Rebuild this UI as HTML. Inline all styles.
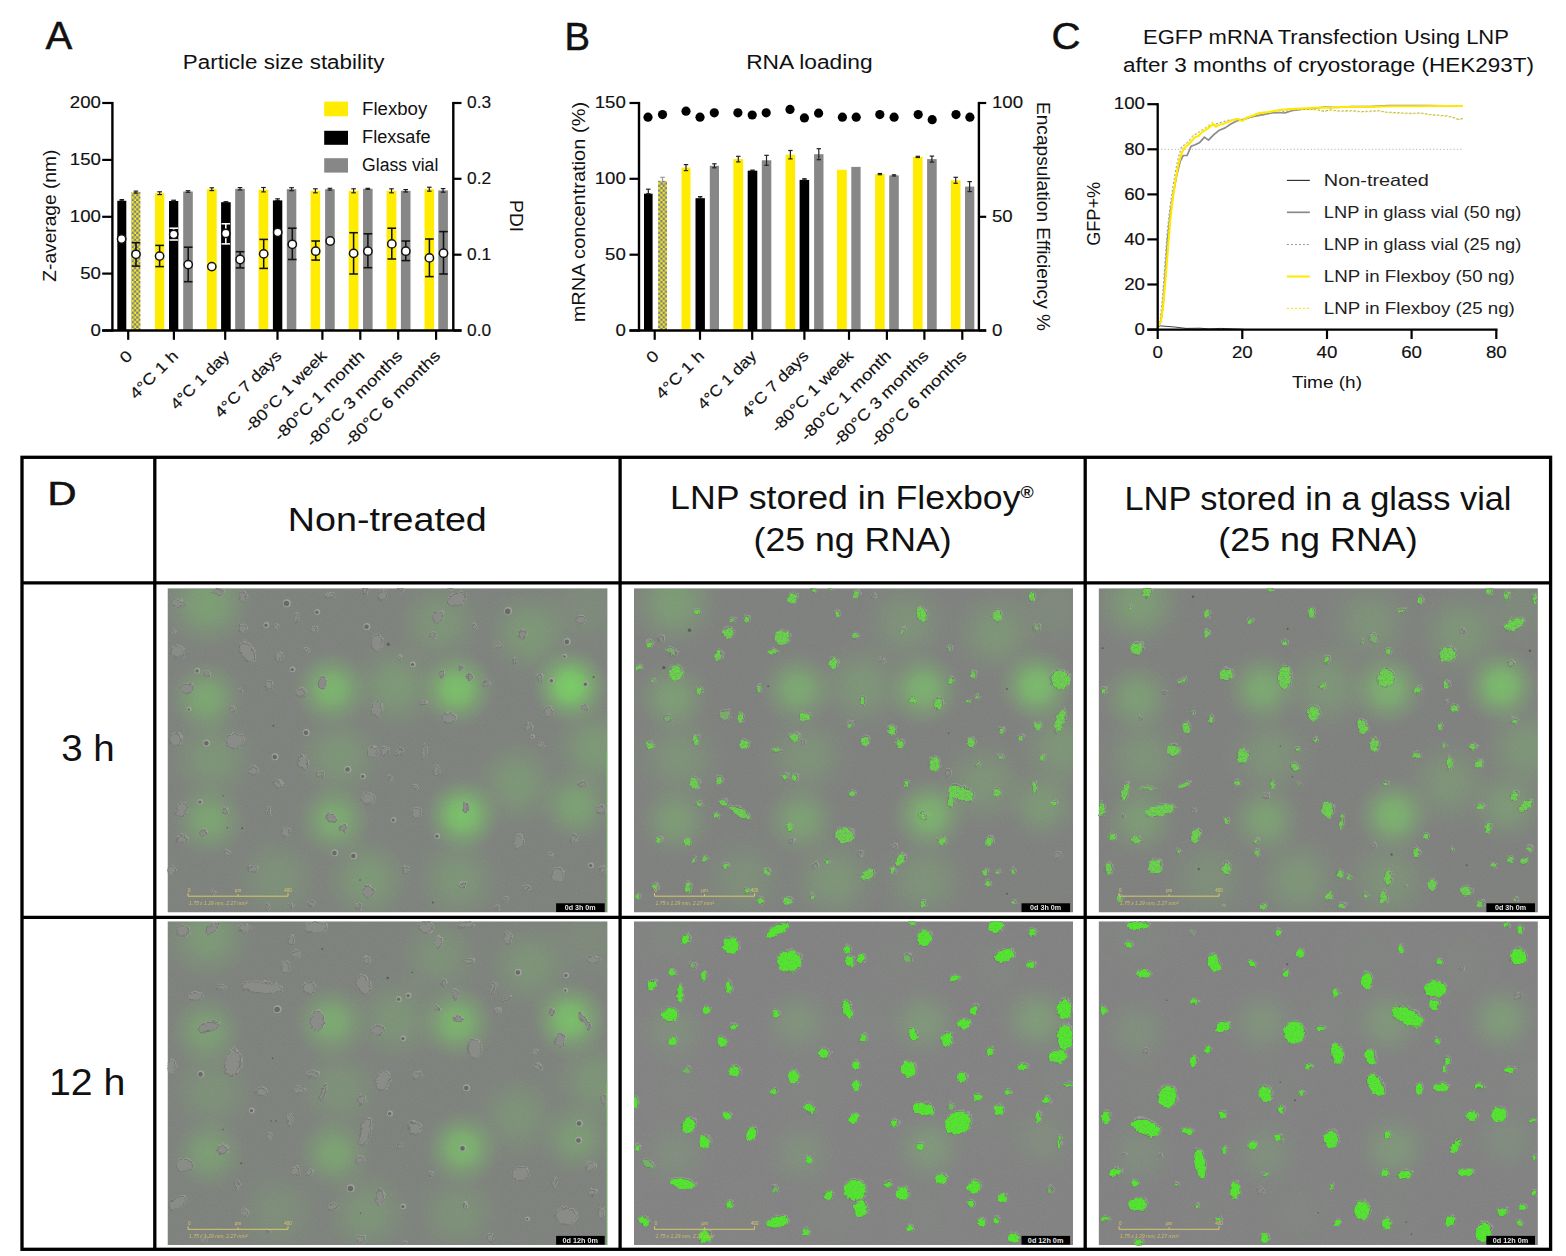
<!DOCTYPE html>
<html><head><meta charset="utf-8"><title>Figure</title>
<style>
html,body{margin:0;padding:0;background:#fff;}
svg{display:block;font-family:"Liberation Sans", sans-serif;}
</style></head>
<body>
<svg width="1566" height="1256" viewBox="0 0 1566 1256">
<defs>
<pattern id="hatch" x="131.5" y="196.4" width="4.7" height="4.7" patternUnits="userSpaceOnUse">
<rect width="4.7" height="4.7" fill="#F5EC10"/><rect x="2.35" y="0" width="2.35" height="2.35" fill="#7a7a9c"/><rect x="0" y="2.35" width="2.35" height="2.35" fill="#7a7a9c"/>
</pattern>

<radialGradient id="blob"><stop offset="0" stop-color="rgb(120,216,98)" stop-opacity="0.88"/><stop offset="0.3" stop-color="rgb(120,214,98)" stop-opacity="0.74"/><stop offset="0.6" stop-color="rgb(120,205,100)" stop-opacity="0.36"/><stop offset="0.85" stop-color="rgb(122,195,105)" stop-opacity="0.09"/><stop offset="1" stop-color="rgb(122,190,105)" stop-opacity="0"/></radialGradient>
<filter id="rough" x="-2%" y="-2%" width="104%" height="104%"><feTurbulence type="fractalNoise" baseFrequency="0.22" numOctaves="2" seed="3" result="n"/><feDisplacementMap in="SourceGraphic" in2="n" scale="5" xChannelSelector="R" yChannelSelector="G"/></filter>
<filter id="roughtex" x="-2%" y="-2%" width="104%" height="104%"><feTurbulence type="fractalNoise" baseFrequency="0.22" numOctaves="2" seed="3" result="n"/><feDisplacementMap in="SourceGraphic" in2="n" scale="5" xChannelSelector="R" yChannelSelector="G" result="d"/><feTurbulence type="fractalNoise" baseFrequency="0.55" numOctaves="2" seed="11" result="n2"/><feColorMatrix in="n2" type="matrix" values="0 0 0 0 0  0 0 0 0 0  0 0 0 0 0  1.7 0 0 0 -0.08" result="m"/><feComposite in="d" in2="m" operator="in" result="c"/><feGaussianBlur in="c" stdDeviation="0.7"/></filter>
<filter id="roughtex2" x="-2%" y="-2%" width="104%" height="104%"><feTurbulence type="fractalNoise" baseFrequency="0.22" numOctaves="2" seed="3" result="n"/><feDisplacementMap in="SourceGraphic" in2="n" scale="5" xChannelSelector="R" yChannelSelector="G" result="d"/><feTurbulence type="fractalNoise" baseFrequency="0.6" numOctaves="2" seed="5" result="n2"/><feColorMatrix in="n2" type="matrix" values="0 0 0 0 0  0 0 0 0 0  0 0 0 0 0  1.5 0 0 0 0.2" result="m"/><feComposite in="d" in2="m" operator="in" result="c"/><feGaussianBlur in="c" stdDeviation="0.55"/></filter>
<filter id="grain" x="0" y="0" width="100%" height="100%"><feTurbulence type="fractalNoise" baseFrequency="0.55" numOctaves="2" seed="7" result="n"/><feColorMatrix in="n" type="matrix" values="0 0 0 0 0.5  0 0 0 0 0.5  0 0 0 0 0.5  0.9 0 0 0 -0.33"/></filter>

</defs>
<rect width="1566" height="1256" fill="#fff"/>
<text x="45.4" y="49.4" font-size="39.5" text-anchor="start" fill="#111" textLength="26.8" lengthAdjust="spacingAndGlyphs" stroke="#111" stroke-width="0.5">A</text>
<text x="564.6" y="49.6" font-size="39.5" text-anchor="start" fill="#111" textLength="25.5" lengthAdjust="spacingAndGlyphs" stroke="#111" stroke-width="0.5">B</text>
<text x="1051.5" y="49.3" font-size="36.5" text-anchor="start" fill="#111" textLength="29.0" lengthAdjust="spacingAndGlyphs" stroke="#111" stroke-width="0.5">C</text>
<rect x="117.3" y="200.8" width="9.0" height="129.7" fill="#000000" />
<line x1="121.8" y1="199.6" x2="121.8" y2="200.8" stroke="#1a1a1a" stroke-width="1.15" />
<line x1="119.5" y1="199.6" x2="124.1" y2="199.6" stroke="#1a1a1a" stroke-width="1.15" />
<line x1="119.5" y1="200.8" x2="124.1" y2="200.8" stroke="#1a1a1a" stroke-width="1.15" />
<rect x="131.3" y="192.1" width="9.1" height="138.4" fill="url(#hatch)" />
<line x1="135.9" y1="191.1" x2="135.9" y2="193.1" stroke="#1a1a1a" stroke-width="1.15" />
<line x1="133.6" y1="191.1" x2="138.2" y2="191.1" stroke="#1a1a1a" stroke-width="1.15" />
<line x1="133.6" y1="193.1" x2="138.2" y2="193.1" stroke="#1a1a1a" stroke-width="1.15" />
<rect x="155.0" y="193.2" width="9.3" height="137.3" fill="#FFEC00" />
<line x1="159.7" y1="191.8" x2="159.7" y2="194.6" stroke="#1a1a1a" stroke-width="1.15" />
<line x1="157.3" y1="191.8" x2="162.0" y2="191.8" stroke="#1a1a1a" stroke-width="1.15" />
<line x1="157.3" y1="194.6" x2="162.0" y2="194.6" stroke="#1a1a1a" stroke-width="1.15" />
<rect x="169.0" y="201.0" width="9.3" height="129.5" fill="#000000" />
<line x1="173.7" y1="200.2" x2="173.7" y2="201.0" stroke="#1a1a1a" stroke-width="1.15" />
<line x1="171.3" y1="200.2" x2="176.0" y2="200.2" stroke="#1a1a1a" stroke-width="1.15" />
<line x1="171.3" y1="201.0" x2="176.0" y2="201.0" stroke="#1a1a1a" stroke-width="1.15" />
<rect x="183.2" y="191.5" width="9.6" height="139.0" fill="#878787" />
<line x1="188.0" y1="190.7" x2="188.0" y2="192.3" stroke="#1a1a1a" stroke-width="1.15" />
<line x1="185.7" y1="190.7" x2="190.3" y2="190.7" stroke="#1a1a1a" stroke-width="1.15" />
<line x1="185.7" y1="192.3" x2="190.3" y2="192.3" stroke="#1a1a1a" stroke-width="1.15" />
<rect x="206.9" y="189.2" width="9.8" height="141.3" fill="#FFEC00" />
<line x1="211.8" y1="187.8" x2="211.8" y2="190.6" stroke="#1a1a1a" stroke-width="1.15" />
<line x1="209.5" y1="187.8" x2="214.1" y2="187.8" stroke="#1a1a1a" stroke-width="1.15" />
<line x1="209.5" y1="190.6" x2="214.1" y2="190.6" stroke="#1a1a1a" stroke-width="1.15" />
<rect x="221.1" y="202.2" width="9.6" height="128.3" fill="#000000" />
<line x1="225.9" y1="201.7" x2="225.9" y2="202.2" stroke="#1a1a1a" stroke-width="1.15" />
<line x1="223.6" y1="201.7" x2="228.2" y2="201.7" stroke="#1a1a1a" stroke-width="1.15" />
<line x1="223.6" y1="202.2" x2="228.2" y2="202.2" stroke="#1a1a1a" stroke-width="1.15" />
<rect x="235.2" y="188.8" width="9.6" height="141.7" fill="#878787" />
<line x1="240.0" y1="187.6" x2="240.0" y2="190.0" stroke="#1a1a1a" stroke-width="1.15" />
<line x1="237.7" y1="187.6" x2="242.3" y2="187.6" stroke="#1a1a1a" stroke-width="1.15" />
<line x1="237.7" y1="190.0" x2="242.3" y2="190.0" stroke="#1a1a1a" stroke-width="1.15" />
<rect x="258.6" y="189.7" width="9.7" height="140.8" fill="#FFEC00" />
<line x1="263.5" y1="187.5" x2="263.5" y2="191.9" stroke="#1a1a1a" stroke-width="1.15" />
<line x1="261.2" y1="187.5" x2="265.8" y2="187.5" stroke="#1a1a1a" stroke-width="1.15" />
<line x1="261.2" y1="191.9" x2="265.8" y2="191.9" stroke="#1a1a1a" stroke-width="1.15" />
<rect x="272.9" y="200.4" width="9.4" height="130.1" fill="#000000" />
<line x1="277.6" y1="198.8" x2="277.6" y2="200.4" stroke="#1a1a1a" stroke-width="1.15" />
<line x1="275.3" y1="198.8" x2="279.9" y2="198.8" stroke="#1a1a1a" stroke-width="1.15" />
<line x1="275.3" y1="200.4" x2="279.9" y2="200.4" stroke="#1a1a1a" stroke-width="1.15" />
<rect x="286.8" y="189.2" width="9.5" height="141.3" fill="#878787" />
<line x1="291.6" y1="187.7" x2="291.6" y2="190.7" stroke="#1a1a1a" stroke-width="1.15" />
<line x1="289.2" y1="187.7" x2="293.9" y2="187.7" stroke="#1a1a1a" stroke-width="1.15" />
<line x1="289.2" y1="190.7" x2="293.9" y2="190.7" stroke="#1a1a1a" stroke-width="1.15" />
<rect x="310.6" y="190.8" width="9.6" height="139.7" fill="#FFEC00" />
<line x1="315.4" y1="188.8" x2="315.4" y2="192.8" stroke="#1a1a1a" stroke-width="1.15" />
<line x1="313.1" y1="188.8" x2="317.7" y2="188.8" stroke="#1a1a1a" stroke-width="1.15" />
<line x1="313.1" y1="192.8" x2="317.7" y2="192.8" stroke="#1a1a1a" stroke-width="1.15" />
<rect x="325.1" y="189.2" width="9.6" height="141.3" fill="#878787" />
<line x1="329.9" y1="188.3" x2="329.9" y2="190.1" stroke="#1a1a1a" stroke-width="1.15" />
<line x1="327.6" y1="188.3" x2="332.2" y2="188.3" stroke="#1a1a1a" stroke-width="1.15" />
<line x1="327.6" y1="190.1" x2="332.2" y2="190.1" stroke="#1a1a1a" stroke-width="1.15" />
<rect x="348.7" y="190.8" width="9.8" height="139.7" fill="#FFEC00" />
<line x1="353.6" y1="188.8" x2="353.6" y2="192.8" stroke="#1a1a1a" stroke-width="1.15" />
<line x1="351.3" y1="188.8" x2="355.9" y2="188.8" stroke="#1a1a1a" stroke-width="1.15" />
<line x1="351.3" y1="192.8" x2="355.9" y2="192.8" stroke="#1a1a1a" stroke-width="1.15" />
<rect x="363.0" y="188.8" width="9.6" height="141.7" fill="#878787" />
<line x1="367.8" y1="188.3" x2="367.8" y2="189.3" stroke="#1a1a1a" stroke-width="1.15" />
<line x1="365.5" y1="188.3" x2="370.1" y2="188.3" stroke="#1a1a1a" stroke-width="1.15" />
<line x1="365.5" y1="189.3" x2="370.1" y2="189.3" stroke="#1a1a1a" stroke-width="1.15" />
<rect x="386.6" y="190.8" width="9.8" height="139.7" fill="#FFEC00" />
<line x1="391.5" y1="188.8" x2="391.5" y2="192.8" stroke="#1a1a1a" stroke-width="1.15" />
<line x1="389.2" y1="188.8" x2="393.8" y2="188.8" stroke="#1a1a1a" stroke-width="1.15" />
<line x1="389.2" y1="192.8" x2="393.8" y2="192.8" stroke="#1a1a1a" stroke-width="1.15" />
<rect x="400.9" y="190.8" width="9.6" height="139.7" fill="#878787" />
<line x1="405.7" y1="189.6" x2="405.7" y2="192.0" stroke="#1a1a1a" stroke-width="1.15" />
<line x1="403.4" y1="189.6" x2="408.0" y2="189.6" stroke="#1a1a1a" stroke-width="1.15" />
<line x1="403.4" y1="192.0" x2="408.0" y2="192.0" stroke="#1a1a1a" stroke-width="1.15" />
<rect x="424.5" y="189.2" width="9.6" height="141.3" fill="#FFEC00" />
<line x1="429.3" y1="187.2" x2="429.3" y2="191.2" stroke="#1a1a1a" stroke-width="1.15" />
<line x1="427.0" y1="187.2" x2="431.6" y2="187.2" stroke="#1a1a1a" stroke-width="1.15" />
<line x1="427.0" y1="191.2" x2="431.6" y2="191.2" stroke="#1a1a1a" stroke-width="1.15" />
<rect x="438.3" y="190.4" width="9.6" height="140.1" fill="#878787" />
<line x1="443.1" y1="188.6" x2="443.1" y2="192.2" stroke="#1a1a1a" stroke-width="1.15" />
<line x1="440.8" y1="188.6" x2="445.4" y2="188.6" stroke="#1a1a1a" stroke-width="1.15" />
<line x1="440.8" y1="192.2" x2="445.4" y2="192.2" stroke="#1a1a1a" stroke-width="1.15" />
<circle cx="121.6" cy="239.0" r="4.15" fill="#fff" stroke="#111" stroke-width="1.5"/>
<line x1="136.0" y1="242.7" x2="136.0" y2="266.1" stroke="#111" stroke-width="1.55" />
<line x1="131.7" y1="242.7" x2="140.3" y2="242.7" stroke="#111" stroke-width="1.55" />
<line x1="131.7" y1="266.1" x2="140.3" y2="266.1" stroke="#111" stroke-width="1.55" />
<circle cx="136.0" cy="254.3" r="4.15" fill="#fff" stroke="#111" stroke-width="1.5"/>
<line x1="159.6" y1="245.4" x2="159.6" y2="266.6" stroke="#111" stroke-width="1.55" />
<line x1="155.3" y1="245.4" x2="163.9" y2="245.4" stroke="#111" stroke-width="1.55" />
<line x1="155.3" y1="266.6" x2="163.9" y2="266.6" stroke="#111" stroke-width="1.55" />
<circle cx="159.6" cy="256.1" r="4.15" fill="#fff" stroke="#111" stroke-width="1.5"/>
<line x1="173.7" y1="228.2" x2="173.7" y2="240.0" stroke="#fff" stroke-width="1.55" />
<line x1="169.4" y1="228.2" x2="178.0" y2="228.2" stroke="#fff" stroke-width="1.55" />
<line x1="169.4" y1="240.0" x2="178.0" y2="240.0" stroke="#fff" stroke-width="1.55" />
<circle cx="173.7" cy="234.3" r="4.15" fill="#fff" stroke="#111" stroke-width="1.5"/>
<line x1="188.2" y1="247.2" x2="188.2" y2="281.7" stroke="#111" stroke-width="1.55" />
<line x1="183.9" y1="247.2" x2="192.5" y2="247.2" stroke="#111" stroke-width="1.55" />
<line x1="183.9" y1="281.7" x2="192.5" y2="281.7" stroke="#111" stroke-width="1.55" />
<circle cx="188.2" cy="264.6" r="4.15" fill="#fff" stroke="#111" stroke-width="1.5"/>
<circle cx="211.8" cy="266.6" r="4.15" fill="#fff" stroke="#111" stroke-width="1.5"/>
<line x1="225.8" y1="223.8" x2="225.8" y2="243.9" stroke="#fff" stroke-width="1.55" />
<line x1="221.5" y1="223.8" x2="230.1" y2="223.8" stroke="#fff" stroke-width="1.55" />
<line x1="221.5" y1="243.9" x2="230.1" y2="243.9" stroke="#fff" stroke-width="1.55" />
<circle cx="225.8" cy="233.4" r="4.15" fill="#fff" stroke="#111" stroke-width="1.5"/>
<line x1="240.1" y1="251.7" x2="240.1" y2="267.9" stroke="#111" stroke-width="1.55" />
<line x1="235.8" y1="251.7" x2="244.4" y2="251.7" stroke="#111" stroke-width="1.55" />
<line x1="235.8" y1="267.9" x2="244.4" y2="267.9" stroke="#111" stroke-width="1.55" />
<circle cx="240.1" cy="259.5" r="4.15" fill="#fff" stroke="#111" stroke-width="1.5"/>
<line x1="263.7" y1="239.4" x2="263.7" y2="268.4" stroke="#111" stroke-width="1.55" />
<line x1="259.4" y1="239.4" x2="268.0" y2="239.4" stroke="#111" stroke-width="1.55" />
<line x1="259.4" y1="268.4" x2="268.0" y2="268.4" stroke="#111" stroke-width="1.55" />
<circle cx="263.7" cy="253.9" r="4.15" fill="#fff" stroke="#111" stroke-width="1.5"/>
<circle cx="277.7" cy="232.3" r="4.15" fill="#fff" stroke="#111" stroke-width="1.5"/>
<line x1="292.3" y1="228.2" x2="292.3" y2="259.5" stroke="#111" stroke-width="1.55" />
<line x1="288.0" y1="228.2" x2="296.6" y2="228.2" stroke="#111" stroke-width="1.55" />
<line x1="288.0" y1="259.5" x2="296.6" y2="259.5" stroke="#111" stroke-width="1.55" />
<circle cx="292.3" cy="244.3" r="4.15" fill="#fff" stroke="#111" stroke-width="1.5"/>
<line x1="315.7" y1="241.0" x2="315.7" y2="260.1" stroke="#111" stroke-width="1.55" />
<line x1="311.4" y1="241.0" x2="320.0" y2="241.0" stroke="#111" stroke-width="1.55" />
<line x1="311.4" y1="260.1" x2="320.0" y2="260.1" stroke="#111" stroke-width="1.55" />
<circle cx="315.7" cy="251.2" r="4.15" fill="#fff" stroke="#111" stroke-width="1.5"/>
<circle cx="330.2" cy="241.0" r="4.15" fill="#fff" stroke="#111" stroke-width="1.5"/>
<line x1="353.6" y1="232.7" x2="353.6" y2="274.0" stroke="#111" stroke-width="1.55" />
<line x1="349.3" y1="232.7" x2="357.9" y2="232.7" stroke="#111" stroke-width="1.55" />
<line x1="349.3" y1="274.0" x2="357.9" y2="274.0" stroke="#111" stroke-width="1.55" />
<circle cx="353.6" cy="253.4" r="4.15" fill="#fff" stroke="#111" stroke-width="1.5"/>
<line x1="367.9" y1="233.8" x2="367.9" y2="267.7" stroke="#111" stroke-width="1.55" />
<line x1="363.6" y1="233.8" x2="372.2" y2="233.8" stroke="#111" stroke-width="1.55" />
<line x1="363.6" y1="267.7" x2="372.2" y2="267.7" stroke="#111" stroke-width="1.55" />
<circle cx="367.9" cy="251.2" r="4.15" fill="#fff" stroke="#111" stroke-width="1.5"/>
<line x1="391.8" y1="228.2" x2="391.8" y2="259.0" stroke="#111" stroke-width="1.55" />
<line x1="387.5" y1="228.2" x2="396.1" y2="228.2" stroke="#111" stroke-width="1.55" />
<line x1="387.5" y1="259.0" x2="396.1" y2="259.0" stroke="#111" stroke-width="1.55" />
<circle cx="391.8" cy="243.9" r="4.15" fill="#fff" stroke="#111" stroke-width="1.5"/>
<line x1="405.8" y1="241.0" x2="405.8" y2="260.6" stroke="#111" stroke-width="1.55" />
<line x1="401.5" y1="241.0" x2="410.1" y2="241.0" stroke="#111" stroke-width="1.55" />
<line x1="401.5" y1="260.6" x2="410.1" y2="260.6" stroke="#111" stroke-width="1.55" />
<circle cx="405.8" cy="251.2" r="4.15" fill="#fff" stroke="#111" stroke-width="1.5"/>
<line x1="429.4" y1="239.0" x2="429.4" y2="276.6" stroke="#111" stroke-width="1.55" />
<line x1="425.1" y1="239.0" x2="433.7" y2="239.0" stroke="#111" stroke-width="1.55" />
<line x1="425.1" y1="276.6" x2="433.7" y2="276.6" stroke="#111" stroke-width="1.55" />
<circle cx="429.4" cy="257.9" r="4.15" fill="#fff" stroke="#111" stroke-width="1.5"/>
<line x1="443.5" y1="231.6" x2="443.5" y2="274.0" stroke="#111" stroke-width="1.55" />
<line x1="439.2" y1="231.6" x2="447.8" y2="231.6" stroke="#111" stroke-width="1.55" />
<line x1="439.2" y1="274.0" x2="447.8" y2="274.0" stroke="#111" stroke-width="1.55" />
<circle cx="443.5" cy="253.2" r="4.15" fill="#fff" stroke="#111" stroke-width="1.5"/>
<line x1="112.4" y1="101.9" x2="112.4" y2="331.6" stroke="#000" stroke-width="2.4" />
<line x1="102.2" y1="330.5" x2="461.5" y2="330.5" stroke="#000" stroke-width="2.3" />
<line x1="453.3" y1="101.9" x2="453.3" y2="330.5" stroke="#000" stroke-width="2.4" />
<line x1="102.2" y1="330.5" x2="112.4" y2="330.5" stroke="#000" stroke-width="2.2" />
<text x="100.9" y="335.7" font-size="15.6" text-anchor="end" fill="#111" textLength="10.4" lengthAdjust="spacingAndGlyphs" stroke="#111" stroke-width="0.15">0</text>
<line x1="102.2" y1="273.6" x2="112.4" y2="273.6" stroke="#000" stroke-width="2.2" />
<text x="100.9" y="278.8" font-size="15.6" text-anchor="end" fill="#111" textLength="20.7" lengthAdjust="spacingAndGlyphs" stroke="#111" stroke-width="0.15">50</text>
<line x1="102.2" y1="216.8" x2="112.4" y2="216.8" stroke="#000" stroke-width="2.2" />
<text x="100.9" y="221.9" font-size="15.6" text-anchor="end" fill="#111" textLength="31.1" lengthAdjust="spacingAndGlyphs" stroke="#111" stroke-width="0.15">100</text>
<line x1="102.2" y1="159.9" x2="112.4" y2="159.9" stroke="#000" stroke-width="2.2" />
<text x="100.9" y="165.1" font-size="15.6" text-anchor="end" fill="#111" textLength="31.1" lengthAdjust="spacingAndGlyphs" stroke="#111" stroke-width="0.15">150</text>
<line x1="102.2" y1="103.0" x2="112.4" y2="103.0" stroke="#000" stroke-width="2.2" />
<text x="100.9" y="108.2" font-size="15.6" text-anchor="end" fill="#111" textLength="31.1" lengthAdjust="spacingAndGlyphs" stroke="#111" stroke-width="0.15">200</text>
<line x1="453.3" y1="330.5" x2="461.5" y2="330.5" stroke="#000" stroke-width="2.2" />
<text x="467.0" y="335.7" font-size="15.6" text-anchor="start" fill="#111" textLength="24.1" lengthAdjust="spacingAndGlyphs" stroke="#111" stroke-width="0.15">0.0</text>
<line x1="453.3" y1="254.7" x2="461.5" y2="254.7" stroke="#000" stroke-width="2.2" />
<text x="467.0" y="259.9" font-size="15.6" text-anchor="start" fill="#111" textLength="24.1" lengthAdjust="spacingAndGlyphs" stroke="#111" stroke-width="0.15">0.1</text>
<line x1="453.3" y1="178.8" x2="461.5" y2="178.8" stroke="#000" stroke-width="2.2" />
<text x="467.0" y="184.0" font-size="15.6" text-anchor="start" fill="#111" textLength="24.1" lengthAdjust="spacingAndGlyphs" stroke="#111" stroke-width="0.15">0.2</text>
<line x1="453.3" y1="103.0" x2="461.5" y2="103.0" stroke="#000" stroke-width="2.2" />
<text x="467.0" y="108.2" font-size="15.6" text-anchor="start" fill="#111" textLength="24.1" lengthAdjust="spacingAndGlyphs" stroke="#111" stroke-width="0.15">0.3</text>
<line x1="128.2" y1="330.5" x2="128.2" y2="339.8" stroke="#000" stroke-width="2.2" />
<text x="133.4" y="356.8" font-size="15.6" text-anchor="end" fill="#111" textLength="10.5" lengthAdjust="spacingAndGlyphs" transform="rotate(-45 133.4 356.8)" stroke="#111" stroke-width="0.15">0</text>
<line x1="173.9" y1="330.5" x2="173.9" y2="339.8" stroke="#000" stroke-width="2.2" />
<text x="179.1" y="356.8" font-size="15.6" text-anchor="end" fill="#111" textLength="61.0" lengthAdjust="spacingAndGlyphs" transform="rotate(-45 179.1 356.8)" stroke="#111" stroke-width="0.15">4°C 1 h</text>
<line x1="225.2" y1="330.5" x2="225.2" y2="339.8" stroke="#000" stroke-width="2.2" />
<text x="230.4" y="356.8" font-size="15.6" text-anchor="end" fill="#111" textLength="76.0" lengthAdjust="spacingAndGlyphs" transform="rotate(-45 230.4 356.8)" stroke="#111" stroke-width="0.15">4°C 1 day</text>
<line x1="277.5" y1="330.5" x2="277.5" y2="339.8" stroke="#000" stroke-width="2.2" />
<text x="282.7" y="356.8" font-size="15.6" text-anchor="end" fill="#111" textLength="87.5" lengthAdjust="spacingAndGlyphs" transform="rotate(-45 282.7 356.8)" stroke="#111" stroke-width="0.15">4°C 7 days</text>
<line x1="322.4" y1="330.5" x2="322.4" y2="339.8" stroke="#000" stroke-width="2.2" />
<text x="327.6" y="356.8" font-size="15.6" text-anchor="end" fill="#111" textLength="108.5" lengthAdjust="spacingAndGlyphs" transform="rotate(-45 327.6 356.8)" stroke="#111" stroke-width="0.15">-80°C 1 week</text>
<line x1="360.3" y1="330.5" x2="360.3" y2="339.8" stroke="#000" stroke-width="2.2" />
<text x="365.5" y="356.8" font-size="15.6" text-anchor="end" fill="#111" textLength="120.5" lengthAdjust="spacingAndGlyphs" transform="rotate(-45 365.5 356.8)" stroke="#111" stroke-width="0.15">-80°C 1 month</text>
<line x1="398.2" y1="330.5" x2="398.2" y2="339.8" stroke="#000" stroke-width="2.2" />
<text x="403.4" y="356.8" font-size="15.6" text-anchor="end" fill="#111" textLength="128.5" lengthAdjust="spacingAndGlyphs" transform="rotate(-45 403.4 356.8)" stroke="#111" stroke-width="0.15">-80°C 3 months</text>
<line x1="436.1" y1="330.5" x2="436.1" y2="339.8" stroke="#000" stroke-width="2.2" />
<text x="441.3" y="356.8" font-size="15.6" text-anchor="end" fill="#111" textLength="128.5" lengthAdjust="spacingAndGlyphs" transform="rotate(-45 441.3 356.8)" stroke="#111" stroke-width="0.15">-80°C 6 months</text>
<text x="55.8" y="215.7" font-size="17.5" text-anchor="middle" fill="#111" textLength="131.9" lengthAdjust="spacingAndGlyphs" transform="rotate(-90 55.8 215.7)" >Z-average (nm)</text>
<text x="509.6" y="216.1" font-size="18.0" text-anchor="middle" fill="#111" textLength="32.0" lengthAdjust="spacingAndGlyphs" transform="rotate(90 509.6 216.1)" >PDI</text>
<text x="283.6" y="69.3" font-size="20" text-anchor="middle" fill="#111" textLength="201.5" lengthAdjust="spacingAndGlyphs" >Particle size stability</text>
<rect x="324.2" y="101.6" width="23.8" height="14.7" fill="#FFEC00" />
<text x="362.1" y="114.6" font-size="18" text-anchor="start" fill="#111" textLength="65.1" lengthAdjust="spacingAndGlyphs" >Flexboy</text>
<rect x="324.2" y="130.8" width="23.8" height="14.0" fill="#000000" />
<text x="362.1" y="143.1" font-size="18" text-anchor="start" fill="#111" textLength="68.4" lengthAdjust="spacingAndGlyphs" >Flexsafe</text>
<rect x="324.2" y="158.2" width="23.8" height="14.4" fill="#878787" />
<text x="362.1" y="171.4" font-size="18" text-anchor="start" fill="#111" textLength="76.2" lengthAdjust="spacingAndGlyphs" >Glass vial</text>
<rect x="644.0" y="193.7" width="8.6" height="136.8" fill="#000000" />
<line x1="648.3" y1="189.2" x2="648.3" y2="193.7" stroke="#222" stroke-width="1.2" />
<line x1="646.1" y1="189.2" x2="650.5" y2="189.2" stroke="#222" stroke-width="1.2" />
<line x1="646.1" y1="193.7" x2="650.5" y2="193.7" stroke="#222" stroke-width="1.2" />
<rect x="658.1" y="180.8" width="8.9" height="149.7" fill="url(#hatch)" />
<line x1="662.5" y1="177.3" x2="662.5" y2="184.3" stroke="#999" stroke-width="1.2" />
<line x1="660.3" y1="177.3" x2="664.8" y2="177.3" stroke="#999" stroke-width="1.2" />
<line x1="660.3" y1="184.3" x2="664.8" y2="184.3" stroke="#999" stroke-width="1.2" />
<rect x="681.5" y="167.6" width="9.0" height="162.9" fill="#FFEC00" />
<line x1="686.0" y1="164.6" x2="686.0" y2="170.6" stroke="#222" stroke-width="1.2" />
<line x1="683.8" y1="164.6" x2="688.2" y2="164.6" stroke="#222" stroke-width="1.2" />
<line x1="683.8" y1="170.6" x2="688.2" y2="170.6" stroke="#222" stroke-width="1.2" />
<rect x="695.5" y="198.2" width="9.4" height="132.3" fill="#000000" />
<line x1="700.2" y1="196.6" x2="700.2" y2="198.2" stroke="#222" stroke-width="1.2" />
<line x1="698.0" y1="196.6" x2="702.4" y2="196.6" stroke="#222" stroke-width="1.2" />
<line x1="698.0" y1="198.2" x2="702.4" y2="198.2" stroke="#222" stroke-width="1.2" />
<rect x="709.8" y="165.8" width="9.2" height="164.7" fill="#878787" />
<line x1="714.4" y1="163.8" x2="714.4" y2="167.8" stroke="#222" stroke-width="1.2" />
<line x1="712.2" y1="163.8" x2="716.6" y2="163.8" stroke="#222" stroke-width="1.2" />
<line x1="712.2" y1="167.8" x2="716.6" y2="167.8" stroke="#222" stroke-width="1.2" />
<rect x="733.4" y="159.1" width="9.8" height="171.4" fill="#FFEC00" />
<line x1="738.3" y1="156.3" x2="738.3" y2="161.9" stroke="#222" stroke-width="1.2" />
<line x1="736.1" y1="156.3" x2="740.5" y2="156.3" stroke="#222" stroke-width="1.2" />
<line x1="736.1" y1="161.9" x2="740.5" y2="161.9" stroke="#222" stroke-width="1.2" />
<rect x="747.7" y="170.7" width="9.6" height="159.8" fill="#000000" />
<line x1="752.5" y1="170.1" x2="752.5" y2="170.7" stroke="#222" stroke-width="1.2" />
<line x1="750.3" y1="170.1" x2="754.7" y2="170.1" stroke="#222" stroke-width="1.2" />
<line x1="750.3" y1="170.7" x2="754.7" y2="170.7" stroke="#222" stroke-width="1.2" />
<rect x="761.8" y="160.3" width="9.5" height="170.2" fill="#878787" />
<line x1="766.5" y1="155.3" x2="766.5" y2="165.3" stroke="#222" stroke-width="1.2" />
<line x1="764.3" y1="155.3" x2="768.8" y2="155.3" stroke="#222" stroke-width="1.2" />
<line x1="764.3" y1="165.3" x2="768.8" y2="165.3" stroke="#222" stroke-width="1.2" />
<rect x="785.6" y="154.7" width="9.6" height="175.8" fill="#FFEC00" />
<line x1="790.4" y1="150.5" x2="790.4" y2="158.9" stroke="#222" stroke-width="1.2" />
<line x1="788.2" y1="150.5" x2="792.6" y2="150.5" stroke="#222" stroke-width="1.2" />
<line x1="788.2" y1="158.9" x2="792.6" y2="158.9" stroke="#222" stroke-width="1.2" />
<rect x="799.6" y="179.9" width="9.6" height="150.6" fill="#000000" />
<line x1="804.4" y1="178.7" x2="804.4" y2="179.9" stroke="#222" stroke-width="1.2" />
<line x1="802.2" y1="178.7" x2="806.6" y2="178.7" stroke="#222" stroke-width="1.2" />
<line x1="802.2" y1="179.9" x2="806.6" y2="179.9" stroke="#222" stroke-width="1.2" />
<rect x="814.1" y="154.2" width="9.4" height="176.3" fill="#878787" />
<line x1="818.8" y1="148.7" x2="818.8" y2="159.7" stroke="#222" stroke-width="1.2" />
<line x1="816.6" y1="148.7" x2="821.0" y2="148.7" stroke="#222" stroke-width="1.2" />
<line x1="816.6" y1="159.7" x2="821.0" y2="159.7" stroke="#222" stroke-width="1.2" />
<rect x="837.0" y="169.8" width="9.8" height="160.7" fill="#FFEC00" />
<rect x="851.3" y="166.9" width="9.3" height="163.6" fill="#878787" />
<rect x="875.1" y="174.1" width="9.6" height="156.4" fill="#FFEC00" />
<line x1="879.9" y1="173.5" x2="879.9" y2="174.7" stroke="#222" stroke-width="1.2" />
<line x1="877.7" y1="173.5" x2="882.1" y2="173.5" stroke="#222" stroke-width="1.2" />
<line x1="877.7" y1="174.7" x2="882.1" y2="174.7" stroke="#222" stroke-width="1.2" />
<rect x="889.2" y="175.4" width="9.6" height="155.1" fill="#878787" />
<line x1="894.0" y1="174.8" x2="894.0" y2="176.0" stroke="#222" stroke-width="1.2" />
<line x1="891.8" y1="174.8" x2="896.2" y2="174.8" stroke="#222" stroke-width="1.2" />
<line x1="891.8" y1="176.0" x2="896.2" y2="176.0" stroke="#222" stroke-width="1.2" />
<rect x="913.0" y="156.9" width="9.6" height="173.6" fill="#FFEC00" />
<line x1="917.8" y1="156.3" x2="917.8" y2="157.5" stroke="#222" stroke-width="1.2" />
<line x1="915.6" y1="156.3" x2="920.0" y2="156.3" stroke="#222" stroke-width="1.2" />
<line x1="915.6" y1="157.5" x2="920.0" y2="157.5" stroke="#222" stroke-width="1.2" />
<rect x="927.1" y="159.1" width="9.6" height="171.4" fill="#878787" />
<line x1="931.9" y1="156.1" x2="931.9" y2="162.1" stroke="#222" stroke-width="1.2" />
<line x1="929.7" y1="156.1" x2="934.1" y2="156.1" stroke="#222" stroke-width="1.2" />
<line x1="929.7" y1="162.1" x2="934.1" y2="162.1" stroke="#222" stroke-width="1.2" />
<rect x="950.9" y="180.3" width="9.6" height="150.2" fill="#FFEC00" />
<line x1="955.7" y1="177.3" x2="955.7" y2="183.3" stroke="#222" stroke-width="1.2" />
<line x1="953.5" y1="177.3" x2="957.9" y2="177.3" stroke="#222" stroke-width="1.2" />
<line x1="953.5" y1="183.3" x2="957.9" y2="183.3" stroke="#222" stroke-width="1.2" />
<rect x="965.0" y="186.6" width="9.3" height="143.9" fill="#878787" />
<line x1="969.6" y1="181.6" x2="969.6" y2="191.6" stroke="#222" stroke-width="1.2" />
<line x1="967.4" y1="181.6" x2="971.9" y2="181.6" stroke="#222" stroke-width="1.2" />
<line x1="967.4" y1="191.6" x2="971.9" y2="191.6" stroke="#222" stroke-width="1.2" />
<circle cx="648.0" cy="117.2" r="4.6" fill="#000"/>
<circle cx="662.5" cy="114.6" r="4.6" fill="#000"/>
<circle cx="686.0" cy="111.2" r="4.6" fill="#000"/>
<circle cx="700.0" cy="117.2" r="4.6" fill="#000"/>
<circle cx="714.3" cy="112.8" r="4.6" fill="#000"/>
<circle cx="737.9" cy="112.8" r="4.6" fill="#000"/>
<circle cx="752.2" cy="115.0" r="4.6" fill="#000"/>
<circle cx="766.2" cy="112.8" r="4.6" fill="#000"/>
<circle cx="790.0" cy="109.4" r="4.6" fill="#000"/>
<circle cx="804.4" cy="117.9" r="4.6" fill="#000"/>
<circle cx="818.6" cy="113.2" r="4.6" fill="#000"/>
<circle cx="842.4" cy="117.2" r="4.6" fill="#000"/>
<circle cx="856.2" cy="117.2" r="4.6" fill="#000"/>
<circle cx="879.8" cy="114.6" r="4.6" fill="#000"/>
<circle cx="894.1" cy="117.2" r="4.6" fill="#000"/>
<circle cx="918.2" cy="114.6" r="4.6" fill="#000"/>
<circle cx="932.2" cy="119.7" r="4.6" fill="#000"/>
<circle cx="956.0" cy="114.6" r="4.6" fill="#000"/>
<circle cx="969.9" cy="117.2" r="4.6" fill="#000"/>
<line x1="639.0" y1="101.9" x2="639.0" y2="331.6" stroke="#000" stroke-width="2.4" />
<line x1="629.5" y1="330.5" x2="986.2" y2="330.5" stroke="#000" stroke-width="2.3" />
<line x1="978.9" y1="101.9" x2="978.9" y2="330.5" stroke="#000" stroke-width="2.4" />
<line x1="629.5" y1="330.5" x2="639.0" y2="330.5" stroke="#000" stroke-width="2.2" />
<text x="625.8" y="335.7" font-size="15.6" text-anchor="end" fill="#111" textLength="10.4" lengthAdjust="spacingAndGlyphs" stroke="#111" stroke-width="0.15">0</text>
<line x1="629.5" y1="254.7" x2="639.0" y2="254.7" stroke="#000" stroke-width="2.2" />
<text x="625.8" y="259.9" font-size="15.6" text-anchor="end" fill="#111" textLength="20.7" lengthAdjust="spacingAndGlyphs" stroke="#111" stroke-width="0.15">50</text>
<line x1="629.5" y1="178.8" x2="639.0" y2="178.8" stroke="#000" stroke-width="2.2" />
<text x="625.8" y="184.0" font-size="15.6" text-anchor="end" fill="#111" textLength="31.1" lengthAdjust="spacingAndGlyphs" stroke="#111" stroke-width="0.15">100</text>
<line x1="629.5" y1="103.0" x2="639.0" y2="103.0" stroke="#000" stroke-width="2.2" />
<text x="625.8" y="108.2" font-size="15.6" text-anchor="end" fill="#111" textLength="31.1" lengthAdjust="spacingAndGlyphs" stroke="#111" stroke-width="0.15">150</text>
<line x1="978.9" y1="330.5" x2="986.2" y2="330.5" stroke="#000" stroke-width="2.2" />
<text x="992.0" y="335.7" font-size="15.6" text-anchor="start" fill="#111" textLength="10.4" lengthAdjust="spacingAndGlyphs" stroke="#111" stroke-width="0.15">0</text>
<line x1="978.9" y1="216.8" x2="986.2" y2="216.8" stroke="#000" stroke-width="2.2" />
<text x="992.0" y="221.9" font-size="15.6" text-anchor="start" fill="#111" textLength="20.7" lengthAdjust="spacingAndGlyphs" stroke="#111" stroke-width="0.15">50</text>
<line x1="978.9" y1="103.0" x2="986.2" y2="103.0" stroke="#000" stroke-width="2.2" />
<text x="992.0" y="108.2" font-size="15.6" text-anchor="start" fill="#111" textLength="31.1" lengthAdjust="spacingAndGlyphs" stroke="#111" stroke-width="0.15">100</text>
<line x1="654.7" y1="330.5" x2="654.7" y2="339.8" stroke="#000" stroke-width="2.2" />
<text x="659.9" y="356.8" font-size="15.6" text-anchor="end" fill="#111" textLength="10.5" lengthAdjust="spacingAndGlyphs" transform="rotate(-45 659.9 356.8)" stroke="#111" stroke-width="0.15">0</text>
<line x1="700.0" y1="330.5" x2="700.0" y2="339.8" stroke="#000" stroke-width="2.2" />
<text x="705.2" y="356.8" font-size="15.6" text-anchor="end" fill="#111" textLength="61.0" lengthAdjust="spacingAndGlyphs" transform="rotate(-45 705.2 356.8)" stroke="#111" stroke-width="0.15">4°C 1 h</text>
<line x1="752.2" y1="330.5" x2="752.2" y2="339.8" stroke="#000" stroke-width="2.2" />
<text x="757.4" y="356.8" font-size="15.6" text-anchor="end" fill="#111" textLength="76.0" lengthAdjust="spacingAndGlyphs" transform="rotate(-45 757.4 356.8)" stroke="#111" stroke-width="0.15">4°C 1 day</text>
<line x1="804.4" y1="330.5" x2="804.4" y2="339.8" stroke="#000" stroke-width="2.2" />
<text x="809.6" y="356.8" font-size="15.6" text-anchor="end" fill="#111" textLength="87.5" lengthAdjust="spacingAndGlyphs" transform="rotate(-45 809.6 356.8)" stroke="#111" stroke-width="0.15">4°C 7 days</text>
<line x1="849.0" y1="330.5" x2="849.0" y2="339.8" stroke="#000" stroke-width="2.2" />
<text x="854.2" y="356.8" font-size="15.6" text-anchor="end" fill="#111" textLength="108.5" lengthAdjust="spacingAndGlyphs" transform="rotate(-45 854.2 356.8)" stroke="#111" stroke-width="0.15">-80°C 1 week</text>
<line x1="886.9" y1="330.5" x2="886.9" y2="339.8" stroke="#000" stroke-width="2.2" />
<text x="892.1" y="356.8" font-size="15.6" text-anchor="end" fill="#111" textLength="120.5" lengthAdjust="spacingAndGlyphs" transform="rotate(-45 892.1 356.8)" stroke="#111" stroke-width="0.15">-80°C 1 month</text>
<line x1="924.4" y1="330.5" x2="924.4" y2="339.8" stroke="#000" stroke-width="2.2" />
<text x="929.6" y="356.8" font-size="15.6" text-anchor="end" fill="#111" textLength="128.5" lengthAdjust="spacingAndGlyphs" transform="rotate(-45 929.6 356.8)" stroke="#111" stroke-width="0.15">-80°C 3 months</text>
<line x1="962.3" y1="330.5" x2="962.3" y2="339.8" stroke="#000" stroke-width="2.2" />
<text x="967.5" y="356.8" font-size="15.6" text-anchor="end" fill="#111" textLength="128.5" lengthAdjust="spacingAndGlyphs" transform="rotate(-45 967.5 356.8)" stroke="#111" stroke-width="0.15">-80°C 6 months</text>
<text x="585.0" y="212.1" font-size="17.5" text-anchor="middle" fill="#111" textLength="220.5" lengthAdjust="spacingAndGlyphs" transform="rotate(-90 585.0 212.1)" >mRNA concentration (%)</text>
<text x="1036.5" y="216.5" font-size="17.5" text-anchor="middle" fill="#111" textLength="229.0" lengthAdjust="spacingAndGlyphs" transform="rotate(90 1036.5 216.5)" >Encapsulation Efficiency %</text>
<text x="809.4" y="69.3" font-size="20" text-anchor="middle" fill="#111" textLength="126.5" lengthAdjust="spacingAndGlyphs" >RNA loading</text>
<line x1="1157.7" y1="149.3" x2="1462.4" y2="149.3" stroke="#b5b5b5" stroke-width="1.0" stroke-dasharray="1.2 2.2"/>
<path d="M1157.9 326.8 L1160.7 325.9 L1174.5 327.0 L1186.0 328.4 L1199.8 328.2 L1209.0 328.9 L1220.5 328.4 L1243.4 329.3" fill="none" stroke="#444" stroke-width="1.0" stroke-linejoin="round"/>
<path d="M1157.9 326.8 L1160.7 322.2 L1163.0 306.1 L1165.3 273.9 L1167.6 239.4 L1170.3 214.1 L1173.3 193.4 L1176.8 175.1 L1180.2 161.3 L1183.2 155.5 L1187.1 155.5 L1191.0 146.3 L1195.2 144.7 L1199.8 142.4 L1204.4 137.1 L1208.5 140.1 L1213.6 134.8 L1219.3 130.2 L1225.1 127.9 L1230.8 124.0 L1236.6 121.0 L1243.4 119.4 L1250.3 117.1 L1257.2 115.7 L1264.1 114.4 L1271.0 113.0 L1277.9 112.5 L1284.8 113.0 L1291.7 110.7 L1300.9 109.3 L1314.7 108.4 L1323.9 107.0 L1337.7 107.5 L1351.5 106.6 L1369.9 106.6 L1388.3 105.6 L1406.7 105.6 L1427.4 105.6 L1445.7 105.9 L1463.0 106.1" fill="none" stroke="#8a8a8a" stroke-width="1.7" stroke-linejoin="round"/>
<path d="M1157.9 326.8 L1160.2 319.9 L1162.5 296.9 L1164.8 264.7 L1167.1 232.5 L1169.9 207.2 L1172.6 188.9 L1175.6 170.5 L1178.6 156.7 L1181.4 147.0 L1184.8 144.7 L1188.3 141.7 L1192.9 136.0 L1197.5 133.2 L1203.2 129.1 L1209.0 126.3 L1215.9 124.0 L1222.8 121.7 L1229.7 119.9 L1236.6 119.0 L1243.4 119.9 L1250.3 117.6 L1259.5 115.7 L1268.7 113.9 L1277.9 112.5 L1289.4 110.7 L1300.9 108.9 L1314.7 109.3 L1323.9 111.1 L1330.8 109.8 L1340.0 111.1 L1351.5 110.7 L1360.7 111.6 L1369.9 111.1 L1379.1 110.7 L1386.0 112.1 L1392.9 112.5 L1402.1 113.0 L1411.3 113.4 L1420.5 113.0 L1429.7 114.4 L1438.9 115.3 L1445.7 115.7 L1452.6 117.1 L1458.4 119.4 L1463.0 118.5" fill="none" stroke="#9a9a9a" stroke-width="1.1" stroke-linejoin="round" stroke-dasharray="2 2"/>
<path d="M1157.9 326.8 L1160.7 321.0 L1163.0 302.6 L1165.3 276.2 L1167.6 246.3 L1169.9 218.7 L1172.4 198.0 L1175.2 178.5 L1178.2 162.4 L1180.9 152.1 L1184.1 145.2 L1187.8 142.4 L1191.0 138.7 L1194.7 134.1 L1197.9 132.8 L1201.6 130.5 L1205.5 127.9 L1209.0 124.9 L1212.6 122.2 L1215.9 125.6 L1219.3 124.5 L1223.2 123.6 L1227.4 121.7 L1232.0 119.9 L1237.7 118.5 L1242.3 121.7 L1245.7 118.5 L1252.6 115.7 L1259.5 113.9 L1268.7 112.5 L1277.9 110.7 L1289.4 109.8 L1300.9 109.3 L1314.7 109.8 L1323.9 111.6 L1330.8 110.2 L1340.0 111.6 L1351.5 111.1 L1360.7 112.1 L1369.9 111.6 L1379.1 111.1 L1386.0 112.5 L1392.9 113.0 L1402.1 113.4 L1411.3 113.9 L1420.5 113.4 L1429.7 114.8 L1438.9 115.7 L1445.7 116.2 L1452.6 117.6 L1458.4 119.9 L1463.0 119.0" fill="none" stroke="#F5E52A" stroke-width="1.2" stroke-linejoin="round" stroke-dasharray="2 2"/>
<path d="M1157.9 326.8 L1161.1 321.0 L1163.4 303.8 L1165.7 278.5 L1168.0 248.6 L1170.3 221.0 L1172.6 200.3 L1175.6 179.7 L1178.6 163.6 L1181.4 153.9 L1184.8 147.5 L1188.3 144.7 L1191.7 141.0 L1195.2 137.1 L1198.6 136.0 L1202.1 132.1 L1206.7 129.5 L1210.1 126.8 L1213.1 124.0 L1215.9 126.8 L1219.3 124.9 L1222.8 124.0 L1227.4 122.2 L1232.0 120.3 L1237.7 119.0 L1242.3 121.0 L1245.7 118.0 L1252.6 115.7 L1259.5 113.0 L1268.7 112.1 L1277.9 110.2 L1289.4 108.9 L1300.9 108.4 L1314.7 107.7 L1323.9 107.5 L1330.8 107.9 L1337.7 107.0 L1369.9 106.8 L1392.9 106.3 L1415.9 106.3 L1438.9 105.9 L1463.0 105.9" fill="none" stroke="#FFE900" stroke-width="2.0" stroke-linejoin="round"/>
<line x1="1157.7" y1="103.1" x2="1157.7" y2="330.7" stroke="#000" stroke-width="2.3" />
<line x1="1147.3" y1="329.6" x2="1497.5" y2="329.6" stroke="#000" stroke-width="2.3" />
<line x1="1147.3" y1="329.6" x2="1157.7" y2="329.6" stroke="#000" stroke-width="2.2" />
<text x="1145.0" y="334.8" font-size="16.0" text-anchor="end" fill="#111" textLength="10.4" lengthAdjust="spacingAndGlyphs" stroke="#111" stroke-width="0.15">0</text>
<line x1="1147.3" y1="284.5" x2="1157.7" y2="284.5" stroke="#000" stroke-width="2.2" />
<text x="1145.0" y="289.7" font-size="16.0" text-anchor="end" fill="#111" textLength="20.8" lengthAdjust="spacingAndGlyphs" stroke="#111" stroke-width="0.15">20</text>
<line x1="1147.3" y1="239.4" x2="1157.7" y2="239.4" stroke="#000" stroke-width="2.2" />
<text x="1145.0" y="244.6" font-size="16.0" text-anchor="end" fill="#111" textLength="20.8" lengthAdjust="spacingAndGlyphs" stroke="#111" stroke-width="0.15">40</text>
<line x1="1147.3" y1="194.4" x2="1157.7" y2="194.4" stroke="#000" stroke-width="2.2" />
<text x="1145.0" y="199.6" font-size="16.0" text-anchor="end" fill="#111" textLength="20.8" lengthAdjust="spacingAndGlyphs" stroke="#111" stroke-width="0.15">60</text>
<line x1="1147.3" y1="149.3" x2="1157.7" y2="149.3" stroke="#000" stroke-width="2.2" />
<text x="1145.0" y="154.5" font-size="16.0" text-anchor="end" fill="#111" textLength="20.8" lengthAdjust="spacingAndGlyphs" stroke="#111" stroke-width="0.15">80</text>
<line x1="1147.3" y1="104.2" x2="1157.7" y2="104.2" stroke="#000" stroke-width="2.2" />
<text x="1145.0" y="109.4" font-size="16.0" text-anchor="end" fill="#111" textLength="31.2" lengthAdjust="spacingAndGlyphs" stroke="#111" stroke-width="0.15">100</text>
<line x1="1157.7" y1="329.6" x2="1157.7" y2="339.0" stroke="#000" stroke-width="2.2" />
<text x="1157.7" y="358.4" font-size="16.0" text-anchor="middle" fill="#111" textLength="10.4" lengthAdjust="spacingAndGlyphs" stroke="#111" stroke-width="0.15">0</text>
<line x1="1242.3" y1="329.6" x2="1242.3" y2="339.0" stroke="#000" stroke-width="2.2" />
<text x="1242.3" y="358.4" font-size="16.0" text-anchor="middle" fill="#111" textLength="20.8" lengthAdjust="spacingAndGlyphs" stroke="#111" stroke-width="0.15">20</text>
<line x1="1327.0" y1="329.6" x2="1327.0" y2="339.0" stroke="#000" stroke-width="2.2" />
<text x="1327.0" y="358.4" font-size="16.0" text-anchor="middle" fill="#111" textLength="20.8" lengthAdjust="spacingAndGlyphs" stroke="#111" stroke-width="0.15">40</text>
<line x1="1411.6" y1="329.6" x2="1411.6" y2="339.0" stroke="#000" stroke-width="2.2" />
<text x="1411.6" y="358.4" font-size="16.0" text-anchor="middle" fill="#111" textLength="20.8" lengthAdjust="spacingAndGlyphs" stroke="#111" stroke-width="0.15">60</text>
<line x1="1496.3" y1="329.6" x2="1496.3" y2="339.0" stroke="#000" stroke-width="2.2" />
<text x="1496.3" y="358.4" font-size="16.0" text-anchor="middle" fill="#111" textLength="20.8" lengthAdjust="spacingAndGlyphs" stroke="#111" stroke-width="0.15">80</text>
<text x="1099.6" y="213.8" font-size="18.5" text-anchor="middle" fill="#111" textLength="64.0" lengthAdjust="spacingAndGlyphs" transform="rotate(-90 1099.6 213.8)" >GFP+%</text>
<text x="1327.0" y="388.4" font-size="16.5" text-anchor="middle" fill="#111" textLength="70.0" lengthAdjust="spacingAndGlyphs" >Time (h)</text>
<text x="1326.0" y="43.6" font-size="20" text-anchor="middle" fill="#111" textLength="365.8" lengthAdjust="spacingAndGlyphs" >EGFP mRNA Transfection Using LNP</text>
<text x="1328.5" y="71.5" font-size="20" text-anchor="middle" fill="#111" textLength="411.0" lengthAdjust="spacingAndGlyphs" >after 3 months of cryostorage (HEK293T)</text>
<line x1="1286.9" y1="180.4" x2="1309.8" y2="180.4" stroke="#333" stroke-width="1.2" />
<text x="1323.8" y="186.2" font-size="17" text-anchor="start" fill="#222" textLength="105.0" lengthAdjust="spacingAndGlyphs" >Non-treated</text>
<line x1="1286.9" y1="212.3" x2="1309.8" y2="212.3" stroke="#8a8a8a" stroke-width="1.7" />
<text x="1323.8" y="218.1" font-size="17" text-anchor="start" fill="#222" textLength="197.5" lengthAdjust="spacingAndGlyphs" >LNP in glass vial (50 ng)</text>
<line x1="1286.9" y1="244.5" x2="1309.8" y2="244.5" stroke="#9a9a9a" stroke-width="1.1" stroke-dasharray="2 2"/>
<text x="1323.8" y="250.3" font-size="17" text-anchor="start" fill="#222" textLength="197.5" lengthAdjust="spacingAndGlyphs" >LNP in glass vial (25 ng)</text>
<line x1="1286.9" y1="276.5" x2="1309.8" y2="276.5" stroke="#FFE900" stroke-width="2.0" />
<text x="1323.8" y="282.3" font-size="17" text-anchor="start" fill="#222" textLength="191.0" lengthAdjust="spacingAndGlyphs" >LNP in Flexboy (50 ng)</text>
<line x1="1286.9" y1="308.4" x2="1309.8" y2="308.4" stroke="#F5E52A" stroke-width="1.2" stroke-dasharray="2 2"/>
<text x="1323.8" y="314.2" font-size="17" text-anchor="start" fill="#222" textLength="191.0" lengthAdjust="spacingAndGlyphs" >LNP in Flexboy (25 ng)</text>
<rect x="22.0" y="457.3" width="1528.6" height="792.0" fill="none" stroke="#000" stroke-width="3.3"/>
<line x1="154.8" y1="457.3" x2="154.8" y2="1249.3" stroke="#000" stroke-width="3.3" />
<line x1="620.1" y1="457.3" x2="620.1" y2="1249.3" stroke="#000" stroke-width="3.3" />
<line x1="1085.2" y1="457.3" x2="1085.2" y2="1249.3" stroke="#000" stroke-width="3.3" />
<line x1="22.0" y1="582.8" x2="1550.6" y2="582.8" stroke="#000" stroke-width="3.3" />
<line x1="22.0" y1="917.4" x2="1550.6" y2="917.4" stroke="#000" stroke-width="3.3" />
<text x="47.4" y="505.4" font-size="33" text-anchor="start" fill="#111" textLength="29.0" lengthAdjust="spacingAndGlyphs" stroke="#111" stroke-width="0.6">D</text>
<text x="387.3" y="531.2" font-size="34" text-anchor="middle" fill="#111" textLength="199.0" lengthAdjust="spacingAndGlyphs" >Non-treated</text>
<text x="845.3" y="509.4" font-size="34" text-anchor="middle" fill="#111" textLength="350.5" lengthAdjust="spacingAndGlyphs" >LNP stored in Flexboy</text>
<text x="1020.4" y="498.0" font-size="16" text-anchor="start" fill="#111" font-weight="bold" textLength="13.2" lengthAdjust="spacingAndGlyphs" >®</text>
<text x="852.6" y="551.0" font-size="34" text-anchor="middle" fill="#111" textLength="198.0" lengthAdjust="spacingAndGlyphs" >(25 ng RNA)</text>
<text x="1318.0" y="510.0" font-size="34" text-anchor="middle" fill="#111" textLength="387.0" lengthAdjust="spacingAndGlyphs" >LNP stored in a glass vial</text>
<text x="1318.0" y="551.0" font-size="34" text-anchor="middle" fill="#111" textLength="199.5" lengthAdjust="spacingAndGlyphs" >(25 ng RNA)</text>
<text x="87.9" y="760.6" font-size="36" text-anchor="middle" fill="#111" textLength="53.5" lengthAdjust="spacingAndGlyphs" >3 h</text>
<text x="87.2" y="1094.8" font-size="36" text-anchor="middle" fill="#111" textLength="76.5" lengthAdjust="spacingAndGlyphs" >12 h</text>
<clipPath id="clip00"><rect x="167.5" y="588.2" width="440.1" height="324.3"/></clipPath>
<g clip-path="url(#clip00)">
<rect x="167.5" y="588.2" width="440.1" height="324.3" fill="#7f817e" />
<rect x="167.5" y="588.2" width="440.1" height="324.3" fill="rgb(118,200,100)" opacity="0.02"/>
<circle cx="206.2" cy="698.0" r="41" fill="url(#blob)" opacity="0.50"/>
<circle cx="331.4" cy="689.2" r="41" fill="url(#blob)" opacity="0.68"/>
<circle cx="456.6" cy="689.2" r="41" fill="url(#blob)" opacity="0.82"/>
<circle cx="570.2" cy="686.2" r="41" fill="url(#blob)" opacity="1.00"/>
<circle cx="209.1" cy="820.2" r="41" fill="url(#blob)" opacity="0.46"/>
<circle cx="334.3" cy="820.2" r="41" fill="url(#blob)" opacity="0.55"/>
<circle cx="462.5" cy="815.2" r="41" fill="url(#blob)" opacity="0.85"/>
<circle cx="576.0" cy="805.7" r="41" fill="url(#blob)" opacity="0.42"/>
<circle cx="207.5" cy="603.2" r="50" fill="url(#blob)" opacity="0.40"/>
<circle cx="395.5" cy="686.2" r="50" fill="url(#blob)" opacity="0.30"/>
<circle cx="595.5" cy="748.2" r="50" fill="url(#blob)" opacity="0.30"/>
<circle cx="517.5" cy="783.2" r="50" fill="url(#blob)" opacity="0.28"/>
<circle cx="339.5" cy="756.2" r="50" fill="url(#blob)" opacity="0.25"/>
<circle cx="212.5" cy="758.2" r="50" fill="url(#blob)" opacity="0.25"/>
<circle cx="367.5" cy="880.2" r="50" fill="url(#blob)" opacity="0.30"/>
<circle cx="457.5" cy="880.2" r="50" fill="url(#blob)" opacity="0.25"/>
<circle cx="529.5" cy="633.2" r="50" fill="url(#blob)" opacity="0.30"/>
<circle cx="439.5" cy="623.2" r="50" fill="url(#blob)" opacity="0.25"/>
<circle cx="587.5" cy="608.2" r="50" fill="url(#blob)" opacity="0.12"/>
<circle cx="277.5" cy="878.2" r="50" fill="url(#blob)" opacity="0.20"/>
<rect x="167.5" y="588.2" width="440.1" height="324.3" filter="url(#grain)" opacity="0.2"/>
<g filter="url(#rough)">
<ellipse cx="179.1" cy="603.0" rx="8.6" ry="4.2" fill="#a6a8a3" opacity="0.6" transform="rotate(10 179.1 603.0)"/>
<ellipse cx="178.6" cy="603.5" rx="7.7" ry="3.3" fill="#8a8c88" stroke="#62645f" stroke-width="0.6" transform="rotate(10 178.6 603.5)"/>
<ellipse cx="218.4" cy="591.3" rx="6.4" ry="3.7" fill="#a6a8a3" opacity="0.6"/>
<ellipse cx="217.9" cy="591.8" rx="5.5" ry="2.8" fill="#8a8c88" stroke="#62645f" stroke-width="0.6"/>
<ellipse cx="243.2" cy="596.3" rx="4.8" ry="5.9" fill="#a6a8a3" opacity="0.6"/>
<ellipse cx="242.7" cy="596.8" rx="3.9" ry="5.0" fill="#8a8c88" stroke="#62645f" stroke-width="0.6"/>
<ellipse cx="330.0" cy="594.8" rx="5.3" ry="3.7" fill="#a6a8a3" opacity="0.6"/>
<ellipse cx="329.5" cy="595.3" rx="4.4" ry="2.8" fill="#8a8c88" stroke="#62645f" stroke-width="0.6"/>
<ellipse cx="365.5" cy="590.5" rx="3.7" ry="4.8" fill="#a6a8a3" opacity="0.6"/>
<ellipse cx="365.0" cy="591.0" rx="2.8" ry="3.9" fill="#8a8c88" stroke="#62645f" stroke-width="0.6"/>
<ellipse cx="383.0" cy="594.8" rx="4.8" ry="6.4" fill="#a6a8a3" opacity="0.6" transform="rotate(30 383.0 594.8)"/>
<ellipse cx="382.5" cy="595.3" rx="3.9" ry="5.5" fill="#8a8c88" stroke="#62645f" stroke-width="0.6" transform="rotate(30 382.5 595.3)"/>
<ellipse cx="400.4" cy="588.4" rx="4.2" ry="3.1" fill="#a6a8a3" opacity="0.6"/>
<ellipse cx="399.9" cy="588.9" rx="3.3" ry="2.2" fill="#8a8c88" stroke="#62645f" stroke-width="0.6"/>
<ellipse cx="457.2" cy="599.2" rx="10.6" ry="7.0" fill="#a6a8a3" opacity="0.6" transform="rotate(-20 457.2 599.2)"/>
<ellipse cx="456.7" cy="599.7" rx="9.7" ry="6.1" fill="#8a8c88" stroke="#62645f" stroke-width="0.6" transform="rotate(-20 456.7 599.7)"/>
<ellipse cx="449.9" cy="588.4" rx="3.1" ry="2.6" fill="#a6a8a3" opacity="0.6"/>
<ellipse cx="449.4" cy="588.9" rx="2.2" ry="1.7" fill="#8a8c88" stroke="#62645f" stroke-width="0.6"/>
<ellipse cx="296.5" cy="617.5" rx="3.1" ry="5.9" fill="#a6a8a3" opacity="0.6"/>
<ellipse cx="296.0" cy="618.0" rx="2.2" ry="5.0" fill="#8a8c88" stroke="#62645f" stroke-width="0.6"/>
<ellipse cx="276.7" cy="626.9" rx="2.6" ry="3.7" fill="#a6a8a3" opacity="0.6"/>
<ellipse cx="276.2" cy="627.4" rx="1.7" ry="2.8" fill="#8a8c88" stroke="#62645f" stroke-width="0.6"/>
<ellipse cx="243.2" cy="628.3" rx="4.8" ry="4.8" fill="#a6a8a3" opacity="0.6"/>
<ellipse cx="242.7" cy="628.8" rx="3.9" ry="3.9" fill="#8a8c88" stroke="#62645f" stroke-width="0.6"/>
<ellipse cx="314.5" cy="629.2" rx="4.2" ry="3.7" fill="#a6a8a3" opacity="0.6"/>
<ellipse cx="314.0" cy="629.7" rx="3.3" ry="2.8" fill="#8a8c88" stroke="#62645f" stroke-width="0.6"/>
<ellipse cx="438.3" cy="616.7" rx="7.0" ry="5.9" fill="#a6a8a3" opacity="0.6" transform="rotate(-40 438.3 616.7)"/>
<ellipse cx="437.8" cy="617.2" rx="6.1" ry="5.0" fill="#8a8c88" stroke="#62645f" stroke-width="0.6" transform="rotate(-40 437.8 617.2)"/>
<ellipse cx="433.3" cy="635.0" rx="3.1" ry="3.7" fill="#a6a8a3" opacity="0.6"/>
<ellipse cx="432.8" cy="635.5" rx="2.2" ry="2.8" fill="#8a8c88" stroke="#62645f" stroke-width="0.6"/>
<ellipse cx="474.7" cy="626.3" rx="2.6" ry="3.7" fill="#a6a8a3" opacity="0.6"/>
<ellipse cx="474.2" cy="626.8" rx="1.7" ry="2.8" fill="#8a8c88" stroke="#62645f" stroke-width="0.6"/>
<ellipse cx="522.7" cy="634.1" rx="4.2" ry="4.8" fill="#a6a8a3" opacity="0.6"/>
<ellipse cx="522.2" cy="634.6" rx="3.3" ry="3.9" fill="#8a8c88" stroke="#62645f" stroke-width="0.6"/>
<ellipse cx="581.0" cy="619.6" rx="4.8" ry="4.8" fill="#a6a8a3" opacity="0.6"/>
<ellipse cx="580.5" cy="620.1" rx="3.9" ry="3.9" fill="#8a8c88" stroke="#62645f" stroke-width="0.6"/>
<ellipse cx="498.0" cy="645.2" rx="5.3" ry="3.1" fill="#a6a8a3" opacity="0.6"/>
<ellipse cx="497.5" cy="645.7" rx="4.4" ry="2.2" fill="#8a8c88" stroke="#62645f" stroke-width="0.6"/>
<ellipse cx="173.3" cy="632.1" rx="3.7" ry="2.6" fill="#a6a8a3" opacity="0.6"/>
<ellipse cx="172.8" cy="632.6" rx="2.8" ry="1.7" fill="#8a8c88" stroke="#62645f" stroke-width="0.6"/>
<ellipse cx="177.7" cy="651.6" rx="7.0" ry="7.0" fill="#a6a8a3" opacity="0.6"/>
<ellipse cx="177.2" cy="652.1" rx="6.1" ry="6.1" fill="#8a8c88" stroke="#62645f" stroke-width="0.6"/>
<ellipse cx="247.6" cy="651.6" rx="7.0" ry="12.0" fill="#a6a8a3" opacity="0.6" transform="rotate(-30 247.6 651.6)"/>
<ellipse cx="247.1" cy="652.1" rx="6.1" ry="11.1" fill="#8a8c88" stroke="#62645f" stroke-width="0.6" transform="rotate(-30 247.1 652.1)"/>
<ellipse cx="279.0" cy="656.0" rx="3.7" ry="5.3" fill="#a6a8a3" opacity="0.6"/>
<ellipse cx="278.5" cy="656.5" rx="2.8" ry="4.4" fill="#8a8c88" stroke="#62645f" stroke-width="0.6"/>
<ellipse cx="306.4" cy="650.2" rx="3.1" ry="4.2" fill="#a6a8a3" opacity="0.6"/>
<ellipse cx="305.9" cy="650.7" rx="2.2" ry="3.3" fill="#8a8c88" stroke="#62645f" stroke-width="0.6"/>
<ellipse cx="377.1" cy="642.9" rx="6.4" ry="9.2" fill="#a6a8a3" opacity="0.6"/>
<ellipse cx="376.6" cy="643.4" rx="5.5" ry="8.3" fill="#8a8c88" stroke="#62645f" stroke-width="0.6"/>
<ellipse cx="399.6" cy="657.4" rx="3.1" ry="3.1" fill="#a6a8a3" opacity="0.6"/>
<ellipse cx="399.1" cy="657.9" rx="2.2" ry="2.2" fill="#8a8c88" stroke="#62645f" stroke-width="0.6"/>
<ellipse cx="514.9" cy="661.2" rx="2.3" ry="4.2" fill="#a6a8a3" opacity="0.6"/>
<ellipse cx="514.4" cy="661.7" rx="1.4" ry="3.3" fill="#8a8c88" stroke="#62645f" stroke-width="0.6"/>
<ellipse cx="207.4" cy="674.0" rx="3.7" ry="3.7" fill="#a6a8a3" opacity="0.6"/>
<ellipse cx="206.9" cy="674.5" rx="2.8" ry="2.8" fill="#8a8c88" stroke="#62645f" stroke-width="0.6"/>
<ellipse cx="187.9" cy="688.0" rx="7.0" ry="5.3" fill="#a6a8a3" opacity="0.6"/>
<ellipse cx="187.4" cy="688.5" rx="6.1" ry="4.4" fill="#8a8c88" stroke="#62645f" stroke-width="0.6"/>
<ellipse cx="269.4" cy="685.1" rx="4.2" ry="5.3" fill="#a6a8a3" opacity="0.6"/>
<ellipse cx="268.9" cy="685.6" rx="3.3" ry="4.4" fill="#8a8c88" stroke="#62645f" stroke-width="0.6"/>
<ellipse cx="240.3" cy="690.9" rx="3.7" ry="2.6" fill="#a6a8a3" opacity="0.6"/>
<ellipse cx="239.8" cy="691.4" rx="2.8" ry="1.7" fill="#8a8c88" stroke="#62645f" stroke-width="0.6"/>
<ellipse cx="301.4" cy="692.4" rx="5.3" ry="4.2" fill="#a6a8a3" opacity="0.6"/>
<ellipse cx="300.9" cy="692.9" rx="4.4" ry="3.3" fill="#8a8c88" stroke="#62645f" stroke-width="0.6"/>
<ellipse cx="322.7" cy="682.2" rx="4.8" ry="7.0" fill="#a6a8a3" opacity="0.6"/>
<ellipse cx="322.2" cy="682.7" rx="3.9" ry="6.1" fill="#8a8c88" stroke="#62645f" stroke-width="0.6"/>
<ellipse cx="442.1" cy="673.5" rx="3.1" ry="4.2" fill="#a6a8a3" opacity="0.6"/>
<ellipse cx="441.6" cy="674.0" rx="2.2" ry="3.3" fill="#8a8c88" stroke="#62645f" stroke-width="0.6"/>
<ellipse cx="461.6" cy="667.6" rx="3.1" ry="3.1" fill="#a6a8a3" opacity="0.6"/>
<ellipse cx="461.1" cy="668.1" rx="2.2" ry="2.2" fill="#8a8c88" stroke="#62645f" stroke-width="0.6"/>
<ellipse cx="470.3" cy="677.0" rx="3.7" ry="4.2" fill="#a6a8a3" opacity="0.6"/>
<ellipse cx="469.8" cy="677.5" rx="2.8" ry="3.3" fill="#8a8c88" stroke="#62645f" stroke-width="0.6"/>
<ellipse cx="486.9" cy="683.1" rx="3.7" ry="3.7" fill="#a6a8a3" opacity="0.6"/>
<ellipse cx="486.4" cy="683.6" rx="2.8" ry="2.8" fill="#8a8c88" stroke="#62645f" stroke-width="0.6"/>
<ellipse cx="540.2" cy="677.8" rx="3.7" ry="4.2" fill="#a6a8a3" opacity="0.6"/>
<ellipse cx="539.7" cy="678.3" rx="2.8" ry="3.3" fill="#8a8c88" stroke="#62645f" stroke-width="0.6"/>
<ellipse cx="232.4" cy="709.0" rx="3.1" ry="3.7" fill="#a6a8a3" opacity="0.6"/>
<ellipse cx="231.9" cy="709.5" rx="2.2" ry="2.8" fill="#8a8c88" stroke="#62645f" stroke-width="0.6"/>
<ellipse cx="377.1" cy="709.0" rx="6.4" ry="8.6" fill="#a6a8a3" opacity="0.6"/>
<ellipse cx="376.6" cy="709.5" rx="5.5" ry="7.7" fill="#8a8c88" stroke="#62645f" stroke-width="0.6"/>
<ellipse cx="424.6" cy="703.2" rx="3.7" ry="3.1" fill="#a6a8a3" opacity="0.6"/>
<ellipse cx="424.1" cy="703.7" rx="2.8" ry="2.2" fill="#8a8c88" stroke="#62645f" stroke-width="0.6"/>
<ellipse cx="449.1" cy="717.7" rx="7.8" ry="5.9" fill="#a6a8a3" opacity="0.6"/>
<ellipse cx="448.6" cy="718.2" rx="6.9" ry="5.0" fill="#8a8c88" stroke="#62645f" stroke-width="0.6"/>
<ellipse cx="549.0" cy="711.3" rx="4.8" ry="5.9" fill="#a6a8a3" opacity="0.6"/>
<ellipse cx="548.5" cy="711.8" rx="3.9" ry="5.0" fill="#8a8c88" stroke="#62645f" stroke-width="0.6"/>
<ellipse cx="584.8" cy="707.8" rx="4.2" ry="3.7" fill="#a6a8a3" opacity="0.6"/>
<ellipse cx="584.3" cy="708.3" rx="3.3" ry="2.8" fill="#8a8c88" stroke="#62645f" stroke-width="0.6"/>
<ellipse cx="528.6" cy="726.5" rx="4.2" ry="3.7" fill="#a6a8a3" opacity="0.6"/>
<ellipse cx="528.1" cy="727.0" rx="3.3" ry="2.8" fill="#8a8c88" stroke="#62645f" stroke-width="0.6"/>
<ellipse cx="541.1" cy="744.8" rx="3.7" ry="3.7" fill="#a6a8a3" opacity="0.6"/>
<ellipse cx="540.6" cy="745.3" rx="2.8" ry="2.8" fill="#8a8c88" stroke="#62645f" stroke-width="0.6"/>
<ellipse cx="176.2" cy="739.0" rx="6.4" ry="7.0" fill="#a6a8a3" opacity="0.6"/>
<ellipse cx="175.7" cy="739.5" rx="5.5" ry="6.1" fill="#8a8c88" stroke="#62645f" stroke-width="0.6"/>
<ellipse cx="235.3" cy="740.4" rx="9.8" ry="7.8" fill="#a6a8a3" opacity="0.6"/>
<ellipse cx="234.8" cy="740.9" rx="8.9" ry="6.9" fill="#8a8c88" stroke="#62645f" stroke-width="0.6"/>
<ellipse cx="303.5" cy="762.3" rx="5.3" ry="8.6" fill="#a6a8a3" opacity="0.6" transform="rotate(-20 303.5 762.3)"/>
<ellipse cx="303.0" cy="762.8" rx="4.4" ry="7.7" fill="#8a8c88" stroke="#62645f" stroke-width="0.6" transform="rotate(-20 303.0 762.8)"/>
<ellipse cx="372.8" cy="752.1" rx="5.9" ry="6.4" fill="#a6a8a3" opacity="0.6"/>
<ellipse cx="372.3" cy="752.6" rx="5.0" ry="5.5" fill="#8a8c88" stroke="#62645f" stroke-width="0.6"/>
<ellipse cx="385.0" cy="750.6" rx="4.8" ry="4.8" fill="#a6a8a3" opacity="0.6"/>
<ellipse cx="384.5" cy="751.1" rx="3.9" ry="3.9" fill="#8a8c88" stroke="#62645f" stroke-width="0.6"/>
<ellipse cx="399.0" cy="752.1" rx="5.9" ry="3.1" fill="#a6a8a3" opacity="0.6" transform="rotate(-30 399.0 752.1)"/>
<ellipse cx="398.5" cy="752.6" rx="5.0" ry="2.2" fill="#8a8c88" stroke="#62645f" stroke-width="0.6" transform="rotate(-30 398.5 752.6)"/>
<ellipse cx="424.6" cy="752.1" rx="3.1" ry="7.8" fill="#a6a8a3" opacity="0.6"/>
<ellipse cx="424.1" cy="752.6" rx="2.2" ry="6.9" fill="#8a8c88" stroke="#62645f" stroke-width="0.6"/>
<ellipse cx="253.4" cy="771.0" rx="5.3" ry="5.3" fill="#a6a8a3" opacity="0.6"/>
<ellipse cx="252.9" cy="771.5" rx="4.4" ry="4.4" fill="#8a8c88" stroke="#62645f" stroke-width="0.6"/>
<ellipse cx="320.4" cy="773.9" rx="4.8" ry="3.7" fill="#a6a8a3" opacity="0.6"/>
<ellipse cx="319.9" cy="774.4" rx="3.9" ry="2.8" fill="#8a8c88" stroke="#62645f" stroke-width="0.6"/>
<ellipse cx="390.2" cy="777.7" rx="2.6" ry="3.1" fill="#a6a8a3" opacity="0.6"/>
<ellipse cx="389.7" cy="778.2" rx="1.7" ry="2.2" fill="#8a8c88" stroke="#62645f" stroke-width="0.6"/>
<ellipse cx="436.8" cy="770.4" rx="3.7" ry="5.9" fill="#a6a8a3" opacity="0.6"/>
<ellipse cx="436.3" cy="770.9" rx="2.8" ry="5.0" fill="#8a8c88" stroke="#62645f" stroke-width="0.6"/>
<ellipse cx="415.0" cy="786.4" rx="3.1" ry="3.7" fill="#a6a8a3" opacity="0.6"/>
<ellipse cx="414.5" cy="786.9" rx="2.2" ry="2.8" fill="#8a8c88" stroke="#62645f" stroke-width="0.6"/>
<ellipse cx="582.4" cy="784.1" rx="4.2" ry="4.2" fill="#a6a8a3" opacity="0.6"/>
<ellipse cx="581.9" cy="784.6" rx="3.3" ry="3.3" fill="#8a8c88" stroke="#62645f" stroke-width="0.6"/>
<ellipse cx="278.1" cy="783.5" rx="6.4" ry="3.7" fill="#a6a8a3" opacity="0.6" transform="rotate(20 278.1 783.5)"/>
<ellipse cx="277.6" cy="784.0" rx="5.5" ry="2.8" fill="#8a8c88" stroke="#62645f" stroke-width="0.6" transform="rotate(20 277.6 784.0)"/>
<ellipse cx="182.0" cy="809.7" rx="5.9" ry="8.6" fill="#a6a8a3" opacity="0.6" transform="rotate(30 182.0 809.7)"/>
<ellipse cx="181.5" cy="810.2" rx="5.0" ry="7.7" fill="#8a8c88" stroke="#62645f" stroke-width="0.6" transform="rotate(30 181.5 810.2)"/>
<ellipse cx="225.7" cy="811.2" rx="4.2" ry="3.7" fill="#a6a8a3" opacity="0.6"/>
<ellipse cx="225.2" cy="811.7" rx="3.3" ry="2.8" fill="#8a8c88" stroke="#62645f" stroke-width="0.6"/>
<ellipse cx="268.5" cy="809.7" rx="2.6" ry="4.8" fill="#a6a8a3" opacity="0.6"/>
<ellipse cx="268.0" cy="810.2" rx="1.7" ry="3.9" fill="#8a8c88" stroke="#62645f" stroke-width="0.6"/>
<ellipse cx="368.4" cy="798.1" rx="7.0" ry="6.4" fill="#a6a8a3" opacity="0.6"/>
<ellipse cx="367.9" cy="798.6" rx="6.1" ry="5.5" fill="#8a8c88" stroke="#62645f" stroke-width="0.6"/>
<ellipse cx="416.5" cy="811.8" rx="5.3" ry="5.9" fill="#a6a8a3" opacity="0.6"/>
<ellipse cx="416.0" cy="812.3" rx="4.4" ry="5.0" fill="#8a8c88" stroke="#62645f" stroke-width="0.6"/>
<ellipse cx="332.0" cy="817.6" rx="7.0" ry="4.2" fill="#a6a8a3" opacity="0.6" transform="rotate(30 332.0 817.6)"/>
<ellipse cx="331.5" cy="818.1" rx="6.1" ry="3.3" fill="#8a8c88" stroke="#62645f" stroke-width="0.6" transform="rotate(30 331.5 818.1)"/>
<ellipse cx="343.7" cy="827.8" rx="4.2" ry="4.2" fill="#a6a8a3" opacity="0.6"/>
<ellipse cx="343.2" cy="828.3" rx="3.3" ry="3.3" fill="#8a8c88" stroke="#62645f" stroke-width="0.6"/>
<ellipse cx="466.0" cy="806.8" rx="3.7" ry="6.4" fill="#a6a8a3" opacity="0.6"/>
<ellipse cx="465.5" cy="807.3" rx="2.8" ry="5.5" fill="#8a8c88" stroke="#62645f" stroke-width="0.6"/>
<ellipse cx="601.4" cy="809.7" rx="5.3" ry="4.8" fill="#a6a8a3" opacity="0.6"/>
<ellipse cx="600.9" cy="810.2" rx="4.4" ry="3.9" fill="#8a8c88" stroke="#62645f" stroke-width="0.6"/>
<ellipse cx="203.3" cy="832.7" rx="4.2" ry="3.7" fill="#a6a8a3" opacity="0.6"/>
<ellipse cx="202.8" cy="833.2" rx="3.3" ry="2.8" fill="#8a8c88" stroke="#62645f" stroke-width="0.6"/>
<ellipse cx="182.0" cy="838.9" rx="5.9" ry="4.8" fill="#a6a8a3" opacity="0.6"/>
<ellipse cx="181.5" cy="839.4" rx="5.0" ry="3.9" fill="#8a8c88" stroke="#62645f" stroke-width="0.6"/>
<ellipse cx="286.0" cy="831.6" rx="4.8" ry="5.3" fill="#a6a8a3" opacity="0.6"/>
<ellipse cx="285.5" cy="832.1" rx="3.9" ry="4.4" fill="#8a8c88" stroke="#62645f" stroke-width="0.6"/>
<ellipse cx="519.0" cy="841.8" rx="5.9" ry="7.8" fill="#a6a8a3" opacity="0.6"/>
<ellipse cx="518.5" cy="842.3" rx="5.0" ry="6.9" fill="#8a8c88" stroke="#62645f" stroke-width="0.6"/>
<ellipse cx="573.7" cy="838.6" rx="3.7" ry="4.8" fill="#a6a8a3" opacity="0.6"/>
<ellipse cx="573.2" cy="839.1" rx="2.8" ry="3.9" fill="#8a8c88" stroke="#62645f" stroke-width="0.6"/>
<ellipse cx="227.2" cy="852.6" rx="3.1" ry="3.1" fill="#a6a8a3" opacity="0.6"/>
<ellipse cx="226.7" cy="853.1" rx="2.2" ry="2.2" fill="#8a8c88" stroke="#62645f" stroke-width="0.6"/>
<ellipse cx="550.4" cy="854.0" rx="3.7" ry="2.6" fill="#a6a8a3" opacity="0.6"/>
<ellipse cx="549.9" cy="854.5" rx="2.8" ry="1.7" fill="#8a8c88" stroke="#62645f" stroke-width="0.6"/>
<ellipse cx="253.4" cy="868.6" rx="5.3" ry="3.7" fill="#a6a8a3" opacity="0.6"/>
<ellipse cx="252.9" cy="869.1" rx="4.4" ry="2.8" fill="#8a8c88" stroke="#62645f" stroke-width="0.6"/>
<ellipse cx="406.3" cy="870.0" rx="3.7" ry="4.8" fill="#a6a8a3" opacity="0.6"/>
<ellipse cx="405.8" cy="870.5" rx="2.8" ry="3.9" fill="#8a8c88" stroke="#62645f" stroke-width="0.6"/>
<ellipse cx="557.7" cy="874.4" rx="7.0" ry="7.8" fill="#a6a8a3" opacity="0.6"/>
<ellipse cx="557.2" cy="874.9" rx="6.1" ry="6.9" fill="#8a8c88" stroke="#62645f" stroke-width="0.6"/>
<ellipse cx="602.8" cy="869.2" rx="4.2" ry="3.7" fill="#a6a8a3" opacity="0.6"/>
<ellipse cx="602.3" cy="869.7" rx="3.3" ry="2.8" fill="#8a8c88" stroke="#62645f" stroke-width="0.6"/>
<ellipse cx="171.8" cy="870.0" rx="4.2" ry="5.3" fill="#a6a8a3" opacity="0.6"/>
<ellipse cx="171.3" cy="870.5" rx="3.3" ry="4.4" fill="#8a8c88" stroke="#62645f" stroke-width="0.6"/>
<ellipse cx="368.4" cy="891.3" rx="6.4" ry="6.4" fill="#a6a8a3" opacity="0.6"/>
<ellipse cx="367.9" cy="891.8" rx="5.5" ry="5.5" fill="#8a8c88" stroke="#62645f" stroke-width="0.6"/>
<ellipse cx="462.5" cy="884.6" rx="3.7" ry="3.7" fill="#a6a8a3" opacity="0.6"/>
<ellipse cx="462.0" cy="885.1" rx="2.8" ry="2.8" fill="#8a8c88" stroke="#62645f" stroke-width="0.6"/>
<ellipse cx="526.5" cy="887.5" rx="3.7" ry="3.1" fill="#a6a8a3" opacity="0.6"/>
<ellipse cx="526.0" cy="888.0" rx="2.8" ry="2.2" fill="#8a8c88" stroke="#62645f" stroke-width="0.6"/>
<ellipse cx="212.6" cy="891.9" rx="3.1" ry="3.1" fill="#a6a8a3" opacity="0.6"/>
<ellipse cx="212.1" cy="892.4" rx="2.2" ry="2.2" fill="#8a8c88" stroke="#62645f" stroke-width="0.6"/>
<ellipse cx="358.2" cy="905.8" rx="3.7" ry="3.7" fill="#a6a8a3" opacity="0.6"/>
<ellipse cx="357.7" cy="906.3" rx="2.8" ry="2.8" fill="#8a8c88" stroke="#62645f" stroke-width="0.6"/>
<ellipse cx="291.2" cy="905.0" rx="3.1" ry="3.1" fill="#a6a8a3" opacity="0.6"/>
<ellipse cx="290.7" cy="905.5" rx="2.2" ry="2.2" fill="#8a8c88" stroke="#62645f" stroke-width="0.6"/>
<ellipse cx="311.6" cy="902.9" rx="3.7" ry="3.1" fill="#a6a8a3" opacity="0.6"/>
<ellipse cx="311.1" cy="903.4" rx="2.8" ry="2.2" fill="#8a8c88" stroke="#62645f" stroke-width="0.6"/>
<ellipse cx="267.9" cy="906.4" rx="2.6" ry="4.2" fill="#a6a8a3" opacity="0.6"/>
<ellipse cx="267.4" cy="906.9" rx="1.7" ry="3.3" fill="#8a8c88" stroke="#62645f" stroke-width="0.6"/>
<ellipse cx="505.3" cy="899.1" rx="3.1" ry="3.1" fill="#a6a8a3" opacity="0.6"/>
<ellipse cx="504.8" cy="899.6" rx="2.2" ry="2.2" fill="#8a8c88" stroke="#62645f" stroke-width="0.6"/>
<ellipse cx="497.4" cy="907.9" rx="2.6" ry="2.6" fill="#a6a8a3" opacity="0.6"/>
<ellipse cx="496.9" cy="908.4" rx="1.7" ry="1.7" fill="#8a8c88" stroke="#62645f" stroke-width="0.6"/>
</g>
<circle cx="286.8" cy="603.2" r="4.0" fill="#a6a8a3" opacity="0.8"/>
<circle cx="286.4" cy="603.5" r="2.8" fill="#686a66"/>
<circle cx="317.3" cy="611.9" r="2.9" fill="#a6a8a3" opacity="0.8"/>
<circle cx="316.9" cy="612.2" r="1.7" fill="#686a66"/>
<circle cx="266.4" cy="625.0" r="2.9" fill="#a6a8a3" opacity="0.8"/>
<circle cx="266.0" cy="625.3" r="1.7" fill="#686a66"/>
<circle cx="366.9" cy="626.5" r="3.5" fill="#a6a8a3" opacity="0.8"/>
<circle cx="366.5" cy="626.8" r="2.3" fill="#686a66"/>
<circle cx="508.1" cy="611.1" r="4.0" fill="#a6a8a3" opacity="0.8"/>
<circle cx="507.7" cy="611.4" r="2.8" fill="#686a66"/>
<circle cx="567.2" cy="641.6" r="3.5" fill="#a6a8a3" opacity="0.8"/>
<circle cx="566.8" cy="641.9" r="2.3" fill="#686a66"/>
<circle cx="292.6" cy="669.3" r="2.9" fill="#a6a8a3" opacity="0.8"/>
<circle cx="292.2" cy="669.6" r="1.7" fill="#686a66"/>
<circle cx="388.3" cy="644.3" r="1.5" fill="#50524e" opacity="0.8"/>
<circle cx="412.9" cy="664.3" r="2.9" fill="#a6a8a3" opacity="0.8"/>
<circle cx="412.5" cy="664.6" r="1.7" fill="#686a66"/>
<circle cx="564.9" cy="656.2" r="2.4" fill="#a6a8a3" opacity="0.8"/>
<circle cx="564.5" cy="656.5" r="1.2" fill="#686a66"/>
<circle cx="197.4" cy="670.7" r="2.9" fill="#a6a8a3" opacity="0.8"/>
<circle cx="197.0" cy="671.0" r="1.7" fill="#686a66"/>
<circle cx="551.8" cy="680.4" r="2.9" fill="#a6a8a3" opacity="0.8"/>
<circle cx="551.4" cy="680.7" r="1.7" fill="#686a66"/>
<circle cx="585.8" cy="683.9" r="2.9" fill="#a6a8a3" opacity="0.8"/>
<circle cx="585.4" cy="684.2" r="1.7" fill="#686a66"/>
<circle cx="593.6" cy="676.9" r="1.0" fill="#50524e" opacity="0.8"/>
<circle cx="189.2" cy="709.2" r="2.4" fill="#a6a8a3" opacity="0.8"/>
<circle cx="188.8" cy="709.5" r="1.2" fill="#686a66"/>
<circle cx="532.8" cy="736.3" r="2.1" fill="#a6a8a3" opacity="0.8"/>
<circle cx="532.4" cy="736.6" r="1.0" fill="#686a66"/>
<circle cx="273.3" cy="725.8" r="1.0" fill="#50524e" opacity="0.8"/>
<circle cx="306.3" cy="732.5" r="3.5" fill="#a6a8a3" opacity="0.8"/>
<circle cx="305.9" cy="732.8" r="2.3" fill="#686a66"/>
<circle cx="206.7" cy="743.0" r="3.5" fill="#a6a8a3" opacity="0.8"/>
<circle cx="206.3" cy="743.3" r="2.3" fill="#686a66"/>
<circle cx="275.1" cy="756.7" r="3.5" fill="#a6a8a3" opacity="0.8"/>
<circle cx="274.7" cy="757.0" r="2.3" fill="#686a66"/>
<circle cx="347.9" cy="769.2" r="3.5" fill="#a6a8a3" opacity="0.8"/>
<circle cx="347.5" cy="769.5" r="2.3" fill="#686a66"/>
<circle cx="363.1" cy="776.2" r="2.9" fill="#a6a8a3" opacity="0.8"/>
<circle cx="362.7" cy="776.5" r="1.7" fill="#686a66"/>
<circle cx="223.2" cy="795.7" r="0.8" fill="#50524e" opacity="0.8"/>
<circle cx="200.3" cy="801.8" r="2.9" fill="#a6a8a3" opacity="0.8"/>
<circle cx="199.9" cy="802.1" r="1.7" fill="#686a66"/>
<circle cx="393.6" cy="819.8" r="2.9" fill="#a6a8a3" opacity="0.8"/>
<circle cx="393.2" cy="820.1" r="1.7" fill="#686a66"/>
<circle cx="227.3" cy="827.7" r="0.8" fill="#50524e" opacity="0.8"/>
<circle cx="242.1" cy="828.3" r="1.0" fill="#50524e" opacity="0.8"/>
<circle cx="437.3" cy="835.9" r="2.9" fill="#a6a8a3" opacity="0.8"/>
<circle cx="436.9" cy="836.2" r="1.7" fill="#686a66"/>
<circle cx="334.8" cy="852.8" r="3.5" fill="#a6a8a3" opacity="0.8"/>
<circle cx="334.4" cy="853.1" r="2.3" fill="#686a66"/>
<circle cx="353.7" cy="855.7" r="3.5" fill="#a6a8a3" opacity="0.8"/>
<circle cx="353.3" cy="856.0" r="2.3" fill="#686a66"/>
<circle cx="591.1" cy="865.3" r="2.9" fill="#a6a8a3" opacity="0.8"/>
<circle cx="590.7" cy="865.6" r="1.7" fill="#686a66"/>
<circle cx="360.0" cy="880.1" r="0.8" fill="#50524e" opacity="0.8"/>
<circle cx="432.8" cy="902.6" r="1.0" fill="#50524e" opacity="0.8"/>
<line x1="607.1" y1="750.4" x2="607.1" y2="912.5" stroke="rgb(125,225,100)" stroke-width="1.0" opacity="0.7"/>
<line x1="188.0" y1="896.2" x2="288.0" y2="896.2" stroke="#d8c86a" stroke-width="1.0" />
<line x1="188.0" y1="893.2" x2="188.0" y2="896.2" stroke="#d8c86a" stroke-width="1.0" />
<line x1="288.0" y1="893.2" x2="288.0" y2="896.2" stroke="#d8c86a" stroke-width="1.0" />
<line x1="238.0" y1="894.2" x2="238.0" y2="896.2" stroke="#d8c86a" stroke-width="1.0" />
<text x="188.0" y="891.7" font-size="4.5" text-anchor="start" fill="#d8c86a" >0</text>
<text x="238.0" y="891.7" font-size="4.5" text-anchor="middle" fill="#d8c86a" >µm</text>
<text x="288.0" y="891.7" font-size="4.5" text-anchor="middle" fill="#d8c86a" >400</text>
<text x="189.0" y="904.7" font-size="5" text-anchor="start" fill="#d0c060" font-style="italic">1.75 x 1.29 mm, 2.27 mm²</text>
<rect x="556.1" y="903.3" width="48.6" height="8.8" fill="#000" />
<text x="580.2" y="910.2" font-size="7.2" text-anchor="middle" fill="#e8e8e8" font-weight="bold" textLength="31.0" lengthAdjust="spacingAndGlyphs" >0d 3h 0m</text>
</g>
<clipPath id="clip10"><rect x="634.0" y="588.2" width="439.0" height="324.3"/></clipPath>
<g clip-path="url(#clip10)">
<rect x="634.0" y="588.2" width="439.0" height="324.3" fill="#7f817e" />
<rect x="634.0" y="588.2" width="439.0" height="324.3" fill="rgb(118,200,100)" opacity="0.015"/>
<circle cx="672.7" cy="698.0" r="41" fill="url(#blob)" opacity="0.38"/>
<circle cx="797.9" cy="689.2" r="41" fill="url(#blob)" opacity="0.52"/>
<circle cx="923.1" cy="689.2" r="41" fill="url(#blob)" opacity="0.62"/>
<circle cx="1036.7" cy="686.2" r="41" fill="url(#blob)" opacity="0.76"/>
<circle cx="675.6" cy="820.2" r="41" fill="url(#blob)" opacity="0.35"/>
<circle cx="800.8" cy="820.2" r="41" fill="url(#blob)" opacity="0.42"/>
<circle cx="929.0" cy="815.2" r="41" fill="url(#blob)" opacity="0.65"/>
<circle cx="1042.5" cy="805.7" r="41" fill="url(#blob)" opacity="0.32"/>
<circle cx="674.0" cy="603.2" r="50" fill="url(#blob)" opacity="0.36"/>
<circle cx="862.0" cy="686.2" r="50" fill="url(#blob)" opacity="0.27"/>
<circle cx="1062.0" cy="748.2" r="50" fill="url(#blob)" opacity="0.27"/>
<circle cx="984.0" cy="783.2" r="50" fill="url(#blob)" opacity="0.25"/>
<circle cx="806.0" cy="756.2" r="50" fill="url(#blob)" opacity="0.23"/>
<circle cx="679.0" cy="758.2" r="50" fill="url(#blob)" opacity="0.23"/>
<circle cx="834.0" cy="880.2" r="50" fill="url(#blob)" opacity="0.27"/>
<circle cx="924.0" cy="880.2" r="50" fill="url(#blob)" opacity="0.23"/>
<circle cx="996.0" cy="633.2" r="50" fill="url(#blob)" opacity="0.27"/>
<circle cx="906.0" cy="623.2" r="50" fill="url(#blob)" opacity="0.23"/>
<circle cx="1054.0" cy="608.2" r="50" fill="url(#blob)" opacity="0.11"/>
<circle cx="744.0" cy="878.2" r="50" fill="url(#blob)" opacity="0.18"/>
<rect x="634.0" y="588.2" width="439.0" height="324.3" filter="url(#grain)" opacity="0.2"/>
<g filter="url(#rough)">
<ellipse cx="792.5" cy="597.7" rx="5.9" ry="6.4" fill="#a6a8a3" opacity="0.6"/>
<ellipse cx="792.0" cy="598.2" rx="5.0" ry="5.5" fill="#8a8c88" stroke="#62645f" stroke-width="0.6"/>
<ellipse cx="856.5" cy="593.4" rx="4.2" ry="4.8" fill="#a6a8a3" opacity="0.6"/>
<ellipse cx="856.0" cy="593.9" rx="3.3" ry="3.9" fill="#8a8c88" stroke="#62645f" stroke-width="0.6"/>
<ellipse cx="874.0" cy="596.3" rx="3.1" ry="3.1" fill="#a6a8a3" opacity="0.6"/>
<ellipse cx="873.5" cy="596.8" rx="2.2" ry="2.2" fill="#8a8c88" stroke="#62645f" stroke-width="0.6"/>
<ellipse cx="1032.1" cy="596.3" rx="4.2" ry="5.3" fill="#a6a8a3" opacity="0.6"/>
<ellipse cx="1031.6" cy="596.8" rx="3.3" ry="4.4" fill="#8a8c88" stroke="#62645f" stroke-width="0.6"/>
<ellipse cx="814.3" cy="589.6" rx="3.1" ry="3.1" fill="#a6a8a3" opacity="0.6"/>
<ellipse cx="813.8" cy="590.1" rx="2.2" ry="2.2" fill="#8a8c88" stroke="#62645f" stroke-width="0.6"/>
<ellipse cx="830.3" cy="588.4" rx="3.7" ry="2.3" fill="#a6a8a3" opacity="0.6"/>
<ellipse cx="829.8" cy="588.9" rx="2.8" ry="1.4" fill="#8a8c88" stroke="#62645f" stroke-width="0.6"/>
<ellipse cx="697.3" cy="611.7" rx="4.2" ry="3.7" fill="#a6a8a3" opacity="0.6"/>
<ellipse cx="696.8" cy="612.2" rx="3.3" ry="2.8" fill="#8a8c88" stroke="#62645f" stroke-width="0.6"/>
<ellipse cx="837.6" cy="613.8" rx="3.1" ry="4.2" fill="#a6a8a3" opacity="0.6"/>
<ellipse cx="837.1" cy="614.3" rx="2.2" ry="3.3" fill="#8a8c88" stroke="#62645f" stroke-width="0.6"/>
<ellipse cx="922.1" cy="613.8" rx="5.9" ry="9.2" fill="#a6a8a3" opacity="0.6" transform="rotate(-20 922.1 613.8)"/>
<ellipse cx="921.6" cy="614.3" rx="5.0" ry="8.3" fill="#8a8c88" stroke="#62645f" stroke-width="0.6" transform="rotate(-20 921.6 614.3)"/>
<ellipse cx="997.8" cy="615.2" rx="5.9" ry="6.4" fill="#a6a8a3" opacity="0.6"/>
<ellipse cx="997.3" cy="615.7" rx="5.0" ry="5.5" fill="#8a8c88" stroke="#62645f" stroke-width="0.6"/>
<ellipse cx="732.8" cy="619.6" rx="3.7" ry="3.1" fill="#a6a8a3" opacity="0.6"/>
<ellipse cx="732.3" cy="620.1" rx="2.8" ry="2.2" fill="#8a8c88" stroke="#62645f" stroke-width="0.6"/>
<ellipse cx="747.3" cy="619.0" rx="3.7" ry="4.2" fill="#a6a8a3" opacity="0.6"/>
<ellipse cx="746.8" cy="619.5" rx="2.8" ry="3.3" fill="#8a8c88" stroke="#62645f" stroke-width="0.6"/>
<ellipse cx="1037.1" cy="627.7" rx="4.2" ry="4.8" fill="#a6a8a3" opacity="0.6"/>
<ellipse cx="1036.6" cy="628.2" rx="3.3" ry="3.9" fill="#8a8c88" stroke="#62645f" stroke-width="0.6"/>
<ellipse cx="728.4" cy="632.1" rx="7.0" ry="6.4" fill="#a6a8a3" opacity="0.6"/>
<ellipse cx="727.9" cy="632.6" rx="6.1" ry="5.5" fill="#8a8c88" stroke="#62645f" stroke-width="0.6"/>
<ellipse cx="782.3" cy="637.1" rx="9.2" ry="8.6" fill="#a6a8a3" opacity="0.6"/>
<ellipse cx="781.8" cy="637.6" rx="8.3" ry="7.7" fill="#8a8c88" stroke="#62645f" stroke-width="0.6"/>
<ellipse cx="855.7" cy="635.6" rx="4.8" ry="4.2" fill="#a6a8a3" opacity="0.6"/>
<ellipse cx="855.2" cy="636.1" rx="3.9" ry="3.3" fill="#8a8c88" stroke="#62645f" stroke-width="0.6"/>
<ellipse cx="903.1" cy="630.7" rx="3.7" ry="4.8" fill="#a6a8a3" opacity="0.6"/>
<ellipse cx="902.6" cy="631.2" rx="2.8" ry="3.9" fill="#8a8c88" stroke="#62645f" stroke-width="0.6"/>
<ellipse cx="773.6" cy="651.6" rx="5.9" ry="3.7" fill="#a6a8a3" opacity="0.6"/>
<ellipse cx="773.1" cy="652.1" rx="5.0" ry="2.8" fill="#8a8c88" stroke="#62645f" stroke-width="0.6"/>
<ellipse cx="949.7" cy="647.8" rx="3.7" ry="3.7" fill="#a6a8a3" opacity="0.6"/>
<ellipse cx="949.2" cy="648.3" rx="2.8" ry="2.8" fill="#8a8c88" stroke="#62645f" stroke-width="0.6"/>
<ellipse cx="649.8" cy="643.8" rx="3.7" ry="4.2" fill="#a6a8a3" opacity="0.6"/>
<ellipse cx="649.3" cy="644.3" rx="2.8" ry="3.3" fill="#8a8c88" stroke="#62645f" stroke-width="0.6"/>
<ellipse cx="661.4" cy="638.5" rx="3.7" ry="3.7" fill="#a6a8a3" opacity="0.6"/>
<ellipse cx="660.9" cy="639.0" rx="2.8" ry="2.8" fill="#8a8c88" stroke="#62645f" stroke-width="0.6"/>
<ellipse cx="671.6" cy="650.7" rx="7.0" ry="4.2" fill="#a6a8a3" opacity="0.6" transform="rotate(30 671.6 650.7)"/>
<ellipse cx="671.1" cy="651.2" rx="6.1" ry="3.3" fill="#8a8c88" stroke="#62645f" stroke-width="0.6" transform="rotate(30 671.1 651.2)"/>
<ellipse cx="719.1" cy="654.5" rx="4.2" ry="6.4" fill="#a6a8a3" opacity="0.6"/>
<ellipse cx="718.6" cy="655.0" rx="3.3" ry="5.5" fill="#8a8c88" stroke="#62645f" stroke-width="0.6"/>
<ellipse cx="833.8" cy="663.3" rx="5.3" ry="6.4" fill="#a6a8a3" opacity="0.6"/>
<ellipse cx="833.3" cy="663.8" rx="4.4" ry="5.5" fill="#8a8c88" stroke="#62645f" stroke-width="0.6"/>
<ellipse cx="882.2" cy="660.4" rx="3.1" ry="3.1" fill="#a6a8a3" opacity="0.6"/>
<ellipse cx="881.7" cy="660.9" rx="2.2" ry="2.2" fill="#8a8c88" stroke="#62645f" stroke-width="0.6"/>
<ellipse cx="639.6" cy="667.1" rx="4.2" ry="3.7" fill="#a6a8a3" opacity="0.6"/>
<ellipse cx="639.1" cy="667.6" rx="3.3" ry="2.8" fill="#8a8c88" stroke="#62645f" stroke-width="0.6"/>
<ellipse cx="676.6" cy="672.9" rx="7.8" ry="8.6" fill="#a6a8a3" opacity="0.6"/>
<ellipse cx="676.1" cy="673.4" rx="6.9" ry="7.7" fill="#8a8c88" stroke="#62645f" stroke-width="0.6"/>
<ellipse cx="653.3" cy="680.7" rx="3.1" ry="3.1" fill="#a6a8a3" opacity="0.6"/>
<ellipse cx="652.8" cy="681.2" rx="2.2" ry="2.2" fill="#8a8c88" stroke="#62645f" stroke-width="0.6"/>
<ellipse cx="699.3" cy="690.9" rx="3.7" ry="4.8" fill="#a6a8a3" opacity="0.6"/>
<ellipse cx="698.8" cy="691.4" rx="2.8" ry="3.9" fill="#8a8c88" stroke="#62645f" stroke-width="0.6"/>
<ellipse cx="759.0" cy="688.0" rx="3.7" ry="4.2" fill="#a6a8a3" opacity="0.6"/>
<ellipse cx="758.5" cy="688.5" rx="2.8" ry="3.3" fill="#8a8c88" stroke="#62645f" stroke-width="0.6"/>
<ellipse cx="951.2" cy="680.7" rx="4.2" ry="4.2" fill="#a6a8a3" opacity="0.6"/>
<ellipse cx="950.7" cy="681.2" rx="3.3" ry="3.3" fill="#8a8c88" stroke="#62645f" stroke-width="0.6"/>
<ellipse cx="973.6" cy="674.0" rx="4.2" ry="4.2" fill="#a6a8a3" opacity="0.6"/>
<ellipse cx="973.1" cy="674.5" rx="3.3" ry="3.3" fill="#8a8c88" stroke="#62645f" stroke-width="0.6"/>
<ellipse cx="1060.4" cy="679.3" rx="10.6" ry="10.6" fill="#a6a8a3" opacity="0.6"/>
<ellipse cx="1059.9" cy="679.8" rx="9.7" ry="9.7" fill="#8a8c88" stroke="#62645f" stroke-width="0.6"/>
<ellipse cx="863.0" cy="700.5" rx="3.1" ry="5.3" fill="#a6a8a3" opacity="0.6"/>
<ellipse cx="862.5" cy="701.0" rx="2.2" ry="4.4" fill="#8a8c88" stroke="#62645f" stroke-width="0.6"/>
<ellipse cx="913.3" cy="699.7" rx="4.2" ry="3.7" fill="#a6a8a3" opacity="0.6"/>
<ellipse cx="912.8" cy="700.2" rx="3.3" ry="2.8" fill="#8a8c88" stroke="#62645f" stroke-width="0.6"/>
<ellipse cx="938.7" cy="703.2" rx="5.3" ry="7.0" fill="#a6a8a3" opacity="0.6"/>
<ellipse cx="938.2" cy="703.7" rx="4.4" ry="6.1" fill="#8a8c88" stroke="#62645f" stroke-width="0.6"/>
<ellipse cx="968.7" cy="701.1" rx="3.1" ry="3.1" fill="#a6a8a3" opacity="0.6"/>
<ellipse cx="968.2" cy="701.6" rx="2.2" ry="2.2" fill="#8a8c88" stroke="#62645f" stroke-width="0.6"/>
<ellipse cx="977.4" cy="696.8" rx="3.1" ry="3.1" fill="#a6a8a3" opacity="0.6"/>
<ellipse cx="976.9" cy="697.3" rx="2.2" ry="2.2" fill="#8a8c88" stroke="#62645f" stroke-width="0.6"/>
<ellipse cx="668.1" cy="717.7" rx="4.8" ry="4.2" fill="#a6a8a3" opacity="0.6"/>
<ellipse cx="667.6" cy="718.2" rx="3.9" ry="3.3" fill="#8a8c88" stroke="#62645f" stroke-width="0.6"/>
<ellipse cx="725.5" cy="714.8" rx="6.4" ry="5.9" fill="#a6a8a3" opacity="0.6"/>
<ellipse cx="725.0" cy="715.3" rx="5.5" ry="5.0" fill="#8a8c88" stroke="#62645f" stroke-width="0.6"/>
<ellipse cx="740.9" cy="717.7" rx="3.1" ry="6.4" fill="#a6a8a3" opacity="0.6"/>
<ellipse cx="740.4" cy="718.2" rx="2.2" ry="5.5" fill="#8a8c88" stroke="#62645f" stroke-width="0.6"/>
<ellipse cx="805.6" cy="716.3" rx="6.4" ry="4.8" fill="#a6a8a3" opacity="0.6"/>
<ellipse cx="805.1" cy="716.8" rx="5.5" ry="3.9" fill="#8a8c88" stroke="#62645f" stroke-width="0.6"/>
<ellipse cx="850.1" cy="725.0" rx="3.7" ry="3.7" fill="#a6a8a3" opacity="0.6"/>
<ellipse cx="849.6" cy="725.5" rx="2.8" ry="2.8" fill="#8a8c88" stroke="#62645f" stroke-width="0.6"/>
<ellipse cx="892.1" cy="729.7" rx="4.8" ry="5.9" fill="#a6a8a3" opacity="0.6"/>
<ellipse cx="891.6" cy="730.2" rx="3.9" ry="5.0" fill="#8a8c88" stroke="#62645f" stroke-width="0.6"/>
<ellipse cx="1002.1" cy="729.7" rx="3.7" ry="3.7" fill="#a6a8a3" opacity="0.6"/>
<ellipse cx="1001.6" cy="730.2" rx="2.8" ry="2.8" fill="#8a8c88" stroke="#62645f" stroke-width="0.6"/>
<ellipse cx="1038.5" cy="725.9" rx="4.8" ry="5.3" fill="#a6a8a3" opacity="0.6"/>
<ellipse cx="1038.0" cy="726.4" rx="3.9" ry="4.4" fill="#8a8c88" stroke="#62645f" stroke-width="0.6"/>
<ellipse cx="1060.4" cy="720.1" rx="5.3" ry="13.3" fill="#a6a8a3" opacity="0.6" transform="rotate(20 1060.4 720.1)"/>
<ellipse cx="1059.9" cy="720.6" rx="4.4" ry="12.4" fill="#8a8c88" stroke="#62645f" stroke-width="0.6" transform="rotate(20 1059.9 720.6)"/>
<ellipse cx="1021.1" cy="736.9" rx="3.7" ry="3.7" fill="#a6a8a3" opacity="0.6"/>
<ellipse cx="1020.6" cy="737.4" rx="2.8" ry="2.8" fill="#8a8c88" stroke="#62645f" stroke-width="0.6"/>
<ellipse cx="650.4" cy="744.8" rx="4.8" ry="4.2" fill="#a6a8a3" opacity="0.6"/>
<ellipse cx="649.9" cy="745.3" rx="3.9" ry="3.3" fill="#8a8c88" stroke="#62645f" stroke-width="0.6"/>
<ellipse cx="696.4" cy="739.0" rx="4.2" ry="5.9" fill="#a6a8a3" opacity="0.6"/>
<ellipse cx="695.9" cy="739.5" rx="3.3" ry="5.0" fill="#8a8c88" stroke="#62645f" stroke-width="0.6"/>
<ellipse cx="744.4" cy="744.2" rx="5.9" ry="5.3" fill="#a6a8a3" opacity="0.6"/>
<ellipse cx="743.9" cy="744.7" rx="5.0" ry="4.4" fill="#8a8c88" stroke="#62645f" stroke-width="0.6"/>
<ellipse cx="794.8" cy="736.9" rx="6.4" ry="5.3" fill="#a6a8a3" opacity="0.6"/>
<ellipse cx="794.3" cy="737.4" rx="5.5" ry="4.4" fill="#8a8c88" stroke="#62645f" stroke-width="0.6"/>
<ellipse cx="803.5" cy="741.9" rx="3.1" ry="3.7" fill="#a6a8a3" opacity="0.6"/>
<ellipse cx="803.0" cy="742.4" rx="2.2" ry="2.8" fill="#8a8c88" stroke="#62645f" stroke-width="0.6"/>
<ellipse cx="776.5" cy="750.0" rx="5.3" ry="2.6" fill="#a6a8a3" opacity="0.6"/>
<ellipse cx="776.0" cy="750.5" rx="4.4" ry="1.7" fill="#8a8c88" stroke="#62645f" stroke-width="0.6"/>
<ellipse cx="865.3" cy="740.4" rx="5.3" ry="6.4" fill="#a6a8a3" opacity="0.6"/>
<ellipse cx="864.8" cy="740.9" rx="4.4" ry="5.5" fill="#8a8c88" stroke="#62645f" stroke-width="0.6"/>
<ellipse cx="900.2" cy="743.3" rx="5.3" ry="5.3" fill="#a6a8a3" opacity="0.6"/>
<ellipse cx="899.7" cy="743.8" rx="4.4" ry="4.4" fill="#8a8c88" stroke="#62645f" stroke-width="0.6"/>
<ellipse cx="971.6" cy="741.9" rx="5.3" ry="5.9" fill="#a6a8a3" opacity="0.6"/>
<ellipse cx="971.1" cy="742.4" rx="4.4" ry="5.0" fill="#8a8c88" stroke="#62645f" stroke-width="0.6"/>
<ellipse cx="1000.7" cy="756.5" rx="3.7" ry="3.1" fill="#a6a8a3" opacity="0.6"/>
<ellipse cx="1000.2" cy="757.0" rx="2.8" ry="2.2" fill="#8a8c88" stroke="#62645f" stroke-width="0.6"/>
<ellipse cx="1042.9" cy="757.0" rx="3.7" ry="3.7" fill="#a6a8a3" opacity="0.6"/>
<ellipse cx="1042.4" cy="757.5" rx="2.8" ry="2.8" fill="#8a8c88" stroke="#62645f" stroke-width="0.6"/>
<ellipse cx="978.3" cy="764.3" rx="3.1" ry="3.1" fill="#a6a8a3" opacity="0.6"/>
<ellipse cx="977.8" cy="764.8" rx="2.2" ry="2.2" fill="#8a8c88" stroke="#62645f" stroke-width="0.6"/>
<ellipse cx="935.2" cy="763.7" rx="6.4" ry="8.6" fill="#a6a8a3" opacity="0.6"/>
<ellipse cx="934.7" cy="764.2" rx="5.5" ry="7.7" fill="#8a8c88" stroke="#62645f" stroke-width="0.6"/>
<ellipse cx="948.3" cy="772.5" rx="3.7" ry="3.7" fill="#a6a8a3" opacity="0.6"/>
<ellipse cx="947.8" cy="773.0" rx="2.8" ry="2.8" fill="#8a8c88" stroke="#62645f" stroke-width="0.6"/>
<ellipse cx="694.9" cy="782.7" rx="5.9" ry="6.4" fill="#a6a8a3" opacity="0.6"/>
<ellipse cx="694.4" cy="783.2" rx="5.0" ry="5.5" fill="#8a8c88" stroke="#62645f" stroke-width="0.6"/>
<ellipse cx="719.7" cy="779.8" rx="4.8" ry="4.8" fill="#a6a8a3" opacity="0.6"/>
<ellipse cx="719.2" cy="780.3" rx="3.9" ry="3.9" fill="#8a8c88" stroke="#62645f" stroke-width="0.6"/>
<ellipse cx="785.2" cy="776.0" rx="4.2" ry="4.2" fill="#a6a8a3" opacity="0.6"/>
<ellipse cx="784.7" cy="776.5" rx="3.3" ry="3.3" fill="#8a8c88" stroke="#62645f" stroke-width="0.6"/>
<ellipse cx="795.4" cy="777.7" rx="3.7" ry="4.2" fill="#a6a8a3" opacity="0.6"/>
<ellipse cx="794.9" cy="778.2" rx="2.8" ry="3.3" fill="#8a8c88" stroke="#62645f" stroke-width="0.6"/>
<ellipse cx="906.6" cy="783.5" rx="3.7" ry="4.8" fill="#a6a8a3" opacity="0.6"/>
<ellipse cx="906.1" cy="784.0" rx="2.8" ry="3.9" fill="#8a8c88" stroke="#62645f" stroke-width="0.6"/>
<ellipse cx="852.2" cy="792.9" rx="4.8" ry="3.7" fill="#a6a8a3" opacity="0.6"/>
<ellipse cx="851.7" cy="793.4" rx="3.9" ry="2.8" fill="#8a8c88" stroke="#62645f" stroke-width="0.6"/>
<ellipse cx="996.9" cy="792.3" rx="4.8" ry="5.3" fill="#a6a8a3" opacity="0.6"/>
<ellipse cx="996.4" cy="792.8" rx="3.9" ry="4.4" fill="#8a8c88" stroke="#62645f" stroke-width="0.6"/>
<ellipse cx="1035.1" cy="786.4" rx="3.1" ry="7.0" fill="#a6a8a3" opacity="0.6"/>
<ellipse cx="1034.6" cy="786.9" rx="2.2" ry="6.1" fill="#8a8c88" stroke="#62645f" stroke-width="0.6"/>
<ellipse cx="961.4" cy="792.9" rx="14.7" ry="7.8" fill="#a6a8a3" opacity="0.6" transform="rotate(20 961.4 792.9)"/>
<ellipse cx="960.9" cy="793.4" rx="13.8" ry="6.9" fill="#8a8c88" stroke="#62645f" stroke-width="0.6" transform="rotate(20 960.9 793.4)"/>
<ellipse cx="951.2" cy="800.1" rx="4.2" ry="7.8" fill="#a6a8a3" opacity="0.6"/>
<ellipse cx="950.7" cy="800.6" rx="3.3" ry="6.9" fill="#8a8c88" stroke="#62645f" stroke-width="0.6"/>
<ellipse cx="699.3" cy="803.9" rx="4.2" ry="4.2" fill="#a6a8a3" opacity="0.6"/>
<ellipse cx="698.8" cy="804.4" rx="3.3" ry="3.3" fill="#8a8c88" stroke="#62645f" stroke-width="0.6"/>
<ellipse cx="724.0" cy="803.0" rx="4.8" ry="4.8" fill="#a6a8a3" opacity="0.6"/>
<ellipse cx="723.5" cy="803.5" rx="3.9" ry="3.9" fill="#8a8c88" stroke="#62645f" stroke-width="0.6"/>
<ellipse cx="740.1" cy="811.8" rx="13.3" ry="4.8" fill="#a6a8a3" opacity="0.6" transform="rotate(30 740.1 811.8)"/>
<ellipse cx="739.6" cy="812.3" rx="12.4" ry="3.9" fill="#8a8c88" stroke="#62645f" stroke-width="0.6" transform="rotate(30 739.6 812.3)"/>
<ellipse cx="716.8" cy="815.3" rx="3.7" ry="3.7" fill="#a6a8a3" opacity="0.6"/>
<ellipse cx="716.3" cy="815.8" rx="2.8" ry="2.8" fill="#8a8c88" stroke="#62645f" stroke-width="0.6"/>
<ellipse cx="1054.0" cy="803.0" rx="4.2" ry="3.1" fill="#a6a8a3" opacity="0.6"/>
<ellipse cx="1053.5" cy="803.5" rx="3.3" ry="2.2" fill="#8a8c88" stroke="#62645f" stroke-width="0.6"/>
<ellipse cx="923.5" cy="815.3" rx="4.2" ry="4.2" fill="#a6a8a3" opacity="0.6"/>
<ellipse cx="923.0" cy="815.8" rx="3.3" ry="3.3" fill="#8a8c88" stroke="#62645f" stroke-width="0.6"/>
<ellipse cx="790.1" cy="827.2" rx="4.2" ry="4.8" fill="#a6a8a3" opacity="0.6"/>
<ellipse cx="789.6" cy="827.7" rx="3.3" ry="3.9" fill="#8a8c88" stroke="#62645f" stroke-width="0.6"/>
<ellipse cx="791.9" cy="840.0" rx="3.1" ry="3.1" fill="#a6a8a3" opacity="0.6"/>
<ellipse cx="791.4" cy="840.5" rx="2.2" ry="2.2" fill="#8a8c88" stroke="#62645f" stroke-width="0.6"/>
<ellipse cx="659.1" cy="839.4" rx="4.2" ry="3.7" fill="#a6a8a3" opacity="0.6"/>
<ellipse cx="658.6" cy="839.9" rx="3.3" ry="2.8" fill="#8a8c88" stroke="#62645f" stroke-width="0.6"/>
<ellipse cx="687.6" cy="841.8" rx="4.8" ry="5.3" fill="#a6a8a3" opacity="0.6"/>
<ellipse cx="687.1" cy="842.3" rx="3.9" ry="4.4" fill="#8a8c88" stroke="#62645f" stroke-width="0.6"/>
<ellipse cx="844.9" cy="835.1" rx="10.6" ry="8.6" fill="#a6a8a3" opacity="0.6"/>
<ellipse cx="844.4" cy="835.6" rx="9.7" ry="7.7" fill="#8a8c88" stroke="#62645f" stroke-width="0.6"/>
<ellipse cx="942.4" cy="840.9" rx="5.3" ry="4.8" fill="#a6a8a3" opacity="0.6"/>
<ellipse cx="941.9" cy="841.4" rx="4.4" ry="3.9" fill="#8a8c88" stroke="#62645f" stroke-width="0.6"/>
<ellipse cx="989.9" cy="840.9" rx="5.3" ry="5.9" fill="#a6a8a3" opacity="0.6"/>
<ellipse cx="989.4" cy="841.4" rx="4.4" ry="5.0" fill="#8a8c88" stroke="#62645f" stroke-width="0.6"/>
<ellipse cx="894.4" cy="845.9" rx="3.7" ry="3.1" fill="#a6a8a3" opacity="0.6"/>
<ellipse cx="893.9" cy="846.4" rx="2.8" ry="2.2" fill="#8a8c88" stroke="#62645f" stroke-width="0.6"/>
<ellipse cx="860.3" cy="854.0" rx="3.1" ry="4.2" fill="#a6a8a3" opacity="0.6"/>
<ellipse cx="859.8" cy="854.5" rx="2.2" ry="3.3" fill="#8a8c88" stroke="#62645f" stroke-width="0.6"/>
<ellipse cx="1058.1" cy="854.6" rx="3.7" ry="3.7" fill="#a6a8a3" opacity="0.6"/>
<ellipse cx="1057.6" cy="855.1" rx="2.8" ry="2.8" fill="#8a8c88" stroke="#62645f" stroke-width="0.6"/>
<ellipse cx="694.9" cy="859.2" rx="3.1" ry="3.7" fill="#a6a8a3" opacity="0.6"/>
<ellipse cx="694.4" cy="859.7" rx="2.2" ry="2.8" fill="#8a8c88" stroke="#62645f" stroke-width="0.6"/>
<ellipse cx="705.1" cy="858.4" rx="3.7" ry="3.7" fill="#a6a8a3" opacity="0.6"/>
<ellipse cx="704.6" cy="858.9" rx="2.8" ry="2.8" fill="#8a8c88" stroke="#62645f" stroke-width="0.6"/>
<ellipse cx="725.5" cy="865.1" rx="4.2" ry="3.7" fill="#a6a8a3" opacity="0.6"/>
<ellipse cx="725.0" cy="865.6" rx="3.3" ry="2.8" fill="#8a8c88" stroke="#62645f" stroke-width="0.6"/>
<ellipse cx="766.9" cy="871.5" rx="3.7" ry="4.2" fill="#a6a8a3" opacity="0.6"/>
<ellipse cx="766.4" cy="872.0" rx="2.8" ry="3.3" fill="#8a8c88" stroke="#62645f" stroke-width="0.6"/>
<ellipse cx="815.8" cy="865.7" rx="3.7" ry="3.7" fill="#a6a8a3" opacity="0.6"/>
<ellipse cx="815.3" cy="866.2" rx="2.8" ry="2.8" fill="#8a8c88" stroke="#62645f" stroke-width="0.6"/>
<ellipse cx="827.4" cy="862.2" rx="3.1" ry="3.1" fill="#a6a8a3" opacity="0.6"/>
<ellipse cx="826.9" cy="862.7" rx="2.2" ry="2.2" fill="#8a8c88" stroke="#62645f" stroke-width="0.6"/>
<ellipse cx="900.2" cy="859.8" rx="4.8" ry="7.8" fill="#a6a8a3" opacity="0.6" transform="rotate(30 900.2 859.8)"/>
<ellipse cx="899.7" cy="860.3" rx="3.9" ry="6.9" fill="#8a8c88" stroke="#62645f" stroke-width="0.6" transform="rotate(30 899.7 860.3)"/>
<ellipse cx="892.9" cy="870.0" rx="3.7" ry="4.2" fill="#a6a8a3" opacity="0.6"/>
<ellipse cx="892.4" cy="870.5" rx="2.8" ry="3.3" fill="#8a8c88" stroke="#62645f" stroke-width="0.6"/>
<ellipse cx="868.2" cy="874.4" rx="8.6" ry="5.9" fill="#a6a8a3" opacity="0.6" transform="rotate(-30 868.2 874.4)"/>
<ellipse cx="867.7" cy="874.9" rx="7.7" ry="5.0" fill="#8a8c88" stroke="#62645f" stroke-width="0.6" transform="rotate(-30 867.7 874.9)"/>
<ellipse cx="985.3" cy="872.1" rx="3.7" ry="3.7" fill="#a6a8a3" opacity="0.6"/>
<ellipse cx="984.8" cy="872.6" rx="2.8" ry="2.8" fill="#8a8c88" stroke="#62645f" stroke-width="0.6"/>
<ellipse cx="997.8" cy="871.5" rx="3.7" ry="3.1" fill="#a6a8a3" opacity="0.6"/>
<ellipse cx="997.3" cy="872.0" rx="2.8" ry="2.2" fill="#8a8c88" stroke="#62645f" stroke-width="0.6"/>
<ellipse cx="1013.2" cy="870.9" rx="3.7" ry="3.7" fill="#a6a8a3" opacity="0.6"/>
<ellipse cx="1012.7" cy="871.4" rx="2.8" ry="2.8" fill="#8a8c88" stroke="#62645f" stroke-width="0.6"/>
<ellipse cx="988.5" cy="883.1" rx="3.7" ry="4.2" fill="#a6a8a3" opacity="0.6"/>
<ellipse cx="988.0" cy="883.6" rx="2.8" ry="3.3" fill="#8a8c88" stroke="#62645f" stroke-width="0.6"/>
<ellipse cx="655.6" cy="886.0" rx="3.7" ry="4.2" fill="#a6a8a3" opacity="0.6"/>
<ellipse cx="655.1" cy="886.5" rx="2.8" ry="3.3" fill="#8a8c88" stroke="#62645f" stroke-width="0.6"/>
<ellipse cx="688.2" cy="887.5" rx="4.2" ry="6.4" fill="#a6a8a3" opacity="0.6"/>
<ellipse cx="687.7" cy="888.0" rx="3.3" ry="5.5" fill="#8a8c88" stroke="#62645f" stroke-width="0.6"/>
<ellipse cx="747.3" cy="890.4" rx="3.7" ry="3.7" fill="#a6a8a3" opacity="0.6"/>
<ellipse cx="746.8" cy="890.9" rx="2.8" ry="2.8" fill="#8a8c88" stroke="#62645f" stroke-width="0.6"/>
<ellipse cx="638.1" cy="896.2" rx="3.7" ry="3.7" fill="#a6a8a3" opacity="0.6"/>
<ellipse cx="637.6" cy="896.7" rx="2.8" ry="2.8" fill="#8a8c88" stroke="#62645f" stroke-width="0.6"/>
<ellipse cx="761.0" cy="900.0" rx="4.2" ry="4.8" fill="#a6a8a3" opacity="0.6"/>
<ellipse cx="760.5" cy="900.5" rx="3.3" ry="3.9" fill="#8a8c88" stroke="#62645f" stroke-width="0.6"/>
<ellipse cx="788.1" cy="900.6" rx="5.9" ry="4.8" fill="#a6a8a3" opacity="0.6"/>
<ellipse cx="787.6" cy="901.1" rx="5.0" ry="3.9" fill="#8a8c88" stroke="#62645f" stroke-width="0.6"/>
<ellipse cx="812.3" cy="895.6" rx="3.1" ry="3.1" fill="#a6a8a3" opacity="0.6"/>
<ellipse cx="811.8" cy="896.1" rx="2.2" ry="2.2" fill="#8a8c88" stroke="#62645f" stroke-width="0.6"/>
<ellipse cx="923.5" cy="902.9" rx="3.7" ry="4.2" fill="#a6a8a3" opacity="0.6"/>
<ellipse cx="923.0" cy="903.4" rx="2.8" ry="3.3" fill="#8a8c88" stroke="#62645f" stroke-width="0.6"/>
<ellipse cx="1014.4" cy="902.1" rx="3.1" ry="3.1" fill="#a6a8a3" opacity="0.6"/>
<ellipse cx="1013.9" cy="902.6" rx="2.2" ry="2.2" fill="#8a8c88" stroke="#62645f" stroke-width="0.6"/>
</g>
<g filter="url(#roughtex)">
<ellipse cx="792.0" cy="598.2" rx="4.7" ry="5.2" fill="#5fe03c" opacity="0.95"/>
<ellipse cx="856.0" cy="593.9" rx="3.0" ry="3.6" fill="#5fe03c" opacity="0.95"/>
<ellipse cx="1031.6" cy="596.8" rx="3.0" ry="4.1" fill="#5fe03c" opacity="0.95"/>
<ellipse cx="813.8" cy="590.1" rx="1.9" ry="1.9" fill="#5fe03c" opacity="0.95"/>
<ellipse cx="829.8" cy="588.9" rx="2.5" ry="1.1" fill="#5fe03c" opacity="0.95"/>
<ellipse cx="696.8" cy="612.2" rx="3.0" ry="2.5" fill="#5fe03c" opacity="0.95"/>
<ellipse cx="837.1" cy="614.3" rx="1.9" ry="3.0" fill="#5fe03c" opacity="0.95"/>
<ellipse cx="921.6" cy="614.3" rx="4.7" ry="8.0" fill="#5fe03c" opacity="0.95" transform="rotate(-20 921.6 614.3)"/>
<ellipse cx="997.3" cy="615.7" rx="4.7" ry="5.2" fill="#5fe03c" opacity="0.95"/>
<ellipse cx="732.3" cy="620.1" rx="2.5" ry="1.9" fill="#5fe03c" opacity="0.95"/>
<ellipse cx="746.8" cy="619.5" rx="2.5" ry="3.0" fill="#5fe03c" opacity="0.95"/>
<ellipse cx="1036.6" cy="628.2" rx="3.0" ry="3.6" fill="#5fe03c" opacity="0.43"/>
<ellipse cx="727.9" cy="632.6" rx="5.8" ry="5.2" fill="#5fe03c" opacity="0.95"/>
<ellipse cx="781.8" cy="637.6" rx="8.0" ry="7.4" fill="#5fe03c" opacity="0.95"/>
<ellipse cx="855.2" cy="636.1" rx="3.6" ry="3.0" fill="#5fe03c" opacity="0.95"/>
<ellipse cx="902.6" cy="631.2" rx="2.5" ry="3.6" fill="#5fe03c" opacity="0.43"/>
<ellipse cx="773.1" cy="652.1" rx="4.7" ry="2.5" fill="#5fe03c" opacity="0.95"/>
<ellipse cx="949.2" cy="648.3" rx="2.5" ry="2.5" fill="#5fe03c" opacity="0.43"/>
<ellipse cx="649.3" cy="644.3" rx="2.5" ry="3.0" fill="#5fe03c" opacity="0.95"/>
<ellipse cx="671.1" cy="651.2" rx="5.8" ry="3.0" fill="#5fe03c" opacity="0.43" transform="rotate(30 671.1 651.2)"/>
<ellipse cx="718.6" cy="655.0" rx="3.0" ry="5.2" fill="#5fe03c" opacity="0.95"/>
<ellipse cx="833.3" cy="663.8" rx="4.1" ry="5.2" fill="#5fe03c" opacity="0.95"/>
<ellipse cx="639.1" cy="667.6" rx="3.0" ry="2.5" fill="#5fe03c" opacity="0.95"/>
<ellipse cx="676.1" cy="673.4" rx="6.6" ry="7.4" fill="#5fe03c" opacity="0.95"/>
<ellipse cx="652.8" cy="681.2" rx="1.9" ry="1.9" fill="#5fe03c" opacity="0.95"/>
<ellipse cx="698.8" cy="691.4" rx="2.5" ry="3.6" fill="#5fe03c" opacity="0.95"/>
<ellipse cx="758.5" cy="688.5" rx="2.5" ry="3.0" fill="#5fe03c" opacity="0.95"/>
<ellipse cx="950.7" cy="681.2" rx="3.0" ry="3.0" fill="#5fe03c" opacity="0.95"/>
<ellipse cx="973.1" cy="674.5" rx="3.0" ry="3.0" fill="#5fe03c" opacity="0.95"/>
<ellipse cx="1059.9" cy="679.8" rx="9.4" ry="9.4" fill="#5fe03c" opacity="0.95"/>
<ellipse cx="862.5" cy="701.0" rx="1.9" ry="4.1" fill="#5fe03c" opacity="0.95"/>
<ellipse cx="912.8" cy="700.2" rx="3.0" ry="2.5" fill="#5fe03c" opacity="0.95"/>
<ellipse cx="938.2" cy="703.7" rx="4.1" ry="5.8" fill="#5fe03c" opacity="0.95"/>
<ellipse cx="968.2" cy="701.6" rx="1.9" ry="1.9" fill="#5fe03c" opacity="0.95"/>
<ellipse cx="976.9" cy="697.3" rx="1.9" ry="1.9" fill="#5fe03c" opacity="0.95"/>
<ellipse cx="667.6" cy="718.2" rx="3.6" ry="3.0" fill="#5fe03c" opacity="0.43"/>
<ellipse cx="725.0" cy="715.3" rx="5.2" ry="4.7" fill="#5fe03c" opacity="0.43"/>
<ellipse cx="740.4" cy="718.2" rx="1.9" ry="5.2" fill="#5fe03c" opacity="0.95"/>
<ellipse cx="805.1" cy="716.8" rx="5.2" ry="3.6" fill="#5fe03c" opacity="0.95"/>
<ellipse cx="849.6" cy="725.5" rx="2.5" ry="2.5" fill="#5fe03c" opacity="0.95"/>
<ellipse cx="891.6" cy="730.2" rx="3.6" ry="4.7" fill="#5fe03c" opacity="0.95"/>
<ellipse cx="1001.6" cy="730.2" rx="2.5" ry="2.5" fill="#5fe03c" opacity="0.95"/>
<ellipse cx="1038.0" cy="726.4" rx="3.6" ry="4.1" fill="#5fe03c" opacity="0.95"/>
<ellipse cx="1059.9" cy="720.6" rx="4.1" ry="12.1" fill="#5fe03c" opacity="0.95" transform="rotate(20 1059.9 720.6)"/>
<ellipse cx="1020.6" cy="737.4" rx="2.5" ry="2.5" fill="#5fe03c" opacity="0.95"/>
<ellipse cx="649.9" cy="745.3" rx="3.6" ry="3.0" fill="#5fe03c" opacity="0.95"/>
<ellipse cx="695.9" cy="739.5" rx="3.0" ry="4.7" fill="#5fe03c" opacity="0.95"/>
<ellipse cx="743.9" cy="744.7" rx="4.7" ry="4.1" fill="#5fe03c" opacity="0.95"/>
<ellipse cx="794.3" cy="737.4" rx="5.2" ry="4.1" fill="#5fe03c" opacity="0.95"/>
<ellipse cx="776.0" cy="750.5" rx="4.1" ry="1.4" fill="#5fe03c" opacity="0.95"/>
<ellipse cx="864.8" cy="740.9" rx="4.1" ry="5.2" fill="#5fe03c" opacity="0.95"/>
<ellipse cx="899.7" cy="743.8" rx="4.1" ry="4.1" fill="#5fe03c" opacity="0.95"/>
<ellipse cx="971.1" cy="742.4" rx="4.1" ry="4.7" fill="#5fe03c" opacity="0.95"/>
<ellipse cx="1000.2" cy="757.0" rx="2.5" ry="1.9" fill="#5fe03c" opacity="0.95"/>
<ellipse cx="1042.4" cy="757.5" rx="2.5" ry="2.5" fill="#5fe03c" opacity="0.95"/>
<ellipse cx="977.8" cy="764.8" rx="1.9" ry="1.9" fill="#5fe03c" opacity="0.95"/>
<ellipse cx="934.7" cy="764.2" rx="5.2" ry="7.4" fill="#5fe03c" opacity="0.95"/>
<ellipse cx="694.4" cy="783.2" rx="4.7" ry="5.2" fill="#5fe03c" opacity="0.95"/>
<ellipse cx="719.2" cy="780.3" rx="3.6" ry="3.6" fill="#5fe03c" opacity="0.95"/>
<ellipse cx="784.7" cy="776.5" rx="3.0" ry="3.0" fill="#5fe03c" opacity="0.95"/>
<ellipse cx="794.9" cy="778.2" rx="2.5" ry="3.0" fill="#5fe03c" opacity="0.95"/>
<ellipse cx="906.1" cy="784.0" rx="2.5" ry="3.6" fill="#5fe03c" opacity="0.95"/>
<ellipse cx="851.7" cy="793.4" rx="3.6" ry="2.5" fill="#5fe03c" opacity="0.95"/>
<ellipse cx="996.4" cy="792.8" rx="3.6" ry="4.1" fill="#5fe03c" opacity="0.95"/>
<ellipse cx="1034.6" cy="786.9" rx="1.9" ry="5.8" fill="#5fe03c" opacity="0.95"/>
<ellipse cx="960.9" cy="793.4" rx="13.5" ry="6.6" fill="#5fe03c" opacity="0.95" transform="rotate(20 960.9 793.4)"/>
<ellipse cx="950.7" cy="800.6" rx="3.0" ry="6.6" fill="#5fe03c" opacity="0.95"/>
<ellipse cx="698.8" cy="804.4" rx="3.0" ry="3.0" fill="#5fe03c" opacity="0.95"/>
<ellipse cx="723.5" cy="803.5" rx="3.6" ry="3.6" fill="#5fe03c" opacity="0.95"/>
<ellipse cx="739.6" cy="812.3" rx="12.1" ry="3.6" fill="#5fe03c" opacity="0.95" transform="rotate(30 739.6 812.3)"/>
<ellipse cx="716.3" cy="815.8" rx="2.5" ry="2.5" fill="#5fe03c" opacity="0.95"/>
<ellipse cx="1053.5" cy="803.5" rx="3.0" ry="1.9" fill="#5fe03c" opacity="0.95"/>
<ellipse cx="923.0" cy="815.8" rx="3.0" ry="3.0" fill="#5fe03c" opacity="0.95"/>
<ellipse cx="789.6" cy="827.7" rx="3.0" ry="3.6" fill="#5fe03c" opacity="0.95"/>
<ellipse cx="658.6" cy="839.9" rx="3.0" ry="2.5" fill="#5fe03c" opacity="0.95"/>
<ellipse cx="687.1" cy="842.3" rx="3.6" ry="4.1" fill="#5fe03c" opacity="0.95"/>
<ellipse cx="844.4" cy="835.6" rx="9.4" ry="7.4" fill="#5fe03c" opacity="0.95"/>
<ellipse cx="941.9" cy="841.4" rx="4.1" ry="3.6" fill="#5fe03c" opacity="0.95"/>
<ellipse cx="989.4" cy="841.4" rx="4.1" ry="4.7" fill="#5fe03c" opacity="0.95"/>
<ellipse cx="694.4" cy="859.7" rx="1.9" ry="2.5" fill="#5fe03c" opacity="0.95"/>
<ellipse cx="704.6" cy="858.9" rx="2.5" ry="2.5" fill="#5fe03c" opacity="0.95"/>
<ellipse cx="725.0" cy="865.6" rx="3.0" ry="2.5" fill="#5fe03c" opacity="0.95"/>
<ellipse cx="766.4" cy="872.0" rx="2.5" ry="3.0" fill="#5fe03c" opacity="0.95"/>
<ellipse cx="826.9" cy="862.7" rx="1.9" ry="1.9" fill="#5fe03c" opacity="0.95"/>
<ellipse cx="899.7" cy="860.3" rx="3.6" ry="6.6" fill="#5fe03c" opacity="0.95" transform="rotate(30 899.7 860.3)"/>
<ellipse cx="892.4" cy="870.5" rx="2.5" ry="3.0" fill="#5fe03c" opacity="0.95"/>
<ellipse cx="867.7" cy="874.9" rx="7.4" ry="4.7" fill="#5fe03c" opacity="0.95" transform="rotate(-30 867.7 874.9)"/>
<ellipse cx="984.8" cy="872.6" rx="2.5" ry="2.5" fill="#5fe03c" opacity="0.95"/>
<ellipse cx="997.3" cy="872.0" rx="2.5" ry="1.9" fill="#5fe03c" opacity="0.95"/>
<ellipse cx="1012.7" cy="871.4" rx="2.5" ry="2.5" fill="#5fe03c" opacity="0.95"/>
<ellipse cx="988.0" cy="883.6" rx="2.5" ry="3.0" fill="#5fe03c" opacity="0.95"/>
<ellipse cx="655.1" cy="886.5" rx="2.5" ry="3.0" fill="#5fe03c" opacity="0.95"/>
<ellipse cx="687.7" cy="888.0" rx="3.0" ry="5.2" fill="#5fe03c" opacity="0.95"/>
<ellipse cx="746.8" cy="890.9" rx="2.5" ry="2.5" fill="#5fe03c" opacity="0.95"/>
<ellipse cx="637.6" cy="896.7" rx="2.5" ry="2.5" fill="#5fe03c" opacity="0.95"/>
<ellipse cx="760.5" cy="900.5" rx="3.0" ry="3.6" fill="#5fe03c" opacity="0.95"/>
<ellipse cx="787.6" cy="901.1" rx="4.7" ry="3.6" fill="#5fe03c" opacity="0.95"/>
<ellipse cx="811.8" cy="896.1" rx="1.9" ry="1.9" fill="#5fe03c" opacity="0.95"/>
<ellipse cx="923.0" cy="903.4" rx="2.5" ry="3.0" fill="#5fe03c" opacity="0.95"/>
<ellipse cx="1013.9" cy="902.6" rx="1.9" ry="1.9" fill="#5fe03c" opacity="0.95"/>
</g>
<circle cx="689.5" cy="630.3" r="1.7" fill="#50524e" opacity="0.8"/>
<circle cx="663.8" cy="667.6" r="1.7" fill="#50524e" opacity="0.8"/>
<circle cx="768.1" cy="686.2" r="1.0" fill="#50524e" opacity="0.8"/>
<circle cx="1006.9" cy="689.1" r="1.0" fill="#50524e" opacity="0.8"/>
<circle cx="948.6" cy="733.1" r="0.8" fill="#50524e" opacity="0.8"/>
<circle cx="1006.9" cy="893.8" r="1.0" fill="#50524e" opacity="0.8"/>
<line x1="654.5" y1="896.2" x2="754.5" y2="896.2" stroke="#d8c86a" stroke-width="1.0" />
<line x1="654.5" y1="893.2" x2="654.5" y2="896.2" stroke="#d8c86a" stroke-width="1.0" />
<line x1="754.5" y1="893.2" x2="754.5" y2="896.2" stroke="#d8c86a" stroke-width="1.0" />
<line x1="704.5" y1="894.2" x2="704.5" y2="896.2" stroke="#d8c86a" stroke-width="1.0" />
<text x="654.5" y="891.7" font-size="4.5" text-anchor="start" fill="#d8c86a" >0</text>
<text x="704.5" y="891.7" font-size="4.5" text-anchor="middle" fill="#d8c86a" >µm</text>
<text x="754.5" y="891.7" font-size="4.5" text-anchor="middle" fill="#d8c86a" >400</text>
<text x="655.5" y="904.7" font-size="5" text-anchor="start" fill="#d0c060" font-style="italic">1.75 x 1.29 mm, 2.27 mm²</text>
<rect x="1021.5" y="903.3" width="48.6" height="8.8" fill="#000" />
<text x="1045.6" y="910.2" font-size="7.2" text-anchor="middle" fill="#e8e8e8" font-weight="bold" textLength="31.0" lengthAdjust="spacingAndGlyphs" >0d 3h 0m</text>
</g>
<clipPath id="clip20"><rect x="1098.6" y="588.2" width="439.3" height="324.3"/></clipPath>
<g clip-path="url(#clip20)">
<rect x="1098.6" y="588.2" width="439.3" height="324.3" fill="#7f817e" />
<rect x="1098.6" y="588.2" width="439.3" height="324.3" fill="rgb(118,200,100)" opacity="0.015"/>
<circle cx="1137.3" cy="698.0" r="41" fill="url(#blob)" opacity="0.38"/>
<circle cx="1262.5" cy="689.2" r="41" fill="url(#blob)" opacity="0.52"/>
<circle cx="1387.7" cy="689.2" r="41" fill="url(#blob)" opacity="0.62"/>
<circle cx="1501.3" cy="686.2" r="41" fill="url(#blob)" opacity="0.76"/>
<circle cx="1140.2" cy="820.2" r="41" fill="url(#blob)" opacity="0.35"/>
<circle cx="1265.4" cy="820.2" r="41" fill="url(#blob)" opacity="0.42"/>
<circle cx="1393.6" cy="815.2" r="41" fill="url(#blob)" opacity="0.65"/>
<circle cx="1507.1" cy="805.7" r="41" fill="url(#blob)" opacity="0.32"/>
<circle cx="1138.6" cy="603.2" r="50" fill="url(#blob)" opacity="0.36"/>
<circle cx="1326.6" cy="686.2" r="50" fill="url(#blob)" opacity="0.27"/>
<circle cx="1526.6" cy="748.2" r="50" fill="url(#blob)" opacity="0.27"/>
<circle cx="1448.6" cy="783.2" r="50" fill="url(#blob)" opacity="0.25"/>
<circle cx="1270.6" cy="756.2" r="50" fill="url(#blob)" opacity="0.23"/>
<circle cx="1143.6" cy="758.2" r="50" fill="url(#blob)" opacity="0.23"/>
<circle cx="1298.6" cy="880.2" r="50" fill="url(#blob)" opacity="0.27"/>
<circle cx="1388.6" cy="880.2" r="50" fill="url(#blob)" opacity="0.23"/>
<circle cx="1460.6" cy="633.2" r="50" fill="url(#blob)" opacity="0.27"/>
<circle cx="1370.6" cy="623.2" r="50" fill="url(#blob)" opacity="0.23"/>
<circle cx="1518.6" cy="608.2" r="50" fill="url(#blob)" opacity="0.11"/>
<circle cx="1208.6" cy="878.2" r="50" fill="url(#blob)" opacity="0.18"/>
<rect x="1098.6" y="588.2" width="439.3" height="324.3" filter="url(#grain)" opacity="0.2"/>
<g filter="url(#rough)">
<ellipse cx="1147.4" cy="591.9" rx="5.9" ry="5.9" fill="#a6a8a3" opacity="0.6"/>
<ellipse cx="1146.9" cy="592.4" rx="5.0" ry="5.0" fill="#8a8c88" stroke="#62645f" stroke-width="0.6"/>
<ellipse cx="1271.2" cy="589.6" rx="3.7" ry="3.1" fill="#a6a8a3" opacity="0.6"/>
<ellipse cx="1270.7" cy="590.1" rx="2.8" ry="2.2" fill="#8a8c88" stroke="#62645f" stroke-width="0.6"/>
<ellipse cx="1420.6" cy="600.1" rx="3.7" ry="4.8" fill="#a6a8a3" opacity="0.6"/>
<ellipse cx="1420.1" cy="600.6" rx="2.8" ry="3.9" fill="#8a8c88" stroke="#62645f" stroke-width="0.6"/>
<ellipse cx="1489.6" cy="591.3" rx="3.7" ry="4.2" fill="#a6a8a3" opacity="0.6"/>
<ellipse cx="1489.1" cy="591.8" rx="2.8" ry="3.3" fill="#8a8c88" stroke="#62645f" stroke-width="0.6"/>
<ellipse cx="1507.1" cy="595.4" rx="4.2" ry="4.8" fill="#a6a8a3" opacity="0.6"/>
<ellipse cx="1506.6" cy="595.9" rx="3.3" ry="3.9" fill="#8a8c88" stroke="#62645f" stroke-width="0.6"/>
<ellipse cx="1535.3" cy="597.7" rx="3.1" ry="5.9" fill="#a6a8a3" opacity="0.6"/>
<ellipse cx="1534.8" cy="598.2" rx="2.2" ry="5.0" fill="#8a8c88" stroke="#62645f" stroke-width="0.6"/>
<ellipse cx="1130.8" cy="607.4" rx="3.1" ry="3.1" fill="#a6a8a3" opacity="0.6"/>
<ellipse cx="1130.3" cy="607.9" rx="2.2" ry="2.2" fill="#8a8c88" stroke="#62645f" stroke-width="0.6"/>
<ellipse cx="1207.1" cy="613.8" rx="3.7" ry="4.8" fill="#a6a8a3" opacity="0.6"/>
<ellipse cx="1206.6" cy="614.3" rx="2.8" ry="3.9" fill="#8a8c88" stroke="#62645f" stroke-width="0.6"/>
<ellipse cx="1250.2" cy="621.0" rx="4.8" ry="3.1" fill="#a6a8a3" opacity="0.6" transform="rotate(-30 1250.2 621.0)"/>
<ellipse cx="1249.7" cy="621.5" rx="3.9" ry="2.2" fill="#8a8c88" stroke="#62645f" stroke-width="0.6" transform="rotate(-30 1249.7 621.5)"/>
<ellipse cx="1312.0" cy="612.3" rx="4.2" ry="6.4" fill="#a6a8a3" opacity="0.6"/>
<ellipse cx="1311.5" cy="612.8" rx="3.3" ry="5.5" fill="#8a8c88" stroke="#62645f" stroke-width="0.6"/>
<ellipse cx="1400.8" cy="610.3" rx="5.3" ry="2.6" fill="#a6a8a3" opacity="0.6" transform="rotate(-20 1400.8 610.3)"/>
<ellipse cx="1400.3" cy="610.8" rx="4.4" ry="1.7" fill="#8a8c88" stroke="#62645f" stroke-width="0.6" transform="rotate(-20 1400.3 610.8)"/>
<ellipse cx="1514.4" cy="624.0" rx="12.0" ry="6.4" fill="#a6a8a3" opacity="0.6" transform="rotate(-20 1514.4 624.0)"/>
<ellipse cx="1513.9" cy="624.5" rx="11.1" ry="5.5" fill="#8a8c88" stroke="#62645f" stroke-width="0.6" transform="rotate(-20 1513.9 624.5)"/>
<ellipse cx="1206.6" cy="632.7" rx="3.7" ry="4.8" fill="#a6a8a3" opacity="0.6"/>
<ellipse cx="1206.1" cy="633.2" rx="2.8" ry="3.9" fill="#8a8c88" stroke="#62645f" stroke-width="0.6"/>
<ellipse cx="1462.5" cy="631.2" rx="3.1" ry="3.7" fill="#a6a8a3" opacity="0.6"/>
<ellipse cx="1462.0" cy="631.7" rx="2.2" ry="2.8" fill="#8a8c88" stroke="#62645f" stroke-width="0.6"/>
<ellipse cx="1137.2" cy="647.8" rx="7.8" ry="7.0" fill="#a6a8a3" opacity="0.6"/>
<ellipse cx="1136.7" cy="648.3" rx="6.9" ry="6.1" fill="#8a8c88" stroke="#62645f" stroke-width="0.6"/>
<ellipse cx="1284.9" cy="642.3" rx="4.2" ry="3.7" fill="#a6a8a3" opacity="0.6"/>
<ellipse cx="1284.4" cy="642.8" rx="3.3" ry="2.8" fill="#8a8c88" stroke="#62645f" stroke-width="0.6"/>
<ellipse cx="1374.0" cy="637.9" rx="5.9" ry="5.9" fill="#a6a8a3" opacity="0.6"/>
<ellipse cx="1373.5" cy="638.4" rx="5.0" ry="5.0" fill="#8a8c88" stroke="#62645f" stroke-width="0.6"/>
<ellipse cx="1362.9" cy="641.4" rx="2.6" ry="2.6" fill="#a6a8a3" opacity="0.6"/>
<ellipse cx="1362.4" cy="641.9" rx="1.7" ry="1.7" fill="#8a8c88" stroke="#62645f" stroke-width="0.6"/>
<ellipse cx="1388.6" cy="651.0" rx="3.7" ry="4.2" fill="#a6a8a3" opacity="0.6"/>
<ellipse cx="1388.1" cy="651.5" rx="2.8" ry="3.3" fill="#8a8c88" stroke="#62645f" stroke-width="0.6"/>
<ellipse cx="1448.0" cy="653.9" rx="9.2" ry="8.6" fill="#a6a8a3" opacity="0.6"/>
<ellipse cx="1447.5" cy="654.4" rx="8.3" ry="7.7" fill="#8a8c88" stroke="#62645f" stroke-width="0.6"/>
<ellipse cx="1511.4" cy="662.7" rx="3.7" ry="3.7" fill="#a6a8a3" opacity="0.6"/>
<ellipse cx="1510.9" cy="663.2" rx="2.8" ry="2.8" fill="#8a8c88" stroke="#62645f" stroke-width="0.6"/>
<ellipse cx="1327.4" cy="659.5" rx="3.7" ry="4.8" fill="#a6a8a3" opacity="0.6"/>
<ellipse cx="1326.9" cy="660.0" rx="2.8" ry="3.9" fill="#8a8c88" stroke="#62645f" stroke-width="0.6"/>
<ellipse cx="1226.6" cy="674.0" rx="7.8" ry="7.0" fill="#a6a8a3" opacity="0.6"/>
<ellipse cx="1226.1" cy="674.5" rx="6.9" ry="6.1" fill="#8a8c88" stroke="#62645f" stroke-width="0.6"/>
<ellipse cx="1284.9" cy="677.0" rx="7.8" ry="12.5" fill="#a6a8a3" opacity="0.6"/>
<ellipse cx="1284.4" cy="677.5" rx="6.9" ry="11.6" fill="#8a8c88" stroke="#62645f" stroke-width="0.6"/>
<ellipse cx="1182.4" cy="680.7" rx="7.0" ry="3.1" fill="#a6a8a3" opacity="0.6" transform="rotate(-30 1182.4 680.7)"/>
<ellipse cx="1181.9" cy="681.2" rx="6.1" ry="2.2" fill="#8a8c88" stroke="#62645f" stroke-width="0.6" transform="rotate(-30 1181.9 681.2)"/>
<ellipse cx="1322.7" cy="685.7" rx="4.8" ry="3.7" fill="#a6a8a3" opacity="0.6" transform="rotate(-30 1322.7 685.7)"/>
<ellipse cx="1322.2" cy="686.2" rx="3.9" ry="2.8" fill="#8a8c88" stroke="#62645f" stroke-width="0.6" transform="rotate(-30 1322.2 686.2)"/>
<ellipse cx="1386.2" cy="677.8" rx="9.8" ry="9.8" fill="#a6a8a3" opacity="0.6"/>
<ellipse cx="1385.7" cy="678.3" rx="8.9" ry="8.9" fill="#8a8c88" stroke="#62645f" stroke-width="0.6"/>
<ellipse cx="1417.7" cy="689.5" rx="4.8" ry="4.8" fill="#a6a8a3" opacity="0.6"/>
<ellipse cx="1417.2" cy="690.0" rx="3.9" ry="3.9" fill="#8a8c88" stroke="#62645f" stroke-width="0.6"/>
<ellipse cx="1446.8" cy="683.7" rx="4.2" ry="4.8" fill="#a6a8a3" opacity="0.6"/>
<ellipse cx="1446.3" cy="684.2" rx="3.3" ry="3.9" fill="#8a8c88" stroke="#62645f" stroke-width="0.6"/>
<ellipse cx="1103.8" cy="690.3" rx="3.7" ry="4.2" fill="#a6a8a3" opacity="0.6"/>
<ellipse cx="1103.3" cy="690.8" rx="2.8" ry="3.3" fill="#8a8c88" stroke="#62645f" stroke-width="0.6"/>
<ellipse cx="1164.9" cy="692.4" rx="3.1" ry="3.1" fill="#a6a8a3" opacity="0.6"/>
<ellipse cx="1164.4" cy="692.9" rx="2.2" ry="2.2" fill="#8a8c88" stroke="#62645f" stroke-width="0.6"/>
<ellipse cx="1314.0" cy="712.8" rx="7.0" ry="8.6" fill="#a6a8a3" opacity="0.6"/>
<ellipse cx="1313.5" cy="713.3" rx="6.1" ry="7.7" fill="#8a8c88" stroke="#62645f" stroke-width="0.6"/>
<ellipse cx="1193.5" cy="712.8" rx="2.6" ry="2.6" fill="#a6a8a3" opacity="0.6"/>
<ellipse cx="1193.0" cy="713.3" rx="1.7" ry="1.7" fill="#8a8c88" stroke="#62645f" stroke-width="0.6"/>
<ellipse cx="1211.5" cy="719.5" rx="3.1" ry="5.3" fill="#a6a8a3" opacity="0.6"/>
<ellipse cx="1211.0" cy="720.0" rx="2.2" ry="4.4" fill="#8a8c88" stroke="#62645f" stroke-width="0.6"/>
<ellipse cx="1186.8" cy="727.3" rx="4.8" ry="6.4" fill="#a6a8a3" opacity="0.6"/>
<ellipse cx="1186.3" cy="727.8" rx="3.9" ry="5.5" fill="#8a8c88" stroke="#62645f" stroke-width="0.6"/>
<ellipse cx="1141.6" cy="717.7" rx="2.6" ry="3.7" fill="#a6a8a3" opacity="0.6"/>
<ellipse cx="1141.1" cy="718.2" rx="1.7" ry="2.8" fill="#8a8c88" stroke="#62645f" stroke-width="0.6"/>
<ellipse cx="1362.9" cy="726.5" rx="5.9" ry="8.6" fill="#a6a8a3" opacity="0.6" transform="rotate(-20 1362.9 726.5)"/>
<ellipse cx="1362.4" cy="727.0" rx="5.0" ry="7.7" fill="#8a8c88" stroke="#62645f" stroke-width="0.6" transform="rotate(-20 1362.4 727.0)"/>
<ellipse cx="1454.7" cy="707.8" rx="4.8" ry="4.8" fill="#a6a8a3" opacity="0.6"/>
<ellipse cx="1454.2" cy="708.3" rx="3.9" ry="3.9" fill="#8a8c88" stroke="#62645f" stroke-width="0.6"/>
<ellipse cx="1445.9" cy="701.1" rx="2.6" ry="3.1" fill="#a6a8a3" opacity="0.6"/>
<ellipse cx="1445.4" cy="701.6" rx="1.7" ry="2.2" fill="#8a8c88" stroke="#62645f" stroke-width="0.6"/>
<ellipse cx="1440.1" cy="725.9" rx="3.7" ry="3.7" fill="#a6a8a3" opacity="0.6"/>
<ellipse cx="1439.6" cy="726.4" rx="2.8" ry="2.8" fill="#8a8c88" stroke="#62645f" stroke-width="0.6"/>
<ellipse cx="1514.9" cy="720.6" rx="3.7" ry="3.7" fill="#a6a8a3" opacity="0.6"/>
<ellipse cx="1514.4" cy="721.1" rx="2.8" ry="2.8" fill="#8a8c88" stroke="#62645f" stroke-width="0.6"/>
<ellipse cx="1173.6" cy="750.0" rx="7.8" ry="7.0" fill="#a6a8a3" opacity="0.6"/>
<ellipse cx="1173.1" cy="750.5" rx="6.9" ry="6.1" fill="#8a8c88" stroke="#62645f" stroke-width="0.6"/>
<ellipse cx="1243.0" cy="755.0" rx="7.0" ry="8.6" fill="#a6a8a3" opacity="0.6"/>
<ellipse cx="1242.5" cy="755.5" rx="6.1" ry="7.7" fill="#8a8c88" stroke="#62645f" stroke-width="0.6"/>
<ellipse cx="1298.3" cy="749.2" rx="3.1" ry="3.1" fill="#a6a8a3" opacity="0.6"/>
<ellipse cx="1297.8" cy="749.7" rx="2.2" ry="2.2" fill="#8a8c88" stroke="#62645f" stroke-width="0.6"/>
<ellipse cx="1315.8" cy="739.6" rx="3.1" ry="3.7" fill="#a6a8a3" opacity="0.6"/>
<ellipse cx="1315.3" cy="740.1" rx="2.2" ry="2.8" fill="#8a8c88" stroke="#62645f" stroke-width="0.6"/>
<ellipse cx="1374.6" cy="744.8" rx="5.3" ry="7.8" fill="#a6a8a3" opacity="0.6"/>
<ellipse cx="1374.1" cy="745.3" rx="4.4" ry="6.9" fill="#8a8c88" stroke="#62645f" stroke-width="0.6"/>
<ellipse cx="1416.8" cy="755.0" rx="5.3" ry="3.7" fill="#a6a8a3" opacity="0.6"/>
<ellipse cx="1416.3" cy="755.5" rx="4.4" ry="2.8" fill="#8a8c88" stroke="#62645f" stroke-width="0.6"/>
<ellipse cx="1444.5" cy="745.4" rx="3.1" ry="3.1" fill="#a6a8a3" opacity="0.6"/>
<ellipse cx="1444.0" cy="745.9" rx="2.2" ry="2.2" fill="#8a8c88" stroke="#62645f" stroke-width="0.6"/>
<ellipse cx="1473.0" cy="746.3" rx="4.2" ry="4.2" fill="#a6a8a3" opacity="0.6"/>
<ellipse cx="1472.5" cy="746.8" rx="3.3" ry="3.3" fill="#8a8c88" stroke="#62645f" stroke-width="0.6"/>
<ellipse cx="1449.7" cy="763.7" rx="3.7" ry="7.8" fill="#a6a8a3" opacity="0.6"/>
<ellipse cx="1449.2" cy="764.2" rx="2.8" ry="6.9" fill="#8a8c88" stroke="#62645f" stroke-width="0.6"/>
<ellipse cx="1479.4" cy="763.2" rx="4.8" ry="5.3" fill="#a6a8a3" opacity="0.6"/>
<ellipse cx="1478.9" cy="763.7" rx="3.9" ry="4.4" fill="#8a8c88" stroke="#62645f" stroke-width="0.6"/>
<ellipse cx="1295.1" cy="766.1" rx="6.4" ry="4.2" fill="#a6a8a3" opacity="0.6" transform="rotate(30 1295.1 766.1)"/>
<ellipse cx="1294.6" cy="766.6" rx="5.5" ry="3.3" fill="#8a8c88" stroke="#62645f" stroke-width="0.6" transform="rotate(30 1294.6 766.6)"/>
<ellipse cx="1237.7" cy="782.7" rx="4.2" ry="3.7" fill="#a6a8a3" opacity="0.6"/>
<ellipse cx="1237.2" cy="783.2" rx="3.3" ry="2.8" fill="#8a8c88" stroke="#62645f" stroke-width="0.6"/>
<ellipse cx="1273.2" cy="784.1" rx="2.6" ry="6.4" fill="#a6a8a3" opacity="0.6" transform="rotate(-15 1273.2 784.1)"/>
<ellipse cx="1272.7" cy="784.6" rx="1.7" ry="5.5" fill="#8a8c88" stroke="#62645f" stroke-width="0.6" transform="rotate(-15 1272.7 784.6)"/>
<ellipse cx="1299.4" cy="783.5" rx="2.0" ry="2.0" fill="#a6a8a3" opacity="0.6"/>
<ellipse cx="1298.9" cy="784.0" rx="1.1" ry="1.1" fill="#8a8c88" stroke="#62645f" stroke-width="0.6"/>
<ellipse cx="1386.8" cy="783.0" rx="3.1" ry="3.1" fill="#a6a8a3" opacity="0.6"/>
<ellipse cx="1386.3" cy="783.5" rx="2.2" ry="2.2" fill="#8a8c88" stroke="#62645f" stroke-width="0.6"/>
<ellipse cx="1184.7" cy="784.7" rx="7.8" ry="3.7" fill="#a6a8a3" opacity="0.6" transform="rotate(-25 1184.7 784.7)"/>
<ellipse cx="1184.2" cy="785.2" rx="6.9" ry="2.8" fill="#8a8c88" stroke="#62645f" stroke-width="0.6" transform="rotate(-25 1184.2 785.2)"/>
<ellipse cx="1147.4" cy="787.9" rx="9.2" ry="2.3" fill="#a6a8a3" opacity="0.6"/>
<ellipse cx="1146.9" cy="788.4" rx="8.3" ry="1.4" fill="#8a8c88" stroke="#62645f" stroke-width="0.6"/>
<ellipse cx="1125.6" cy="791.4" rx="4.2" ry="10.6" fill="#a6a8a3" opacity="0.6" transform="rotate(15 1125.6 791.4)"/>
<ellipse cx="1125.1" cy="791.9" rx="3.3" ry="9.7" fill="#8a8c88" stroke="#62645f" stroke-width="0.6" transform="rotate(15 1125.1 791.9)"/>
<ellipse cx="1266.3" cy="795.8" rx="3.7" ry="3.7" fill="#a6a8a3" opacity="0.6"/>
<ellipse cx="1265.8" cy="796.3" rx="2.8" ry="2.8" fill="#8a8c88" stroke="#62645f" stroke-width="0.6"/>
<ellipse cx="1514.9" cy="795.2" rx="4.8" ry="5.9" fill="#a6a8a3" opacity="0.6"/>
<ellipse cx="1514.4" cy="795.7" rx="3.9" ry="5.0" fill="#8a8c88" stroke="#62645f" stroke-width="0.6"/>
<ellipse cx="1526.0" cy="805.1" rx="10.6" ry="4.8" fill="#a6a8a3" opacity="0.6" transform="rotate(-40 1526.0 805.1)"/>
<ellipse cx="1525.5" cy="805.6" rx="9.7" ry="3.9" fill="#8a8c88" stroke="#62645f" stroke-width="0.6" transform="rotate(-40 1525.5 805.6)"/>
<ellipse cx="1102.3" cy="808.9" rx="4.2" ry="7.8" fill="#a6a8a3" opacity="0.6"/>
<ellipse cx="1101.8" cy="809.4" rx="3.3" ry="6.9" fill="#8a8c88" stroke="#62645f" stroke-width="0.6"/>
<ellipse cx="1160.5" cy="809.7" rx="16.1" ry="6.4" fill="#a6a8a3" opacity="0.6" transform="rotate(-10 1160.5 809.7)"/>
<ellipse cx="1160.0" cy="810.2" rx="15.2" ry="5.5" fill="#8a8c88" stroke="#62645f" stroke-width="0.6" transform="rotate(-10 1160.0 810.2)"/>
<ellipse cx="1193.5" cy="810.3" rx="3.1" ry="3.1" fill="#a6a8a3" opacity="0.6"/>
<ellipse cx="1193.0" cy="810.8" rx="2.2" ry="2.2" fill="#8a8c88" stroke="#62645f" stroke-width="0.6"/>
<ellipse cx="1123.6" cy="815.3" rx="2.6" ry="2.6" fill="#a6a8a3" opacity="0.6"/>
<ellipse cx="1123.1" cy="815.8" rx="1.7" ry="1.7" fill="#8a8c88" stroke="#62645f" stroke-width="0.6"/>
<ellipse cx="1328.0" cy="808.9" rx="7.0" ry="9.2" fill="#a6a8a3" opacity="0.6"/>
<ellipse cx="1327.5" cy="809.4" rx="6.1" ry="8.3" fill="#8a8c88" stroke="#62645f" stroke-width="0.6"/>
<ellipse cx="1342.0" cy="822.0" rx="2.6" ry="9.2" fill="#a6a8a3" opacity="0.6" transform="rotate(10 1342.0 822.0)"/>
<ellipse cx="1341.5" cy="822.5" rx="1.7" ry="8.3" fill="#8a8c88" stroke="#62645f" stroke-width="0.6" transform="rotate(10 1341.5 822.5)"/>
<ellipse cx="1480.9" cy="806.5" rx="4.8" ry="4.2" fill="#a6a8a3" opacity="0.6"/>
<ellipse cx="1480.4" cy="807.0" rx="3.9" ry="3.3" fill="#8a8c88" stroke="#62645f" stroke-width="0.6"/>
<ellipse cx="1226.6" cy="820.5" rx="3.7" ry="4.2" fill="#a6a8a3" opacity="0.6"/>
<ellipse cx="1226.1" cy="821.0" rx="2.8" ry="3.3" fill="#8a8c88" stroke="#62645f" stroke-width="0.6"/>
<ellipse cx="1488.2" cy="827.8" rx="4.2" ry="5.9" fill="#a6a8a3" opacity="0.6"/>
<ellipse cx="1487.7" cy="828.3" rx="3.3" ry="5.0" fill="#8a8c88" stroke="#62645f" stroke-width="0.6"/>
<ellipse cx="1112.5" cy="836.5" rx="4.8" ry="4.8" fill="#a6a8a3" opacity="0.6"/>
<ellipse cx="1112.0" cy="837.0" rx="3.9" ry="3.9" fill="#8a8c88" stroke="#62645f" stroke-width="0.6"/>
<ellipse cx="1136.4" cy="838.9" rx="6.4" ry="4.2" fill="#a6a8a3" opacity="0.6"/>
<ellipse cx="1135.9" cy="839.4" rx="5.5" ry="3.3" fill="#8a8c88" stroke="#62645f" stroke-width="0.6"/>
<ellipse cx="1196.4" cy="835.1" rx="5.3" ry="8.6" fill="#a6a8a3" opacity="0.6" transform="rotate(20 1196.4 835.1)"/>
<ellipse cx="1195.9" cy="835.6" rx="4.4" ry="7.7" fill="#8a8c88" stroke="#62645f" stroke-width="0.6" transform="rotate(20 1195.9 835.6)"/>
<ellipse cx="1256.6" cy="840.9" rx="3.1" ry="3.1" fill="#a6a8a3" opacity="0.6"/>
<ellipse cx="1256.1" cy="841.4" rx="2.2" ry="2.2" fill="#8a8c88" stroke="#62645f" stroke-width="0.6"/>
<ellipse cx="1257.5" cy="852.6" rx="3.1" ry="4.8" fill="#a6a8a3" opacity="0.6"/>
<ellipse cx="1257.0" cy="853.1" rx="2.2" ry="3.9" fill="#8a8c88" stroke="#62645f" stroke-width="0.6"/>
<ellipse cx="1426.4" cy="836.0" rx="3.7" ry="4.2" fill="#a6a8a3" opacity="0.6"/>
<ellipse cx="1425.9" cy="836.5" rx="2.8" ry="3.3" fill="#8a8c88" stroke="#62645f" stroke-width="0.6"/>
<ellipse cx="1374.0" cy="845.3" rx="3.1" ry="3.1" fill="#a6a8a3" opacity="0.6"/>
<ellipse cx="1373.5" cy="845.8" rx="2.2" ry="2.2" fill="#8a8c88" stroke="#62645f" stroke-width="0.6"/>
<ellipse cx="1416.8" cy="851.1" rx="4.2" ry="5.9" fill="#a6a8a3" opacity="0.6"/>
<ellipse cx="1416.3" cy="851.6" rx="3.3" ry="5.0" fill="#8a8c88" stroke="#62645f" stroke-width="0.6"/>
<ellipse cx="1452.6" cy="849.6" rx="2.3" ry="3.1" fill="#a6a8a3" opacity="0.6"/>
<ellipse cx="1452.1" cy="850.1" rx="1.4" ry="2.2" fill="#8a8c88" stroke="#62645f" stroke-width="0.6"/>
<ellipse cx="1529.8" cy="848.2" rx="3.7" ry="4.2" fill="#a6a8a3" opacity="0.6"/>
<ellipse cx="1529.3" cy="848.7" rx="2.8" ry="3.3" fill="#8a8c88" stroke="#62645f" stroke-width="0.6"/>
<ellipse cx="1178.6" cy="851.1" rx="2.6" ry="2.6" fill="#a6a8a3" opacity="0.6"/>
<ellipse cx="1178.1" cy="851.6" rx="1.7" ry="1.7" fill="#8a8c88" stroke="#62645f" stroke-width="0.6"/>
<ellipse cx="1109.0" cy="868.6" rx="4.8" ry="7.0" fill="#a6a8a3" opacity="0.6"/>
<ellipse cx="1108.5" cy="869.1" rx="3.9" ry="6.1" fill="#8a8c88" stroke="#62645f" stroke-width="0.6"/>
<ellipse cx="1155.6" cy="866.2" rx="7.8" ry="8.6" fill="#a6a8a3" opacity="0.6"/>
<ellipse cx="1155.1" cy="866.7" rx="6.9" ry="7.7" fill="#8a8c88" stroke="#62645f" stroke-width="0.6"/>
<ellipse cx="1226.6" cy="868.0" rx="5.3" ry="7.0" fill="#a6a8a3" opacity="0.6"/>
<ellipse cx="1226.1" cy="868.5" rx="4.4" ry="6.1" fill="#8a8c88" stroke="#62645f" stroke-width="0.6"/>
<ellipse cx="1340.2" cy="873.5" rx="4.2" ry="5.3" fill="#a6a8a3" opacity="0.6"/>
<ellipse cx="1339.7" cy="874.0" rx="3.3" ry="4.4" fill="#8a8c88" stroke="#62645f" stroke-width="0.6"/>
<ellipse cx="1349.8" cy="877.3" rx="3.1" ry="3.1" fill="#a6a8a3" opacity="0.6"/>
<ellipse cx="1349.3" cy="877.8" rx="2.2" ry="2.2" fill="#8a8c88" stroke="#62645f" stroke-width="0.6"/>
<ellipse cx="1388.6" cy="877.3" rx="4.2" ry="8.6" fill="#a6a8a3" opacity="0.6"/>
<ellipse cx="1388.1" cy="877.8" rx="3.3" ry="7.7" fill="#8a8c88" stroke="#62645f" stroke-width="0.6"/>
<ellipse cx="1494.0" cy="865.1" rx="3.7" ry="3.7" fill="#a6a8a3" opacity="0.6"/>
<ellipse cx="1493.5" cy="865.6" rx="2.8" ry="2.8" fill="#8a8c88" stroke="#62645f" stroke-width="0.6"/>
<ellipse cx="1510.9" cy="858.4" rx="4.2" ry="4.2" fill="#a6a8a3" opacity="0.6"/>
<ellipse cx="1510.4" cy="858.9" rx="3.3" ry="3.3" fill="#8a8c88" stroke="#62645f" stroke-width="0.6"/>
<ellipse cx="1525.4" cy="860.4" rx="5.3" ry="3.7" fill="#a6a8a3" opacity="0.6" transform="rotate(-30 1525.4 860.4)"/>
<ellipse cx="1524.9" cy="860.9" rx="4.4" ry="2.8" fill="#8a8c88" stroke="#62645f" stroke-width="0.6" transform="rotate(-30 1524.9 860.9)"/>
<ellipse cx="1432.8" cy="884.6" rx="4.8" ry="7.0" fill="#a6a8a3" opacity="0.6"/>
<ellipse cx="1432.3" cy="885.1" rx="3.9" ry="6.1" fill="#8a8c88" stroke="#62645f" stroke-width="0.6"/>
<ellipse cx="1406.0" cy="886.0" rx="2.0" ry="2.0" fill="#a6a8a3" opacity="0.6"/>
<ellipse cx="1405.5" cy="886.5" rx="1.1" ry="1.1" fill="#8a8c88" stroke="#62645f" stroke-width="0.6"/>
<ellipse cx="1466.3" cy="890.4" rx="7.0" ry="5.9" fill="#a6a8a3" opacity="0.6"/>
<ellipse cx="1465.8" cy="890.9" rx="6.1" ry="5.0" fill="#8a8c88" stroke="#62645f" stroke-width="0.6"/>
<ellipse cx="1329.4" cy="896.2" rx="4.2" ry="4.8" fill="#a6a8a3" opacity="0.6"/>
<ellipse cx="1328.9" cy="896.7" rx="3.3" ry="3.9" fill="#8a8c88" stroke="#62645f" stroke-width="0.6"/>
<ellipse cx="1383.3" cy="896.2" rx="4.8" ry="7.0" fill="#a6a8a3" opacity="0.6"/>
<ellipse cx="1382.8" cy="896.7" rx="3.9" ry="6.1" fill="#8a8c88" stroke="#62645f" stroke-width="0.6"/>
<ellipse cx="1365.8" cy="894.8" rx="2.6" ry="2.6" fill="#a6a8a3" opacity="0.6"/>
<ellipse cx="1365.3" cy="895.3" rx="1.7" ry="1.7" fill="#8a8c88" stroke="#62645f" stroke-width="0.6"/>
<ellipse cx="1119.8" cy="897.7" rx="3.7" ry="4.2" fill="#a6a8a3" opacity="0.6"/>
<ellipse cx="1119.3" cy="898.2" rx="2.8" ry="3.3" fill="#8a8c88" stroke="#62645f" stroke-width="0.6"/>
<ellipse cx="1223.2" cy="905.0" rx="2.6" ry="2.6" fill="#a6a8a3" opacity="0.6"/>
<ellipse cx="1222.7" cy="905.5" rx="1.7" ry="1.7" fill="#8a8c88" stroke="#62645f" stroke-width="0.6"/>
<ellipse cx="1263.9" cy="906.4" rx="3.7" ry="3.7" fill="#a6a8a3" opacity="0.6"/>
<ellipse cx="1263.4" cy="906.9" rx="2.8" ry="2.8" fill="#8a8c88" stroke="#62645f" stroke-width="0.6"/>
<ellipse cx="1342.5" cy="905.0" rx="4.2" ry="3.7" fill="#a6a8a3" opacity="0.6"/>
<ellipse cx="1342.0" cy="905.5" rx="3.3" ry="2.8" fill="#8a8c88" stroke="#62645f" stroke-width="0.6"/>
<ellipse cx="1480.9" cy="903.5" rx="4.2" ry="3.7" fill="#a6a8a3" opacity="0.6"/>
<ellipse cx="1480.4" cy="904.0" rx="3.3" ry="2.8" fill="#8a8c88" stroke="#62645f" stroke-width="0.6"/>
<ellipse cx="1515.8" cy="899.1" rx="3.1" ry="3.1" fill="#a6a8a3" opacity="0.6"/>
<ellipse cx="1515.3" cy="899.6" rx="2.2" ry="2.2" fill="#8a8c88" stroke="#62645f" stroke-width="0.6"/>
</g>
<g filter="url(#roughtex)">
<ellipse cx="1146.9" cy="592.4" rx="4.7" ry="4.7" fill="#5fe03c" opacity="0.95"/>
<ellipse cx="1270.7" cy="590.1" rx="2.5" ry="1.9" fill="#5fe03c" opacity="0.95"/>
<ellipse cx="1420.1" cy="600.6" rx="2.5" ry="3.6" fill="#5fe03c" opacity="0.95"/>
<ellipse cx="1489.1" cy="591.8" rx="2.5" ry="3.0" fill="#5fe03c" opacity="0.95"/>
<ellipse cx="1506.6" cy="595.9" rx="3.0" ry="3.6" fill="#5fe03c" opacity="0.95"/>
<ellipse cx="1534.8" cy="598.2" rx="1.9" ry="4.7" fill="#5fe03c" opacity="0.95"/>
<ellipse cx="1130.3" cy="607.9" rx="1.9" ry="1.9" fill="#5fe03c" opacity="0.95"/>
<ellipse cx="1206.6" cy="614.3" rx="2.5" ry="3.6" fill="#5fe03c" opacity="0.95"/>
<ellipse cx="1249.7" cy="621.5" rx="3.6" ry="1.9" fill="#5fe03c" opacity="0.95" transform="rotate(-30 1249.7 621.5)"/>
<ellipse cx="1311.5" cy="612.8" rx="3.0" ry="5.2" fill="#5fe03c" opacity="0.95"/>
<ellipse cx="1400.3" cy="610.8" rx="4.1" ry="1.4" fill="#5fe03c" opacity="0.95" transform="rotate(-20 1400.3 610.8)"/>
<ellipse cx="1513.9" cy="624.5" rx="10.8" ry="5.2" fill="#5fe03c" opacity="0.95" transform="rotate(-20 1513.9 624.5)"/>
<ellipse cx="1206.1" cy="633.2" rx="2.5" ry="3.6" fill="#5fe03c" opacity="0.95"/>
<ellipse cx="1136.7" cy="648.3" rx="6.6" ry="5.8" fill="#5fe03c" opacity="0.95"/>
<ellipse cx="1284.4" cy="642.8" rx="3.0" ry="2.5" fill="#5fe03c" opacity="0.95"/>
<ellipse cx="1373.5" cy="638.4" rx="4.7" ry="4.7" fill="#5fe03c" opacity="0.43"/>
<ellipse cx="1362.4" cy="641.9" rx="1.4" ry="1.4" fill="#5fe03c" opacity="0.95"/>
<ellipse cx="1388.1" cy="651.5" rx="2.5" ry="3.0" fill="#5fe03c" opacity="0.95"/>
<ellipse cx="1447.5" cy="654.4" rx="8.0" ry="7.4" fill="#5fe03c" opacity="0.95"/>
<ellipse cx="1510.9" cy="663.2" rx="2.5" ry="2.5" fill="#5fe03c" opacity="0.43"/>
<ellipse cx="1326.9" cy="660.0" rx="2.5" ry="3.6" fill="#5fe03c" opacity="0.95"/>
<ellipse cx="1226.1" cy="674.5" rx="6.6" ry="5.8" fill="#5fe03c" opacity="0.95"/>
<ellipse cx="1284.4" cy="677.5" rx="6.6" ry="11.3" fill="#5fe03c" opacity="0.95"/>
<ellipse cx="1181.9" cy="681.2" rx="5.8" ry="1.9" fill="#5fe03c" opacity="0.95" transform="rotate(-30 1181.9 681.2)"/>
<ellipse cx="1322.2" cy="686.2" rx="3.6" ry="2.5" fill="#5fe03c" opacity="0.95" transform="rotate(-30 1322.2 686.2)"/>
<ellipse cx="1385.7" cy="678.3" rx="8.6" ry="8.6" fill="#5fe03c" opacity="0.95"/>
<ellipse cx="1417.2" cy="690.0" rx="3.6" ry="3.6" fill="#5fe03c" opacity="0.95"/>
<ellipse cx="1446.3" cy="684.2" rx="3.0" ry="3.6" fill="#5fe03c" opacity="0.95"/>
<ellipse cx="1103.3" cy="690.8" rx="2.5" ry="3.0" fill="#5fe03c" opacity="0.95"/>
<ellipse cx="1313.5" cy="713.3" rx="5.8" ry="7.4" fill="#5fe03c" opacity="0.95"/>
<ellipse cx="1193.0" cy="713.3" rx="1.4" ry="1.4" fill="#5fe03c" opacity="0.95"/>
<ellipse cx="1211.0" cy="720.0" rx="1.9" ry="4.1" fill="#5fe03c" opacity="0.95"/>
<ellipse cx="1186.3" cy="727.8" rx="3.6" ry="5.2" fill="#5fe03c" opacity="0.95"/>
<ellipse cx="1362.4" cy="727.0" rx="4.7" ry="7.4" fill="#5fe03c" opacity="0.95" transform="rotate(-20 1362.4 727.0)"/>
<ellipse cx="1454.2" cy="708.3" rx="3.6" ry="3.6" fill="#5fe03c" opacity="0.95"/>
<ellipse cx="1439.6" cy="726.4" rx="2.5" ry="2.5" fill="#5fe03c" opacity="0.95"/>
<ellipse cx="1514.4" cy="721.1" rx="2.5" ry="2.5" fill="#5fe03c" opacity="0.95"/>
<ellipse cx="1173.1" cy="750.5" rx="6.6" ry="5.8" fill="#5fe03c" opacity="0.95"/>
<ellipse cx="1242.5" cy="755.5" rx="5.8" ry="7.4" fill="#5fe03c" opacity="0.95"/>
<ellipse cx="1297.8" cy="749.7" rx="1.9" ry="1.9" fill="#5fe03c" opacity="0.95"/>
<ellipse cx="1315.3" cy="740.1" rx="1.9" ry="2.5" fill="#5fe03c" opacity="0.95"/>
<ellipse cx="1374.1" cy="745.3" rx="4.1" ry="6.6" fill="#5fe03c" opacity="0.95"/>
<ellipse cx="1416.3" cy="755.5" rx="4.1" ry="2.5" fill="#5fe03c" opacity="0.95"/>
<ellipse cx="1444.0" cy="745.9" rx="1.9" ry="1.9" fill="#5fe03c" opacity="0.95"/>
<ellipse cx="1472.5" cy="746.8" rx="3.0" ry="3.0" fill="#5fe03c" opacity="0.95"/>
<ellipse cx="1449.2" cy="764.2" rx="2.5" ry="6.6" fill="#5fe03c" opacity="0.95"/>
<ellipse cx="1478.9" cy="763.7" rx="3.6" ry="4.1" fill="#5fe03c" opacity="0.95"/>
<ellipse cx="1294.6" cy="766.6" rx="5.2" ry="3.0" fill="#5fe03c" opacity="0.95" transform="rotate(30 1294.6 766.6)"/>
<ellipse cx="1237.2" cy="783.2" rx="3.0" ry="2.5" fill="#5fe03c" opacity="0.95"/>
<ellipse cx="1272.7" cy="784.6" rx="1.4" ry="5.2" fill="#5fe03c" opacity="0.95" transform="rotate(-15 1272.7 784.6)"/>
<ellipse cx="1298.9" cy="784.0" rx="0.8" ry="0.8" fill="#5fe03c" opacity="0.95"/>
<ellipse cx="1386.3" cy="783.5" rx="1.9" ry="1.9" fill="#5fe03c" opacity="0.95"/>
<ellipse cx="1184.2" cy="785.2" rx="6.6" ry="2.5" fill="#5fe03c" opacity="0.95" transform="rotate(-25 1184.2 785.2)"/>
<ellipse cx="1146.9" cy="788.4" rx="8.0" ry="1.1" fill="#5fe03c" opacity="0.95"/>
<ellipse cx="1125.1" cy="791.9" rx="3.0" ry="9.4" fill="#5fe03c" opacity="0.95" transform="rotate(15 1125.1 791.9)"/>
<ellipse cx="1514.4" cy="795.7" rx="3.6" ry="4.7" fill="#5fe03c" opacity="0.95"/>
<ellipse cx="1525.5" cy="805.6" rx="9.4" ry="3.6" fill="#5fe03c" opacity="0.95" transform="rotate(-40 1525.5 805.6)"/>
<ellipse cx="1101.8" cy="809.4" rx="3.0" ry="6.6" fill="#5fe03c" opacity="0.95"/>
<ellipse cx="1160.0" cy="810.2" rx="14.9" ry="5.2" fill="#5fe03c" opacity="0.95" transform="rotate(-10 1160.0 810.2)"/>
<ellipse cx="1123.1" cy="815.8" rx="1.4" ry="1.4" fill="#5fe03c" opacity="0.95"/>
<ellipse cx="1327.5" cy="809.4" rx="5.8" ry="8.0" fill="#5fe03c" opacity="0.95"/>
<ellipse cx="1341.5" cy="822.5" rx="1.4" ry="8.0" fill="#5fe03c" opacity="0.95" transform="rotate(10 1341.5 822.5)"/>
<ellipse cx="1480.4" cy="807.0" rx="3.6" ry="3.0" fill="#5fe03c" opacity="0.95"/>
<ellipse cx="1226.1" cy="821.0" rx="2.5" ry="3.0" fill="#5fe03c" opacity="0.95"/>
<ellipse cx="1487.7" cy="828.3" rx="3.0" ry="4.7" fill="#5fe03c" opacity="0.95"/>
<ellipse cx="1112.0" cy="837.0" rx="3.6" ry="3.6" fill="#5fe03c" opacity="0.95"/>
<ellipse cx="1135.9" cy="839.4" rx="5.2" ry="3.0" fill="#5fe03c" opacity="0.95"/>
<ellipse cx="1195.9" cy="835.6" rx="4.1" ry="7.4" fill="#5fe03c" opacity="0.95" transform="rotate(20 1195.9 835.6)"/>
<ellipse cx="1256.1" cy="841.4" rx="1.9" ry="1.9" fill="#5fe03c" opacity="0.95"/>
<ellipse cx="1257.0" cy="853.1" rx="1.9" ry="3.6" fill="#5fe03c" opacity="0.95"/>
<ellipse cx="1425.9" cy="836.5" rx="2.5" ry="3.0" fill="#5fe03c" opacity="0.95"/>
<ellipse cx="1416.3" cy="851.6" rx="3.0" ry="4.7" fill="#5fe03c" opacity="0.95"/>
<ellipse cx="1452.1" cy="850.1" rx="1.1" ry="1.9" fill="#5fe03c" opacity="0.95"/>
<ellipse cx="1529.3" cy="848.7" rx="2.5" ry="3.0" fill="#5fe03c" opacity="0.95"/>
<ellipse cx="1178.1" cy="851.6" rx="1.4" ry="1.4" fill="#5fe03c" opacity="0.95"/>
<ellipse cx="1108.5" cy="869.1" rx="3.6" ry="5.8" fill="#5fe03c" opacity="0.95"/>
<ellipse cx="1155.1" cy="866.7" rx="6.6" ry="7.4" fill="#5fe03c" opacity="0.95"/>
<ellipse cx="1226.1" cy="868.5" rx="4.1" ry="5.8" fill="#5fe03c" opacity="0.95"/>
<ellipse cx="1339.7" cy="874.0" rx="3.0" ry="4.1" fill="#5fe03c" opacity="0.95"/>
<ellipse cx="1349.3" cy="877.8" rx="1.9" ry="1.9" fill="#5fe03c" opacity="0.95"/>
<ellipse cx="1388.1" cy="877.8" rx="3.0" ry="7.4" fill="#5fe03c" opacity="0.95"/>
<ellipse cx="1493.5" cy="865.6" rx="2.5" ry="2.5" fill="#5fe03c" opacity="0.95"/>
<ellipse cx="1510.4" cy="858.9" rx="3.0" ry="3.0" fill="#5fe03c" opacity="0.95"/>
<ellipse cx="1524.9" cy="860.9" rx="4.1" ry="2.5" fill="#5fe03c" opacity="0.95" transform="rotate(-30 1524.9 860.9)"/>
<ellipse cx="1432.3" cy="885.1" rx="3.6" ry="5.8" fill="#5fe03c" opacity="0.95"/>
<ellipse cx="1405.5" cy="886.5" rx="0.8" ry="0.8" fill="#5fe03c" opacity="0.95"/>
<ellipse cx="1465.8" cy="890.9" rx="5.8" ry="4.7" fill="#5fe03c" opacity="0.95"/>
<ellipse cx="1328.9" cy="896.7" rx="3.0" ry="3.6" fill="#5fe03c" opacity="0.95"/>
<ellipse cx="1382.8" cy="896.7" rx="3.6" ry="5.8" fill="#5fe03c" opacity="0.95"/>
<ellipse cx="1365.3" cy="895.3" rx="1.4" ry="1.4" fill="#5fe03c" opacity="0.95"/>
<ellipse cx="1119.3" cy="898.2" rx="2.5" ry="3.0" fill="#5fe03c" opacity="0.95"/>
<ellipse cx="1222.7" cy="905.5" rx="1.4" ry="1.4" fill="#5fe03c" opacity="0.95"/>
<ellipse cx="1263.4" cy="906.9" rx="2.5" ry="2.5" fill="#5fe03c" opacity="0.95"/>
<ellipse cx="1342.0" cy="905.5" rx="3.0" ry="2.5" fill="#5fe03c" opacity="0.95"/>
<ellipse cx="1480.4" cy="904.0" rx="3.0" ry="2.5" fill="#5fe03c" opacity="0.95"/>
<ellipse cx="1515.3" cy="899.6" rx="1.9" ry="1.9" fill="#5fe03c" opacity="0.95"/>
</g>
<circle cx="1193.0" cy="596.8" r="1.2" fill="#50524e" opacity="0.8"/>
<circle cx="1287.6" cy="628.8" r="1.0" fill="#50524e" opacity="0.8"/>
<circle cx="1102.7" cy="648.3" r="1.0" fill="#50524e" opacity="0.8"/>
<circle cx="1529.9" cy="650.7" r="1.2" fill="#50524e" opacity="0.8"/>
<circle cx="1280.3" cy="746.2" r="0.8" fill="#50524e" opacity="0.8"/>
<circle cx="1292.5" cy="776.8" r="0.8" fill="#50524e" opacity="0.8"/>
<circle cx="1391.6" cy="854.5" r="1.2" fill="#50524e" opacity="0.8"/>
<circle cx="1198.8" cy="869.1" r="1.2" fill="#50524e" opacity="0.8"/>
<circle cx="1466.7" cy="865.3" r="1.0" fill="#50524e" opacity="0.8"/>
<line x1="1119.1" y1="896.2" x2="1219.1" y2="896.2" stroke="#d8c86a" stroke-width="1.0" />
<line x1="1119.1" y1="893.2" x2="1119.1" y2="896.2" stroke="#d8c86a" stroke-width="1.0" />
<line x1="1219.1" y1="893.2" x2="1219.1" y2="896.2" stroke="#d8c86a" stroke-width="1.0" />
<line x1="1169.1" y1="894.2" x2="1169.1" y2="896.2" stroke="#d8c86a" stroke-width="1.0" />
<text x="1119.1" y="891.7" font-size="4.5" text-anchor="start" fill="#d8c86a" >0</text>
<text x="1169.1" y="891.7" font-size="4.5" text-anchor="middle" fill="#d8c86a" >µm</text>
<text x="1219.1" y="891.7" font-size="4.5" text-anchor="middle" fill="#d8c86a" >400</text>
<text x="1120.1" y="904.7" font-size="5" text-anchor="start" fill="#d0c060" font-style="italic">1.75 x 1.29 mm, 2.27 mm²</text>
<rect x="1486.4" y="903.3" width="48.6" height="8.8" fill="#000" />
<text x="1510.5" y="910.2" font-size="7.2" text-anchor="middle" fill="#e8e8e8" font-weight="bold" textLength="31.0" lengthAdjust="spacingAndGlyphs" >0d 3h 0m</text>
</g>
<clipPath id="clip01"><rect x="167.5" y="921.3" width="440.1" height="323.8"/></clipPath>
<g clip-path="url(#clip01)">
<rect x="167.5" y="921.3" width="440.1" height="323.8" fill="#7f817e" />
<rect x="167.5" y="921.3" width="440.1" height="323.8" fill="rgb(118,200,100)" opacity="0.02"/>
<circle cx="206.2" cy="1031.1" r="41" fill="url(#blob)" opacity="0.40"/>
<circle cx="331.4" cy="1022.3" r="41" fill="url(#blob)" opacity="0.54"/>
<circle cx="456.6" cy="1022.3" r="41" fill="url(#blob)" opacity="0.66"/>
<circle cx="570.2" cy="1019.3" r="41" fill="url(#blob)" opacity="0.80"/>
<circle cx="209.1" cy="1153.3" r="41" fill="url(#blob)" opacity="0.37"/>
<circle cx="334.3" cy="1153.3" r="41" fill="url(#blob)" opacity="0.44"/>
<circle cx="462.5" cy="1148.3" r="41" fill="url(#blob)" opacity="0.68"/>
<circle cx="576.0" cy="1138.8" r="41" fill="url(#blob)" opacity="0.34"/>
<circle cx="207.5" cy="936.3" r="50" fill="url(#blob)" opacity="0.32"/>
<circle cx="395.5" cy="1019.3" r="50" fill="url(#blob)" opacity="0.24"/>
<circle cx="595.5" cy="1081.3" r="50" fill="url(#blob)" opacity="0.24"/>
<circle cx="517.5" cy="1116.3" r="50" fill="url(#blob)" opacity="0.22"/>
<circle cx="339.5" cy="1089.3" r="50" fill="url(#blob)" opacity="0.20"/>
<circle cx="212.5" cy="1091.3" r="50" fill="url(#blob)" opacity="0.20"/>
<circle cx="367.5" cy="1213.3" r="50" fill="url(#blob)" opacity="0.24"/>
<circle cx="457.5" cy="1213.3" r="50" fill="url(#blob)" opacity="0.20"/>
<circle cx="529.5" cy="966.3" r="50" fill="url(#blob)" opacity="0.24"/>
<circle cx="439.5" cy="956.3" r="50" fill="url(#blob)" opacity="0.20"/>
<circle cx="587.5" cy="941.3" r="50" fill="url(#blob)" opacity="0.10"/>
<circle cx="277.5" cy="1211.3" r="50" fill="url(#blob)" opacity="0.16"/>
<rect x="167.5" y="921.3" width="440.1" height="323.8" filter="url(#grain)" opacity="0.2"/>
<g filter="url(#rough)">
<ellipse cx="183.5" cy="930.4" rx="7.0" ry="6.4" fill="#a6a8a3" opacity="0.6"/>
<ellipse cx="183.0" cy="930.9" rx="6.1" ry="5.5" fill="#8a8c88" stroke="#62645f" stroke-width="0.6"/>
<ellipse cx="212.6" cy="928.0" rx="7.8" ry="4.8" fill="#a6a8a3" opacity="0.6" transform="rotate(-40 212.6 928.0)"/>
<ellipse cx="212.1" cy="928.5" rx="6.9" ry="3.9" fill="#8a8c88" stroke="#62645f" stroke-width="0.6" transform="rotate(-40 212.1 928.5)"/>
<ellipse cx="244.6" cy="928.0" rx="6.4" ry="4.8" fill="#a6a8a3" opacity="0.6"/>
<ellipse cx="244.1" cy="928.5" rx="5.5" ry="3.9" fill="#8a8c88" stroke="#62645f" stroke-width="0.6"/>
<ellipse cx="316.0" cy="927.4" rx="12.0" ry="6.4" fill="#a6a8a3" opacity="0.6"/>
<ellipse cx="315.5" cy="927.9" rx="11.1" ry="5.5" fill="#8a8c88" stroke="#62645f" stroke-width="0.6"/>
<ellipse cx="426.6" cy="926.9" rx="7.8" ry="6.4" fill="#a6a8a3" opacity="0.6"/>
<ellipse cx="426.1" cy="927.4" rx="6.9" ry="5.5" fill="#8a8c88" stroke="#62645f" stroke-width="0.6"/>
<ellipse cx="466.0" cy="924.5" rx="9.2" ry="3.7" fill="#a6a8a3" opacity="0.6"/>
<ellipse cx="465.5" cy="925.0" rx="8.3" ry="2.8" fill="#8a8c88" stroke="#62645f" stroke-width="0.6"/>
<ellipse cx="508.2" cy="937.6" rx="4.8" ry="7.0" fill="#a6a8a3" opacity="0.6"/>
<ellipse cx="507.7" cy="938.1" rx="3.9" ry="6.1" fill="#8a8c88" stroke="#62645f" stroke-width="0.6"/>
<ellipse cx="291.2" cy="939.7" rx="3.7" ry="5.3" fill="#a6a8a3" opacity="0.6"/>
<ellipse cx="290.7" cy="940.2" rx="2.8" ry="4.4" fill="#8a8c88" stroke="#62645f" stroke-width="0.6"/>
<ellipse cx="438.3" cy="942.0" rx="4.8" ry="6.4" fill="#a6a8a3" opacity="0.6"/>
<ellipse cx="437.8" cy="942.5" rx="3.9" ry="5.5" fill="#8a8c88" stroke="#62645f" stroke-width="0.6"/>
<ellipse cx="295.6" cy="953.6" rx="4.8" ry="4.2" fill="#a6a8a3" opacity="0.6"/>
<ellipse cx="295.1" cy="954.1" rx="3.9" ry="3.3" fill="#8a8c88" stroke="#62645f" stroke-width="0.6"/>
<ellipse cx="286.0" cy="966.8" rx="4.8" ry="6.4" fill="#a6a8a3" opacity="0.6"/>
<ellipse cx="285.5" cy="967.3" rx="3.9" ry="5.5" fill="#8a8c88" stroke="#62645f" stroke-width="0.6"/>
<ellipse cx="367.0" cy="960.1" rx="3.7" ry="4.2" fill="#a6a8a3" opacity="0.6"/>
<ellipse cx="366.5" cy="960.6" rx="2.8" ry="3.3" fill="#8a8c88" stroke="#62645f" stroke-width="0.6"/>
<ellipse cx="468.9" cy="960.9" rx="6.4" ry="3.1" fill="#a6a8a3" opacity="0.6"/>
<ellipse cx="468.4" cy="961.4" rx="5.5" ry="2.2" fill="#8a8c88" stroke="#62645f" stroke-width="0.6"/>
<ellipse cx="594.1" cy="959.5" rx="7.8" ry="3.7" fill="#a6a8a3" opacity="0.6"/>
<ellipse cx="593.6" cy="960.0" rx="6.9" ry="2.8" fill="#8a8c88" stroke="#62645f" stroke-width="0.6"/>
<ellipse cx="220.8" cy="987.1" rx="4.8" ry="3.7" fill="#a6a8a3" opacity="0.6"/>
<ellipse cx="220.3" cy="987.6" rx="3.9" ry="2.8" fill="#8a8c88" stroke="#62645f" stroke-width="0.6"/>
<ellipse cx="262.1" cy="987.1" rx="21.6" ry="6.4" fill="#a6a8a3" opacity="0.6" transform="rotate(5 262.1 987.1)"/>
<ellipse cx="261.6" cy="987.6" rx="20.7" ry="5.5" fill="#8a8c88" stroke="#62645f" stroke-width="0.6" transform="rotate(5 261.6 987.6)"/>
<ellipse cx="195.1" cy="995.9" rx="7.8" ry="4.8" fill="#a6a8a3" opacity="0.6"/>
<ellipse cx="194.6" cy="996.4" rx="6.9" ry="3.9" fill="#8a8c88" stroke="#62645f" stroke-width="0.6"/>
<ellipse cx="309.3" cy="987.7" rx="6.4" ry="7.0" fill="#a6a8a3" opacity="0.6"/>
<ellipse cx="308.8" cy="988.2" rx="5.5" ry="6.1" fill="#8a8c88" stroke="#62645f" stroke-width="0.6"/>
<ellipse cx="364.0" cy="984.2" rx="7.0" ry="10.6" fill="#a6a8a3" opacity="0.6" transform="rotate(-20 364.0 984.2)"/>
<ellipse cx="363.5" cy="984.7" rx="6.1" ry="9.7" fill="#8a8c88" stroke="#62645f" stroke-width="0.6" transform="rotate(-20 363.5 984.7)"/>
<ellipse cx="444.1" cy="982.8" rx="3.7" ry="3.7" fill="#a6a8a3" opacity="0.6"/>
<ellipse cx="443.6" cy="983.3" rx="2.8" ry="2.8" fill="#8a8c88" stroke="#62645f" stroke-width="0.6"/>
<ellipse cx="492.8" cy="988.0" rx="3.1" ry="6.4" fill="#a6a8a3" opacity="0.6" transform="rotate(20 492.8 988.0)"/>
<ellipse cx="492.3" cy="988.5" rx="2.2" ry="5.5" fill="#8a8c88" stroke="#62645f" stroke-width="0.6" transform="rotate(20 492.3 988.5)"/>
<ellipse cx="455.8" cy="994.4" rx="3.7" ry="5.3" fill="#a6a8a3" opacity="0.6"/>
<ellipse cx="455.3" cy="994.9" rx="2.8" ry="4.4" fill="#8a8c88" stroke="#62645f" stroke-width="0.6"/>
<ellipse cx="506.1" cy="998.8" rx="6.4" ry="2.3" fill="#a6a8a3" opacity="0.6" transform="rotate(-20 506.1 998.8)"/>
<ellipse cx="505.6" cy="999.3" rx="5.5" ry="1.4" fill="#8a8c88" stroke="#62645f" stroke-width="0.6" transform="rotate(-20 505.6 999.3)"/>
<ellipse cx="437.4" cy="1007.5" rx="3.7" ry="3.7" fill="#a6a8a3" opacity="0.6"/>
<ellipse cx="436.9" cy="1008.0" rx="2.8" ry="2.8" fill="#8a8c88" stroke="#62645f" stroke-width="0.6"/>
<ellipse cx="498.0" cy="1011.0" rx="4.2" ry="3.7" fill="#a6a8a3" opacity="0.6"/>
<ellipse cx="497.5" cy="1011.5" rx="3.3" ry="2.8" fill="#8a8c88" stroke="#62645f" stroke-width="0.6"/>
<ellipse cx="551.9" cy="1011.3" rx="3.1" ry="4.2" fill="#a6a8a3" opacity="0.6"/>
<ellipse cx="551.4" cy="1011.8" rx="2.2" ry="3.3" fill="#8a8c88" stroke="#62645f" stroke-width="0.6"/>
<ellipse cx="458.7" cy="1018.3" rx="5.3" ry="3.7" fill="#a6a8a3" opacity="0.6"/>
<ellipse cx="458.2" cy="1018.8" rx="4.4" ry="2.8" fill="#8a8c88" stroke="#62645f" stroke-width="0.6"/>
<ellipse cx="585.4" cy="1020.6" rx="3.1" ry="10.6" fill="#a6a8a3" opacity="0.6" transform="rotate(-35 585.4 1020.6)"/>
<ellipse cx="584.9" cy="1021.1" rx="2.2" ry="9.7" fill="#8a8c88" stroke="#62645f" stroke-width="0.6" transform="rotate(-35 584.9 1021.1)"/>
<ellipse cx="317.4" cy="1020.6" rx="7.8" ry="10.6" fill="#a6a8a3" opacity="0.6"/>
<ellipse cx="316.9" cy="1021.1" rx="6.9" ry="9.7" fill="#8a8c88" stroke="#62645f" stroke-width="0.6"/>
<ellipse cx="209.1" cy="1026.4" rx="12.0" ry="5.3" fill="#a6a8a3" opacity="0.6" transform="rotate(-15 209.1 1026.4)"/>
<ellipse cx="208.6" cy="1026.9" rx="11.1" ry="4.4" fill="#8a8c88" stroke="#62645f" stroke-width="0.6" transform="rotate(-15 208.6 1026.9)"/>
<ellipse cx="378.0" cy="1029.9" rx="7.8" ry="5.3" fill="#a6a8a3" opacity="0.6"/>
<ellipse cx="377.5" cy="1030.4" rx="6.9" ry="4.4" fill="#8a8c88" stroke="#62645f" stroke-width="0.6"/>
<ellipse cx="560.6" cy="1039.6" rx="5.9" ry="7.8" fill="#a6a8a3" opacity="0.6"/>
<ellipse cx="560.1" cy="1040.1" rx="5.0" ry="6.9" fill="#8a8c88" stroke="#62645f" stroke-width="0.6"/>
<ellipse cx="474.7" cy="1048.3" rx="7.8" ry="10.6" fill="#a6a8a3" opacity="0.6"/>
<ellipse cx="474.2" cy="1048.8" rx="6.9" ry="9.7" fill="#8a8c88" stroke="#62645f" stroke-width="0.6"/>
<ellipse cx="233.0" cy="1062.9" rx="8.6" ry="14.7" fill="#a6a8a3" opacity="0.6" transform="rotate(10 233.0 1062.9)"/>
<ellipse cx="232.5" cy="1063.4" rx="7.7" ry="13.8" fill="#8a8c88" stroke="#62645f" stroke-width="0.6" transform="rotate(10 232.5 1063.4)"/>
<ellipse cx="171.8" cy="1066.6" rx="4.8" ry="7.8" fill="#a6a8a3" opacity="0.6"/>
<ellipse cx="171.3" cy="1067.1" rx="3.9" ry="6.9" fill="#8a8c88" stroke="#62645f" stroke-width="0.6"/>
<ellipse cx="313.1" cy="1073.9" rx="7.0" ry="3.7" fill="#a6a8a3" opacity="0.6"/>
<ellipse cx="312.6" cy="1074.4" rx="6.1" ry="2.8" fill="#8a8c88" stroke="#62645f" stroke-width="0.6"/>
<ellipse cx="535.9" cy="1052.1" rx="3.7" ry="3.7" fill="#a6a8a3" opacity="0.6"/>
<ellipse cx="535.4" cy="1052.6" rx="2.8" ry="2.8" fill="#8a8c88" stroke="#62645f" stroke-width="0.6"/>
<ellipse cx="538.2" cy="1066.6" rx="4.2" ry="3.7" fill="#a6a8a3" opacity="0.6"/>
<ellipse cx="537.7" cy="1067.1" rx="3.3" ry="2.8" fill="#8a8c88" stroke="#62645f" stroke-width="0.6"/>
<ellipse cx="417.0" cy="1075.4" rx="4.8" ry="4.2" fill="#a6a8a3" opacity="0.6"/>
<ellipse cx="416.5" cy="1075.9" rx="3.9" ry="3.3" fill="#8a8c88" stroke="#62645f" stroke-width="0.6"/>
<ellipse cx="383.0" cy="1080.3" rx="7.8" ry="10.6" fill="#a6a8a3" opacity="0.6" transform="rotate(15 383.0 1080.3)"/>
<ellipse cx="382.5" cy="1080.8" rx="6.9" ry="9.7" fill="#8a8c88" stroke="#62645f" stroke-width="0.6" transform="rotate(15 382.5 1080.8)"/>
<ellipse cx="261.5" cy="1091.4" rx="6.4" ry="4.8" fill="#a6a8a3" opacity="0.6"/>
<ellipse cx="261.0" cy="1091.9" rx="5.5" ry="3.9" fill="#8a8c88" stroke="#62645f" stroke-width="0.6"/>
<ellipse cx="299.4" cy="1089.9" rx="6.4" ry="4.2" fill="#a6a8a3" opacity="0.6"/>
<ellipse cx="298.9" cy="1090.4" rx="5.5" ry="3.3" fill="#8a8c88" stroke="#62645f" stroke-width="0.6"/>
<ellipse cx="323.3" cy="1092.6" rx="3.1" ry="9.2" fill="#a6a8a3" opacity="0.6" transform="rotate(15 323.3 1092.6)"/>
<ellipse cx="322.8" cy="1093.1" rx="2.2" ry="8.3" fill="#8a8c88" stroke="#62645f" stroke-width="0.6" transform="rotate(15 322.8 1093.1)"/>
<ellipse cx="362.0" cy="1099.3" rx="4.8" ry="5.9" fill="#a6a8a3" opacity="0.6"/>
<ellipse cx="361.5" cy="1099.8" rx="3.9" ry="5.0" fill="#8a8c88" stroke="#62645f" stroke-width="0.6"/>
<ellipse cx="604.3" cy="1099.3" rx="3.1" ry="5.3" fill="#a6a8a3" opacity="0.6"/>
<ellipse cx="603.8" cy="1099.8" rx="2.2" ry="4.4" fill="#8a8c88" stroke="#62645f" stroke-width="0.6"/>
<ellipse cx="289.8" cy="1119.6" rx="3.7" ry="6.4" fill="#a6a8a3" opacity="0.6"/>
<ellipse cx="289.3" cy="1120.1" rx="2.8" ry="5.5" fill="#8a8c88" stroke="#62645f" stroke-width="0.6"/>
<ellipse cx="415.0" cy="1127.8" rx="7.8" ry="6.4" fill="#a6a8a3" opacity="0.6" transform="rotate(30 415.0 1127.8)"/>
<ellipse cx="414.5" cy="1128.3" rx="6.9" ry="5.5" fill="#8a8c88" stroke="#62645f" stroke-width="0.6" transform="rotate(30 414.5 1128.3)"/>
<ellipse cx="365.5" cy="1131.3" rx="5.9" ry="14.7" fill="#a6a8a3" opacity="0.6" transform="rotate(15 365.5 1131.3)"/>
<ellipse cx="365.0" cy="1131.8" rx="5.0" ry="13.8" fill="#8a8c88" stroke="#62645f" stroke-width="0.6" transform="rotate(15 365.0 1131.8)"/>
<ellipse cx="269.4" cy="1135.7" rx="3.1" ry="3.7" fill="#a6a8a3" opacity="0.6"/>
<ellipse cx="268.9" cy="1136.2" rx="2.2" ry="2.8" fill="#8a8c88" stroke="#62645f" stroke-width="0.6"/>
<ellipse cx="399.6" cy="1145.8" rx="3.7" ry="3.1" fill="#a6a8a3" opacity="0.6"/>
<ellipse cx="399.1" cy="1146.3" rx="2.8" ry="2.2" fill="#8a8c88" stroke="#62645f" stroke-width="0.6"/>
<ellipse cx="222.8" cy="1148.8" rx="5.9" ry="5.3" fill="#a6a8a3" opacity="0.6"/>
<ellipse cx="222.3" cy="1149.3" rx="5.0" ry="4.4" fill="#8a8c88" stroke="#62645f" stroke-width="0.6"/>
<ellipse cx="184.9" cy="1164.8" rx="9.2" ry="7.0" fill="#a6a8a3" opacity="0.6"/>
<ellipse cx="184.4" cy="1165.3" rx="8.3" ry="6.1" fill="#8a8c88" stroke="#62645f" stroke-width="0.6"/>
<ellipse cx="360.5" cy="1159.8" rx="4.8" ry="4.2" fill="#a6a8a3" opacity="0.6"/>
<ellipse cx="360.0" cy="1160.3" rx="3.9" ry="3.3" fill="#8a8c88" stroke="#62645f" stroke-width="0.6"/>
<ellipse cx="295.6" cy="1170.6" rx="4.8" ry="4.8" fill="#a6a8a3" opacity="0.6"/>
<ellipse cx="295.1" cy="1171.1" rx="3.9" ry="3.9" fill="#8a8c88" stroke="#62645f" stroke-width="0.6"/>
<ellipse cx="309.3" cy="1172.1" rx="4.2" ry="4.2" fill="#a6a8a3" opacity="0.6"/>
<ellipse cx="308.8" cy="1172.6" rx="3.3" ry="3.3" fill="#8a8c88" stroke="#62645f" stroke-width="0.6"/>
<ellipse cx="431.0" cy="1174.1" rx="2.6" ry="3.7" fill="#a6a8a3" opacity="0.6"/>
<ellipse cx="430.5" cy="1174.6" rx="1.7" ry="2.8" fill="#8a8c88" stroke="#62645f" stroke-width="0.6"/>
<ellipse cx="520.7" cy="1173.5" rx="9.2" ry="7.8" fill="#a6a8a3" opacity="0.6"/>
<ellipse cx="520.2" cy="1174.0" rx="8.3" ry="6.9" fill="#8a8c88" stroke="#62645f" stroke-width="0.6"/>
<ellipse cx="591.2" cy="1166.2" rx="5.9" ry="4.8" fill="#a6a8a3" opacity="0.6"/>
<ellipse cx="590.7" cy="1166.7" rx="5.0" ry="3.9" fill="#8a8c88" stroke="#62645f" stroke-width="0.6"/>
<ellipse cx="554.8" cy="1183.1" rx="3.1" ry="6.4" fill="#a6a8a3" opacity="0.6"/>
<ellipse cx="554.3" cy="1183.6" rx="2.2" ry="5.5" fill="#8a8c88" stroke="#62645f" stroke-width="0.6"/>
<ellipse cx="237.4" cy="1185.2" rx="2.6" ry="5.3" fill="#a6a8a3" opacity="0.6"/>
<ellipse cx="236.9" cy="1185.7" rx="1.7" ry="4.4" fill="#8a8c88" stroke="#62645f" stroke-width="0.6"/>
<ellipse cx="592.6" cy="1191.9" rx="4.2" ry="4.2" fill="#a6a8a3" opacity="0.6"/>
<ellipse cx="592.1" cy="1192.4" rx="3.3" ry="3.3" fill="#8a8c88" stroke="#62645f" stroke-width="0.6"/>
<ellipse cx="380.1" cy="1196.8" rx="4.8" ry="8.6" fill="#a6a8a3" opacity="0.6"/>
<ellipse cx="379.6" cy="1197.3" rx="3.9" ry="7.7" fill="#8a8c88" stroke="#62645f" stroke-width="0.6"/>
<ellipse cx="177.7" cy="1202.6" rx="10.6" ry="5.9" fill="#a6a8a3" opacity="0.6" transform="rotate(-35 177.7 1202.6)"/>
<ellipse cx="177.2" cy="1203.1" rx="9.7" ry="5.0" fill="#8a8c88" stroke="#62645f" stroke-width="0.6" transform="rotate(-35 177.2 1203.1)"/>
<ellipse cx="332.6" cy="1206.4" rx="5.3" ry="3.7" fill="#a6a8a3" opacity="0.6"/>
<ellipse cx="332.1" cy="1206.9" rx="4.4" ry="2.8" fill="#8a8c88" stroke="#62645f" stroke-width="0.6"/>
<ellipse cx="465.4" cy="1205.5" rx="2.6" ry="3.7" fill="#a6a8a3" opacity="0.6"/>
<ellipse cx="464.9" cy="1206.0" rx="1.7" ry="2.8" fill="#8a8c88" stroke="#62645f" stroke-width="0.6"/>
<ellipse cx="244.6" cy="1212.2" rx="4.2" ry="3.7" fill="#a6a8a3" opacity="0.6"/>
<ellipse cx="244.1" cy="1212.7" rx="3.3" ry="2.8" fill="#8a8c88" stroke="#62645f" stroke-width="0.6"/>
<ellipse cx="566.4" cy="1215.7" rx="11.4" ry="9.2" fill="#a6a8a3" opacity="0.6"/>
<ellipse cx="565.9" cy="1216.2" rx="10.5" ry="8.3" fill="#8a8c88" stroke="#62645f" stroke-width="0.6"/>
<ellipse cx="601.4" cy="1212.8" rx="3.7" ry="6.4" fill="#a6a8a3" opacity="0.6"/>
<ellipse cx="600.9" cy="1213.3" rx="2.8" ry="5.5" fill="#8a8c88" stroke="#62645f" stroke-width="0.6"/>
<ellipse cx="490.7" cy="1237.6" rx="3.7" ry="4.8" fill="#a6a8a3" opacity="0.6"/>
<ellipse cx="490.2" cy="1238.1" rx="2.8" ry="3.9" fill="#8a8c88" stroke="#62645f" stroke-width="0.6"/>
<ellipse cx="361.1" cy="1239.0" rx="4.8" ry="4.8" fill="#a6a8a3" opacity="0.6"/>
<ellipse cx="360.6" cy="1239.5" rx="3.9" ry="3.9" fill="#8a8c88" stroke="#62645f" stroke-width="0.6"/>
<ellipse cx="404.2" cy="1243.4" rx="3.7" ry="2.6" fill="#a6a8a3" opacity="0.6"/>
<ellipse cx="403.7" cy="1243.9" rx="2.8" ry="1.7" fill="#8a8c88" stroke="#62645f" stroke-width="0.6"/>
<ellipse cx="203.9" cy="1239.0" rx="3.7" ry="4.8" fill="#a6a8a3" opacity="0.6"/>
<ellipse cx="203.4" cy="1239.5" rx="2.8" ry="3.9" fill="#8a8c88" stroke="#62645f" stroke-width="0.6"/>
<ellipse cx="267.9" cy="1230.3" rx="3.1" ry="2.0" fill="#a6a8a3" opacity="0.6"/>
<ellipse cx="267.4" cy="1230.8" rx="2.2" ry="1.1" fill="#8a8c88" stroke="#62645f" stroke-width="0.6"/>
</g>
<circle cx="322.2" cy="948.9" r="1.0" fill="#50524e" opacity="0.8"/>
<circle cx="518.3" cy="972.2" r="3.5" fill="#a6a8a3" opacity="0.8"/>
<circle cx="517.9" cy="972.5" r="2.3" fill="#686a66"/>
<circle cx="566.3" cy="975.1" r="2.9" fill="#a6a8a3" opacity="0.8"/>
<circle cx="565.9" cy="975.4" r="1.7" fill="#686a66"/>
<circle cx="412.2" cy="972.5" r="0.8" fill="#50524e" opacity="0.8"/>
<circle cx="387.7" cy="978.0" r="1.2" fill="#50524e" opacity="0.8"/>
<circle cx="398.9" cy="999.0" r="2.9" fill="#a6a8a3" opacity="0.8"/>
<circle cx="398.5" cy="999.3" r="1.7" fill="#686a66"/>
<circle cx="408.5" cy="995.5" r="2.9" fill="#a6a8a3" opacity="0.8"/>
<circle cx="408.1" cy="995.8" r="1.7" fill="#686a66"/>
<circle cx="565.7" cy="990.2" r="2.4" fill="#a6a8a3" opacity="0.8"/>
<circle cx="565.3" cy="990.5" r="1.2" fill="#686a66"/>
<circle cx="277.5" cy="1009.2" r="4.0" fill="#a6a8a3" opacity="0.8"/>
<circle cx="277.1" cy="1009.5" r="2.8" fill="#686a66"/>
<circle cx="403.3" cy="1038.3" r="2.9" fill="#a6a8a3" opacity="0.8"/>
<circle cx="402.9" cy="1038.6" r="1.7" fill="#686a66"/>
<circle cx="272.7" cy="1058.4" r="0.8" fill="#50524e" opacity="0.8"/>
<circle cx="200.9" cy="1074.1" r="3.5" fill="#a6a8a3" opacity="0.8"/>
<circle cx="200.5" cy="1074.4" r="2.3" fill="#686a66"/>
<circle cx="466.7" cy="1087.8" r="3.5" fill="#a6a8a3" opacity="0.8"/>
<circle cx="466.3" cy="1088.1" r="2.3" fill="#686a66"/>
<circle cx="251.8" cy="1110.5" r="2.9" fill="#a6a8a3" opacity="0.8"/>
<circle cx="251.4" cy="1110.8" r="1.7" fill="#686a66"/>
<circle cx="390.1" cy="1113.4" r="2.9" fill="#a6a8a3" opacity="0.8"/>
<circle cx="389.7" cy="1113.7" r="1.7" fill="#686a66"/>
<circle cx="271.2" cy="1121.0" r="0.8" fill="#50524e" opacity="0.8"/>
<circle cx="276.2" cy="1121.0" r="0.8" fill="#50524e" opacity="0.8"/>
<circle cx="222.9" cy="1129.5" r="0.8" fill="#50524e" opacity="0.8"/>
<circle cx="579.4" cy="1123.3" r="3.5" fill="#a6a8a3" opacity="0.8"/>
<circle cx="579.0" cy="1123.6" r="2.3" fill="#686a66"/>
<circle cx="578.8" cy="1140.2" r="3.5" fill="#a6a8a3" opacity="0.8"/>
<circle cx="578.4" cy="1140.5" r="2.3" fill="#686a66"/>
<circle cx="462.9" cy="1148.1" r="3.5" fill="#a6a8a3" opacity="0.8"/>
<circle cx="462.5" cy="1148.4" r="2.3" fill="#686a66"/>
<circle cx="241.2" cy="1163.2" r="1.0" fill="#50524e" opacity="0.8"/>
<circle cx="350.8" cy="1188.3" r="4.0" fill="#a6a8a3" opacity="0.8"/>
<circle cx="350.4" cy="1188.6" r="2.8" fill="#686a66"/>
<circle cx="403.3" cy="1206.3" r="2.9" fill="#a6a8a3" opacity="0.8"/>
<circle cx="402.9" cy="1206.6" r="1.7" fill="#686a66"/>
<circle cx="527.6" cy="1218.8" r="2.4" fill="#a6a8a3" opacity="0.8"/>
<circle cx="527.2" cy="1219.1" r="1.2" fill="#686a66"/>
<circle cx="360.6" cy="1213.3" r="0.8" fill="#50524e" opacity="0.8"/>
<line x1="607.1" y1="1083.2" x2="607.1" y2="1245.1" stroke="rgb(125,225,100)" stroke-width="1.0" opacity="0.7"/>
<line x1="188.0" y1="1229.3" x2="288.0" y2="1229.3" stroke="#d8c86a" stroke-width="1.0" />
<line x1="188.0" y1="1226.3" x2="188.0" y2="1229.3" stroke="#d8c86a" stroke-width="1.0" />
<line x1="288.0" y1="1226.3" x2="288.0" y2="1229.3" stroke="#d8c86a" stroke-width="1.0" />
<line x1="238.0" y1="1227.3" x2="238.0" y2="1229.3" stroke="#d8c86a" stroke-width="1.0" />
<text x="188.0" y="1224.8" font-size="4.5" text-anchor="start" fill="#d8c86a" >0</text>
<text x="238.0" y="1224.8" font-size="4.5" text-anchor="middle" fill="#d8c86a" >µm</text>
<text x="288.0" y="1224.8" font-size="4.5" text-anchor="middle" fill="#d8c86a" >400</text>
<text x="189.0" y="1237.8" font-size="5" text-anchor="start" fill="#d0c060" font-style="italic">1.75 x 1.29 mm, 2.27 mm²</text>
<rect x="556.1" y="1235.9" width="48.6" height="8.8" fill="#000" />
<text x="580.2" y="1242.8" font-size="7.2" text-anchor="middle" fill="#e8e8e8" font-weight="bold" textLength="35.5" lengthAdjust="spacingAndGlyphs" >0d 12h 0m</text>
</g>
<clipPath id="clip11"><rect x="634.0" y="921.3" width="439.0" height="323.8"/></clipPath>
<g clip-path="url(#clip11)">
<rect x="634.0" y="921.3" width="439.0" height="323.8" fill="#828282" />
<circle cx="672.7" cy="1031.1" r="41" fill="url(#blob)" opacity="0.17"/>
<circle cx="797.9" cy="1022.3" r="41" fill="url(#blob)" opacity="0.22"/>
<circle cx="923.1" cy="1022.3" r="41" fill="url(#blob)" opacity="0.27"/>
<circle cx="1036.7" cy="1019.3" r="41" fill="url(#blob)" opacity="0.33"/>
<circle cx="675.6" cy="1153.3" r="41" fill="url(#blob)" opacity="0.15"/>
<circle cx="800.8" cy="1153.3" r="41" fill="url(#blob)" opacity="0.18"/>
<circle cx="929.0" cy="1148.3" r="41" fill="url(#blob)" opacity="0.28"/>
<circle cx="1042.5" cy="1138.8" r="41" fill="url(#blob)" opacity="0.14"/>
<circle cx="674.0" cy="936.3" r="50" fill="url(#blob)" opacity="0.05"/>
<circle cx="862.0" cy="1019.3" r="50" fill="url(#blob)" opacity="0.04"/>
<circle cx="1062.0" cy="1081.3" r="50" fill="url(#blob)" opacity="0.04"/>
<circle cx="984.0" cy="1116.3" r="50" fill="url(#blob)" opacity="0.03"/>
<circle cx="806.0" cy="1089.3" r="50" fill="url(#blob)" opacity="0.03"/>
<circle cx="679.0" cy="1091.3" r="50" fill="url(#blob)" opacity="0.03"/>
<circle cx="834.0" cy="1213.3" r="50" fill="url(#blob)" opacity="0.04"/>
<circle cx="924.0" cy="1213.3" r="50" fill="url(#blob)" opacity="0.03"/>
<circle cx="996.0" cy="966.3" r="50" fill="url(#blob)" opacity="0.04"/>
<circle cx="906.0" cy="956.3" r="50" fill="url(#blob)" opacity="0.03"/>
<circle cx="744.0" cy="1211.3" r="50" fill="url(#blob)" opacity="0.02"/>
<rect x="634.0" y="921.3" width="439.0" height="323.8" filter="url(#grain)" opacity="0.2"/>
<g filter="url(#rough)">
<ellipse cx="777.9" cy="929.8" rx="13.3" ry="5.9" fill="#a6a8a3" opacity="0.6" transform="rotate(-30 777.9 929.8)"/>
<ellipse cx="777.4" cy="930.3" rx="12.4" ry="5.0" fill="#8a8c88" stroke="#62645f" stroke-width="0.6" transform="rotate(-30 777.4 930.3)"/>
<ellipse cx="686.2" cy="939.1" rx="4.8" ry="6.4" fill="#a6a8a3" opacity="0.6" transform="rotate(20 686.2 939.1)"/>
<ellipse cx="685.7" cy="939.6" rx="3.9" ry="5.5" fill="#8a8c88" stroke="#62645f" stroke-width="0.6" transform="rotate(20 685.7 939.6)"/>
<ellipse cx="731.3" cy="944.9" rx="9.2" ry="9.2" fill="#a6a8a3" opacity="0.6"/>
<ellipse cx="730.8" cy="945.4" rx="8.3" ry="8.3" fill="#8a8c88" stroke="#62645f" stroke-width="0.6"/>
<ellipse cx="789.6" cy="960.9" rx="13.3" ry="12.0" fill="#a6a8a3" opacity="0.6"/>
<ellipse cx="789.1" cy="961.4" rx="12.4" ry="11.1" fill="#8a8c88" stroke="#62645f" stroke-width="0.6"/>
<ellipse cx="847.8" cy="949.3" rx="4.2" ry="4.8" fill="#a6a8a3" opacity="0.6"/>
<ellipse cx="847.3" cy="949.8" rx="3.3" ry="3.9" fill="#8a8c88" stroke="#62645f" stroke-width="0.6"/>
<ellipse cx="850.1" cy="960.9" rx="5.3" ry="6.4" fill="#a6a8a3" opacity="0.6"/>
<ellipse cx="849.6" cy="961.4" rx="4.4" ry="5.5" fill="#8a8c88" stroke="#62645f" stroke-width="0.6"/>
<ellipse cx="861.8" cy="958.0" rx="4.8" ry="5.9" fill="#a6a8a3" opacity="0.6"/>
<ellipse cx="861.3" cy="958.5" rx="3.9" ry="5.0" fill="#8a8c88" stroke="#62645f" stroke-width="0.6"/>
<ellipse cx="907.5" cy="958.0" rx="4.8" ry="4.8" fill="#a6a8a3" opacity="0.6"/>
<ellipse cx="907.0" cy="958.5" rx="3.9" ry="3.9" fill="#8a8c88" stroke="#62645f" stroke-width="0.6"/>
<ellipse cx="925.0" cy="937.6" rx="8.6" ry="9.2" fill="#a6a8a3" opacity="0.6"/>
<ellipse cx="924.5" cy="938.1" rx="7.7" ry="8.3" fill="#8a8c88" stroke="#62645f" stroke-width="0.6"/>
<ellipse cx="996.3" cy="926.0" rx="8.6" ry="7.0" fill="#a6a8a3" opacity="0.6"/>
<ellipse cx="995.8" cy="926.5" rx="7.7" ry="6.1" fill="#8a8c88" stroke="#62645f" stroke-width="0.6"/>
<ellipse cx="1032.7" cy="931.8" rx="4.8" ry="4.8" fill="#a6a8a3" opacity="0.6"/>
<ellipse cx="1032.2" cy="932.3" rx="3.9" ry="3.9" fill="#8a8c88" stroke="#62645f" stroke-width="0.6"/>
<ellipse cx="1005.1" cy="955.1" rx="11.4" ry="7.0" fill="#a6a8a3" opacity="0.6" transform="rotate(-20 1005.1 955.1)"/>
<ellipse cx="1004.6" cy="955.6" rx="10.5" ry="6.1" fill="#8a8c88" stroke="#62645f" stroke-width="0.6" transform="rotate(-20 1004.6 955.6)"/>
<ellipse cx="1031.3" cy="964.7" rx="5.9" ry="4.2" fill="#a6a8a3" opacity="0.6"/>
<ellipse cx="1030.8" cy="965.2" rx="5.0" ry="3.3" fill="#8a8c88" stroke="#62645f" stroke-width="0.6"/>
<ellipse cx="955.6" cy="977.8" rx="5.9" ry="4.2" fill="#a6a8a3" opacity="0.6"/>
<ellipse cx="955.1" cy="978.3" rx="5.0" ry="3.3" fill="#8a8c88" stroke="#62645f" stroke-width="0.6"/>
<ellipse cx="692.9" cy="964.7" rx="4.2" ry="3.7" fill="#a6a8a3" opacity="0.6"/>
<ellipse cx="692.4" cy="965.2" rx="3.3" ry="2.8" fill="#8a8c88" stroke="#62645f" stroke-width="0.6"/>
<ellipse cx="672.5" cy="971.7" rx="4.8" ry="3.7" fill="#a6a8a3" opacity="0.6"/>
<ellipse cx="672.0" cy="972.2" rx="3.9" ry="2.8" fill="#8a8c88" stroke="#62645f" stroke-width="0.6"/>
<ellipse cx="704.5" cy="975.5" rx="3.1" ry="6.4" fill="#a6a8a3" opacity="0.6"/>
<ellipse cx="704.0" cy="976.0" rx="2.2" ry="5.5" fill="#8a8c88" stroke="#62645f" stroke-width="0.6"/>
<ellipse cx="652.1" cy="985.1" rx="5.3" ry="6.4" fill="#a6a8a3" opacity="0.6" transform="rotate(30 652.1 985.1)"/>
<ellipse cx="651.6" cy="985.6" rx="4.4" ry="5.5" fill="#8a8c88" stroke="#62645f" stroke-width="0.6" transform="rotate(30 651.6 985.6)"/>
<ellipse cx="729.0" cy="986.6" rx="4.2" ry="7.0" fill="#a6a8a3" opacity="0.6"/>
<ellipse cx="728.5" cy="987.1" rx="3.3" ry="6.1" fill="#8a8c88" stroke="#62645f" stroke-width="0.6"/>
<ellipse cx="680.4" cy="993.0" rx="4.2" ry="10.6" fill="#a6a8a3" opacity="0.6"/>
<ellipse cx="679.9" cy="993.5" rx="3.3" ry="9.7" fill="#8a8c88" stroke="#62645f" stroke-width="0.6"/>
<ellipse cx="670.2" cy="1014.2" rx="9.2" ry="7.8" fill="#a6a8a3" opacity="0.6"/>
<ellipse cx="669.7" cy="1014.7" rx="8.3" ry="6.9" fill="#8a8c88" stroke="#62645f" stroke-width="0.6"/>
<ellipse cx="706.6" cy="1009.6" rx="4.8" ry="5.3" fill="#a6a8a3" opacity="0.6"/>
<ellipse cx="706.1" cy="1010.1" rx="3.9" ry="4.4" fill="#8a8c88" stroke="#62645f" stroke-width="0.6"/>
<ellipse cx="776.5" cy="1013.3" rx="4.8" ry="4.2" fill="#a6a8a3" opacity="0.6"/>
<ellipse cx="776.0" cy="1013.8" rx="3.9" ry="3.3" fill="#8a8c88" stroke="#62645f" stroke-width="0.6"/>
<ellipse cx="847.8" cy="1009.0" rx="5.3" ry="10.6" fill="#a6a8a3" opacity="0.6" transform="rotate(-15 847.8 1009.0)"/>
<ellipse cx="847.3" cy="1009.5" rx="4.4" ry="9.7" fill="#8a8c88" stroke="#62645f" stroke-width="0.6" transform="rotate(-15 847.3 1009.5)"/>
<ellipse cx="733.7" cy="1025.9" rx="4.2" ry="4.2" fill="#a6a8a3" opacity="0.6"/>
<ellipse cx="733.2" cy="1026.4" rx="3.3" ry="3.3" fill="#8a8c88" stroke="#62645f" stroke-width="0.6"/>
<ellipse cx="673.1" cy="1041.0" rx="5.3" ry="4.8" fill="#a6a8a3" opacity="0.6"/>
<ellipse cx="672.6" cy="1041.5" rx="4.4" ry="3.9" fill="#8a8c88" stroke="#62645f" stroke-width="0.6"/>
<ellipse cx="722.6" cy="1041.0" rx="5.9" ry="5.9" fill="#a6a8a3" opacity="0.6"/>
<ellipse cx="722.1" cy="1041.5" rx="5.0" ry="5.0" fill="#8a8c88" stroke="#62645f" stroke-width="0.6"/>
<ellipse cx="863.8" cy="1038.1" rx="4.8" ry="4.8" fill="#a6a8a3" opacity="0.6"/>
<ellipse cx="863.3" cy="1038.6" rx="3.9" ry="3.9" fill="#8a8c88" stroke="#62645f" stroke-width="0.6"/>
<ellipse cx="913.3" cy="1033.7" rx="5.3" ry="7.0" fill="#a6a8a3" opacity="0.6" transform="rotate(-20 913.3 1033.7)"/>
<ellipse cx="912.8" cy="1034.2" rx="4.4" ry="6.1" fill="#8a8c88" stroke="#62645f" stroke-width="0.6" transform="rotate(-20 912.8 1034.2)"/>
<ellipse cx="946.8" cy="1039.6" rx="6.4" ry="8.6" fill="#a6a8a3" opacity="0.6"/>
<ellipse cx="946.3" cy="1040.1" rx="5.5" ry="7.7" fill="#8a8c88" stroke="#62645f" stroke-width="0.6"/>
<ellipse cx="964.3" cy="1023.5" rx="7.8" ry="5.9" fill="#a6a8a3" opacity="0.6"/>
<ellipse cx="963.8" cy="1024.0" rx="6.9" ry="5.0" fill="#8a8c88" stroke="#62645f" stroke-width="0.6"/>
<ellipse cx="974.5" cy="1009.6" rx="4.2" ry="7.0" fill="#a6a8a3" opacity="0.6" transform="rotate(20 974.5 1009.6)"/>
<ellipse cx="974.0" cy="1010.1" rx="3.3" ry="6.1" fill="#8a8c88" stroke="#62645f" stroke-width="0.6" transform="rotate(20 974.0 1010.1)"/>
<ellipse cx="990.5" cy="1051.2" rx="4.2" ry="4.8" fill="#a6a8a3" opacity="0.6"/>
<ellipse cx="990.0" cy="1051.7" rx="3.3" ry="3.9" fill="#8a8c88" stroke="#62645f" stroke-width="0.6"/>
<ellipse cx="1064.8" cy="1009.0" rx="8.1" ry="11.4" fill="#a6a8a3" opacity="0.6"/>
<ellipse cx="1064.3" cy="1009.5" rx="7.2" ry="10.5" fill="#8a8c88" stroke="#62645f" stroke-width="0.6"/>
<ellipse cx="1065.6" cy="1036.6" rx="8.6" ry="14.2" fill="#a6a8a3" opacity="0.6"/>
<ellipse cx="1065.1" cy="1037.1" rx="7.7" ry="13.3" fill="#8a8c88" stroke="#62645f" stroke-width="0.6"/>
<ellipse cx="1058.1" cy="1056.2" rx="10.3" ry="7.5" fill="#a6a8a3" opacity="0.6"/>
<ellipse cx="1057.6" cy="1056.7" rx="9.4" ry="6.6" fill="#8a8c88" stroke="#62645f" stroke-width="0.6"/>
<ellipse cx="1023.1" cy="1066.3" rx="6.4" ry="4.2" fill="#a6a8a3" opacity="0.6"/>
<ellipse cx="1022.6" cy="1066.8" rx="5.5" ry="3.3" fill="#8a8c88" stroke="#62645f" stroke-width="0.6"/>
<ellipse cx="824.5" cy="1052.7" rx="7.0" ry="5.9" fill="#a6a8a3" opacity="0.6" transform="rotate(30 824.5 1052.7)"/>
<ellipse cx="824.0" cy="1053.2" rx="6.1" ry="5.0" fill="#8a8c88" stroke="#62645f" stroke-width="0.6" transform="rotate(30 824.0 1053.2)"/>
<ellipse cx="856.5" cy="1064.9" rx="5.3" ry="4.8" fill="#a6a8a3" opacity="0.6"/>
<ellipse cx="856.0" cy="1065.4" rx="4.4" ry="3.9" fill="#8a8c88" stroke="#62645f" stroke-width="0.6"/>
<ellipse cx="909.0" cy="1068.7" rx="8.6" ry="9.2" fill="#a6a8a3" opacity="0.6"/>
<ellipse cx="908.5" cy="1069.2" rx="7.7" ry="8.3" fill="#8a8c88" stroke="#62645f" stroke-width="0.6"/>
<ellipse cx="962.3" cy="1076.8" rx="5.9" ry="5.9" fill="#a6a8a3" opacity="0.6"/>
<ellipse cx="961.8" cy="1077.3" rx="5.0" ry="5.0" fill="#8a8c88" stroke="#62645f" stroke-width="0.6"/>
<ellipse cx="734.8" cy="1070.7" rx="7.0" ry="5.9" fill="#a6a8a3" opacity="0.6"/>
<ellipse cx="734.3" cy="1071.2" rx="6.1" ry="5.0" fill="#8a8c88" stroke="#62645f" stroke-width="0.6"/>
<ellipse cx="687.1" cy="1070.1" rx="4.8" ry="4.8" fill="#a6a8a3" opacity="0.6"/>
<ellipse cx="686.6" cy="1070.6" rx="3.9" ry="3.9" fill="#8a8c88" stroke="#62645f" stroke-width="0.6"/>
<ellipse cx="793.9" cy="1076.5" rx="6.4" ry="8.1" fill="#a6a8a3" opacity="0.6"/>
<ellipse cx="793.4" cy="1077.0" rx="5.5" ry="7.2" fill="#8a8c88" stroke="#62645f" stroke-width="0.6"/>
<ellipse cx="856.5" cy="1085.3" rx="4.8" ry="6.4" fill="#a6a8a3" opacity="0.6"/>
<ellipse cx="856.0" cy="1085.8" rx="3.9" ry="5.5" fill="#8a8c88" stroke="#62645f" stroke-width="0.6"/>
<ellipse cx="773.6" cy="1091.4" rx="4.8" ry="3.7" fill="#a6a8a3" opacity="0.6"/>
<ellipse cx="773.1" cy="1091.9" rx="3.9" ry="2.8" fill="#8a8c88" stroke="#62645f" stroke-width="0.6"/>
<ellipse cx="978.3" cy="1096.9" rx="4.8" ry="4.2" fill="#a6a8a3" opacity="0.6"/>
<ellipse cx="977.8" cy="1097.4" rx="3.9" ry="3.3" fill="#8a8c88" stroke="#62645f" stroke-width="0.6"/>
<ellipse cx="1008.0" cy="1091.4" rx="3.7" ry="3.7" fill="#a6a8a3" opacity="0.6"/>
<ellipse cx="1007.5" cy="1091.9" rx="2.8" ry="2.8" fill="#8a8c88" stroke="#62645f" stroke-width="0.6"/>
<ellipse cx="1047.3" cy="1099.8" rx="4.2" ry="4.8" fill="#a6a8a3" opacity="0.6"/>
<ellipse cx="1046.8" cy="1100.3" rx="3.3" ry="3.9" fill="#8a8c88" stroke="#62645f" stroke-width="0.6"/>
<ellipse cx="1069.1" cy="1084.7" rx="5.9" ry="3.1" fill="#a6a8a3" opacity="0.6"/>
<ellipse cx="1068.6" cy="1085.2" rx="5.0" ry="2.2" fill="#8a8c88" stroke="#62645f" stroke-width="0.6"/>
<ellipse cx="635.2" cy="1102.2" rx="4.2" ry="6.4" fill="#a6a8a3" opacity="0.6"/>
<ellipse cx="634.7" cy="1102.7" rx="3.3" ry="5.5" fill="#8a8c88" stroke="#62645f" stroke-width="0.6"/>
<ellipse cx="810.5" cy="1108.0" rx="7.8" ry="5.3" fill="#a6a8a3" opacity="0.6" transform="rotate(20 810.5 1108.0)"/>
<ellipse cx="810.0" cy="1108.5" rx="6.9" ry="4.4" fill="#8a8c88" stroke="#62645f" stroke-width="0.6" transform="rotate(20 810.0 1108.5)"/>
<ellipse cx="727.0" cy="1115.6" rx="5.3" ry="4.8" fill="#a6a8a3" opacity="0.6"/>
<ellipse cx="726.5" cy="1116.1" rx="4.4" ry="3.9" fill="#8a8c88" stroke="#62645f" stroke-width="0.6"/>
<ellipse cx="854.2" cy="1118.2" rx="5.3" ry="7.0" fill="#a6a8a3" opacity="0.6" transform="rotate(30 854.2 1118.2)"/>
<ellipse cx="853.7" cy="1118.7" rx="4.4" ry="6.1" fill="#8a8c88" stroke="#62645f" stroke-width="0.6" transform="rotate(30 853.7 1118.7)"/>
<ellipse cx="895.0" cy="1122.5" rx="4.8" ry="4.8" fill="#a6a8a3" opacity="0.6"/>
<ellipse cx="894.5" cy="1123.0" rx="3.9" ry="3.9" fill="#8a8c88" stroke="#62645f" stroke-width="0.6"/>
<ellipse cx="923.5" cy="1108.6" rx="12.0" ry="7.0" fill="#a6a8a3" opacity="0.6" transform="rotate(15 923.5 1108.6)"/>
<ellipse cx="923.0" cy="1109.1" rx="11.1" ry="6.1" fill="#8a8c88" stroke="#62645f" stroke-width="0.6" transform="rotate(15 923.0 1109.1)"/>
<ellipse cx="951.2" cy="1105.9" rx="4.2" ry="4.2" fill="#a6a8a3" opacity="0.6"/>
<ellipse cx="950.7" cy="1106.4" rx="3.3" ry="3.3" fill="#8a8c88" stroke="#62645f" stroke-width="0.6"/>
<ellipse cx="999.2" cy="1109.4" rx="5.9" ry="5.9" fill="#a6a8a3" opacity="0.6"/>
<ellipse cx="998.7" cy="1109.9" rx="5.0" ry="5.0" fill="#8a8c88" stroke="#62645f" stroke-width="0.6"/>
<ellipse cx="1038.5" cy="1116.7" rx="3.7" ry="7.0" fill="#a6a8a3" opacity="0.6"/>
<ellipse cx="1038.0" cy="1117.2" rx="2.8" ry="6.1" fill="#8a8c88" stroke="#62645f" stroke-width="0.6"/>
<ellipse cx="958.5" cy="1122.5" rx="14.7" ry="12.0" fill="#a6a8a3" opacity="0.6" transform="rotate(-30 958.5 1122.5)"/>
<ellipse cx="958.0" cy="1123.0" rx="13.8" ry="11.1" fill="#8a8c88" stroke="#62645f" stroke-width="0.6" transform="rotate(-30 958.0 1123.0)"/>
<ellipse cx="689.1" cy="1124.9" rx="7.8" ry="9.2" fill="#a6a8a3" opacity="0.6" transform="rotate(30 689.1 1124.9)"/>
<ellipse cx="688.6" cy="1125.4" rx="6.9" ry="8.3" fill="#8a8c88" stroke="#62645f" stroke-width="0.6" transform="rotate(30 688.6 1125.4)"/>
<ellipse cx="751.7" cy="1133.6" rx="5.9" ry="8.6" fill="#a6a8a3" opacity="0.6" transform="rotate(20 751.7 1133.6)"/>
<ellipse cx="751.2" cy="1134.1" rx="5.0" ry="7.7" fill="#8a8c88" stroke="#62645f" stroke-width="0.6" transform="rotate(20 751.2 1134.1)"/>
<ellipse cx="705.1" cy="1141.5" rx="6.4" ry="7.8" fill="#a6a8a3" opacity="0.6"/>
<ellipse cx="704.6" cy="1142.0" rx="5.5" ry="6.9" fill="#8a8c88" stroke="#62645f" stroke-width="0.6"/>
<ellipse cx="920.6" cy="1145.8" rx="4.8" ry="4.8" fill="#a6a8a3" opacity="0.6"/>
<ellipse cx="920.1" cy="1146.3" rx="3.9" ry="3.9" fill="#8a8c88" stroke="#62645f" stroke-width="0.6"/>
<ellipse cx="1059.5" cy="1141.5" rx="2.6" ry="7.8" fill="#a6a8a3" opacity="0.6"/>
<ellipse cx="1059.0" cy="1142.0" rx="1.7" ry="6.9" fill="#8a8c88" stroke="#62645f" stroke-width="0.6"/>
<ellipse cx="637.6" cy="1147.3" rx="3.7" ry="3.7" fill="#a6a8a3" opacity="0.6"/>
<ellipse cx="637.1" cy="1147.8" rx="2.8" ry="2.8" fill="#8a8c88" stroke="#62645f" stroke-width="0.6"/>
<ellipse cx="809.4" cy="1159.8" rx="4.2" ry="4.2" fill="#a6a8a3" opacity="0.6"/>
<ellipse cx="808.9" cy="1160.3" rx="3.3" ry="3.3" fill="#8a8c88" stroke="#62645f" stroke-width="0.6"/>
<ellipse cx="648.3" cy="1163.3" rx="7.8" ry="3.7" fill="#a6a8a3" opacity="0.6" transform="rotate(30 648.3 1163.3)"/>
<ellipse cx="647.8" cy="1163.8" rx="6.9" ry="2.8" fill="#8a8c88" stroke="#62645f" stroke-width="0.6" transform="rotate(30 647.8 1163.8)"/>
<ellipse cx="683.3" cy="1183.1" rx="13.3" ry="5.9" fill="#a6a8a3" opacity="0.6" transform="rotate(10 683.3 1183.1)"/>
<ellipse cx="682.8" cy="1183.6" rx="12.4" ry="5.0" fill="#8a8c88" stroke="#62645f" stroke-width="0.6" transform="rotate(10 682.8 1183.6)"/>
<ellipse cx="775.0" cy="1188.9" rx="4.2" ry="4.2" fill="#a6a8a3" opacity="0.6"/>
<ellipse cx="774.5" cy="1189.4" rx="3.3" ry="3.3" fill="#8a8c88" stroke="#62645f" stroke-width="0.6"/>
<ellipse cx="828.9" cy="1194.8" rx="5.9" ry="5.9" fill="#a6a8a3" opacity="0.6"/>
<ellipse cx="828.4" cy="1195.3" rx="5.0" ry="5.0" fill="#8a8c88" stroke="#62645f" stroke-width="0.6"/>
<ellipse cx="855.1" cy="1189.5" rx="12.5" ry="11.4" fill="#a6a8a3" opacity="0.6"/>
<ellipse cx="854.6" cy="1190.0" rx="11.6" ry="10.5" fill="#8a8c88" stroke="#62645f" stroke-width="0.6"/>
<ellipse cx="860.9" cy="1208.5" rx="7.8" ry="9.2" fill="#a6a8a3" opacity="0.6"/>
<ellipse cx="860.4" cy="1209.0" rx="6.9" ry="8.3" fill="#8a8c88" stroke="#62645f" stroke-width="0.6"/>
<ellipse cx="888.6" cy="1183.7" rx="4.8" ry="3.7" fill="#a6a8a3" opacity="0.6"/>
<ellipse cx="888.1" cy="1184.2" rx="3.9" ry="2.8" fill="#8a8c88" stroke="#62645f" stroke-width="0.6"/>
<ellipse cx="903.1" cy="1193.0" rx="7.5" ry="7.5" fill="#a6a8a3" opacity="0.6"/>
<ellipse cx="902.6" cy="1193.5" rx="6.6" ry="6.6" fill="#8a8c88" stroke="#62645f" stroke-width="0.6"/>
<ellipse cx="941.6" cy="1178.7" rx="7.0" ry="6.4" fill="#a6a8a3" opacity="0.6"/>
<ellipse cx="941.1" cy="1179.2" rx="6.1" ry="5.5" fill="#8a8c88" stroke="#62645f" stroke-width="0.6"/>
<ellipse cx="974.5" cy="1186.6" rx="7.8" ry="7.8" fill="#a6a8a3" opacity="0.6"/>
<ellipse cx="974.0" cy="1187.1" rx="6.9" ry="6.9" fill="#8a8c88" stroke="#62645f" stroke-width="0.6"/>
<ellipse cx="971.6" cy="1203.5" rx="4.2" ry="4.8" fill="#a6a8a3" opacity="0.6"/>
<ellipse cx="971.1" cy="1204.0" rx="3.3" ry="3.9" fill="#8a8c88" stroke="#62645f" stroke-width="0.6"/>
<ellipse cx="1002.7" cy="1197.7" rx="5.9" ry="5.3" fill="#a6a8a3" opacity="0.6"/>
<ellipse cx="1002.2" cy="1198.2" rx="5.0" ry="4.4" fill="#8a8c88" stroke="#62645f" stroke-width="0.6"/>
<ellipse cx="1050.2" cy="1190.1" rx="4.2" ry="4.8" fill="#a6a8a3" opacity="0.6"/>
<ellipse cx="1049.7" cy="1190.6" rx="3.3" ry="3.9" fill="#8a8c88" stroke="#62645f" stroke-width="0.6"/>
<ellipse cx="729.9" cy="1204.1" rx="4.2" ry="5.3" fill="#a6a8a3" opacity="0.6"/>
<ellipse cx="729.4" cy="1204.6" rx="3.3" ry="4.4" fill="#8a8c88" stroke="#62645f" stroke-width="0.6"/>
<ellipse cx="777.9" cy="1221.6" rx="12.5" ry="6.4" fill="#a6a8a3" opacity="0.6" transform="rotate(-10 777.9 1221.6)"/>
<ellipse cx="777.4" cy="1222.1" rx="11.6" ry="5.5" fill="#8a8c88" stroke="#62645f" stroke-width="0.6" transform="rotate(-10 777.4 1222.1)"/>
<ellipse cx="644.5" cy="1221.0" rx="7.0" ry="4.8" fill="#a6a8a3" opacity="0.6" transform="rotate(30 644.5 1221.0)"/>
<ellipse cx="644.0" cy="1221.5" rx="6.1" ry="3.9" fill="#8a8c88" stroke="#62645f" stroke-width="0.6" transform="rotate(30 644.0 1221.5)"/>
<ellipse cx="806.5" cy="1231.7" rx="4.8" ry="4.2" fill="#a6a8a3" opacity="0.6"/>
<ellipse cx="806.0" cy="1232.2" rx="3.9" ry="3.3" fill="#8a8c88" stroke="#62645f" stroke-width="0.6"/>
<ellipse cx="705.1" cy="1236.1" rx="7.0" ry="7.8" fill="#a6a8a3" opacity="0.6"/>
<ellipse cx="704.6" cy="1236.6" rx="6.1" ry="6.9" fill="#8a8c88" stroke="#62645f" stroke-width="0.6"/>
<ellipse cx="910.4" cy="1228.0" rx="3.7" ry="4.2" fill="#a6a8a3" opacity="0.6"/>
<ellipse cx="909.9" cy="1228.5" rx="2.8" ry="3.3" fill="#8a8c88" stroke="#62645f" stroke-width="0.6"/>
<ellipse cx="982.3" cy="1221.6" rx="4.8" ry="4.8" fill="#a6a8a3" opacity="0.6"/>
<ellipse cx="981.8" cy="1222.1" rx="3.9" ry="3.9" fill="#8a8c88" stroke="#62645f" stroke-width="0.6"/>
<ellipse cx="996.9" cy="1220.1" rx="4.2" ry="4.2" fill="#a6a8a3" opacity="0.6"/>
<ellipse cx="996.4" cy="1220.6" rx="3.3" ry="3.3" fill="#8a8c88" stroke="#62645f" stroke-width="0.6"/>
<ellipse cx="1013.8" cy="1237.6" rx="7.0" ry="5.9" fill="#a6a8a3" opacity="0.6"/>
<ellipse cx="1013.3" cy="1238.1" rx="6.1" ry="5.0" fill="#8a8c88" stroke="#62645f" stroke-width="0.6"/>
<ellipse cx="911.9" cy="922.2" rx="4.2" ry="3.1" fill="#a6a8a3" opacity="0.6"/>
<ellipse cx="911.4" cy="922.7" rx="3.3" ry="2.2" fill="#8a8c88" stroke="#62645f" stroke-width="0.6"/>
</g>
<g filter="url(#roughtex2)">
<ellipse cx="777.4" cy="930.3" rx="12.1" ry="4.7" fill="#4fe92a" opacity="1.00" transform="rotate(-30 777.4 930.3)"/>
<ellipse cx="685.7" cy="939.6" rx="3.6" ry="5.2" fill="#4fe92a" opacity="1.00" transform="rotate(20 685.7 939.6)"/>
<ellipse cx="730.8" cy="945.4" rx="8.0" ry="8.0" fill="#4fe92a" opacity="1.00"/>
<ellipse cx="789.1" cy="961.4" rx="12.1" ry="10.8" fill="#4fe92a" opacity="1.00"/>
<ellipse cx="847.3" cy="949.8" rx="3.0" ry="3.6" fill="#4fe92a" opacity="1.00"/>
<ellipse cx="849.6" cy="961.4" rx="4.1" ry="5.2" fill="#4fe92a" opacity="1.00"/>
<ellipse cx="861.3" cy="958.5" rx="3.6" ry="4.7" fill="#4fe92a" opacity="1.00"/>
<ellipse cx="907.0" cy="958.5" rx="3.6" ry="3.6" fill="#4fe92a" opacity="0.45"/>
<ellipse cx="924.5" cy="938.1" rx="7.4" ry="8.0" fill="#4fe92a" opacity="1.00"/>
<ellipse cx="995.8" cy="926.5" rx="7.4" ry="5.8" fill="#4fe92a" opacity="1.00"/>
<ellipse cx="1032.2" cy="932.3" rx="3.6" ry="3.6" fill="#4fe92a" opacity="1.00"/>
<ellipse cx="1004.6" cy="955.6" rx="10.2" ry="5.8" fill="#4fe92a" opacity="1.00" transform="rotate(-20 1004.6 955.6)"/>
<ellipse cx="1030.8" cy="965.2" rx="4.7" ry="3.0" fill="#4fe92a" opacity="1.00"/>
<ellipse cx="955.1" cy="978.3" rx="4.7" ry="3.0" fill="#4fe92a" opacity="1.00"/>
<ellipse cx="692.4" cy="965.2" rx="3.0" ry="2.5" fill="#4fe92a" opacity="0.45"/>
<ellipse cx="672.0" cy="972.2" rx="3.6" ry="2.5" fill="#4fe92a" opacity="1.00"/>
<ellipse cx="704.0" cy="976.0" rx="1.9" ry="5.2" fill="#4fe92a" opacity="1.00"/>
<ellipse cx="651.6" cy="985.6" rx="4.1" ry="5.2" fill="#4fe92a" opacity="1.00" transform="rotate(30 651.6 985.6)"/>
<ellipse cx="728.5" cy="987.1" rx="3.0" ry="5.8" fill="#4fe92a" opacity="1.00"/>
<ellipse cx="679.9" cy="993.5" rx="3.0" ry="9.4" fill="#4fe92a" opacity="1.00"/>
<ellipse cx="669.7" cy="1014.7" rx="8.0" ry="6.6" fill="#4fe92a" opacity="1.00"/>
<ellipse cx="706.1" cy="1010.1" rx="3.6" ry="4.1" fill="#4fe92a" opacity="1.00"/>
<ellipse cx="776.0" cy="1013.8" rx="3.6" ry="3.0" fill="#4fe92a" opacity="1.00"/>
<ellipse cx="847.3" cy="1009.5" rx="4.1" ry="9.4" fill="#4fe92a" opacity="1.00" transform="rotate(-15 847.3 1009.5)"/>
<ellipse cx="733.2" cy="1026.4" rx="3.0" ry="3.0" fill="#4fe92a" opacity="1.00"/>
<ellipse cx="672.6" cy="1041.5" rx="4.1" ry="3.6" fill="#4fe92a" opacity="1.00"/>
<ellipse cx="722.1" cy="1041.5" rx="4.7" ry="4.7" fill="#4fe92a" opacity="1.00"/>
<ellipse cx="863.3" cy="1038.6" rx="3.6" ry="3.6" fill="#4fe92a" opacity="1.00"/>
<ellipse cx="912.8" cy="1034.2" rx="4.1" ry="5.8" fill="#4fe92a" opacity="1.00" transform="rotate(-20 912.8 1034.2)"/>
<ellipse cx="946.3" cy="1040.1" rx="5.2" ry="7.4" fill="#4fe92a" opacity="1.00"/>
<ellipse cx="963.8" cy="1024.0" rx="6.6" ry="4.7" fill="#4fe92a" opacity="1.00"/>
<ellipse cx="974.0" cy="1010.1" rx="3.0" ry="5.8" fill="#4fe92a" opacity="1.00" transform="rotate(20 974.0 1010.1)"/>
<ellipse cx="990.0" cy="1051.7" rx="3.0" ry="3.6" fill="#4fe92a" opacity="1.00"/>
<ellipse cx="1064.3" cy="1009.5" rx="6.9" ry="10.2" fill="#4fe92a" opacity="1.00"/>
<ellipse cx="1065.1" cy="1037.1" rx="7.4" ry="13.0" fill="#4fe92a" opacity="1.00"/>
<ellipse cx="1057.6" cy="1056.7" rx="9.1" ry="6.3" fill="#4fe92a" opacity="1.00"/>
<ellipse cx="1022.6" cy="1066.8" rx="5.2" ry="3.0" fill="#4fe92a" opacity="1.00"/>
<ellipse cx="824.0" cy="1053.2" rx="5.8" ry="4.7" fill="#4fe92a" opacity="1.00" transform="rotate(30 824.0 1053.2)"/>
<ellipse cx="856.0" cy="1065.4" rx="4.1" ry="3.6" fill="#4fe92a" opacity="1.00"/>
<ellipse cx="908.5" cy="1069.2" rx="7.4" ry="8.0" fill="#4fe92a" opacity="1.00"/>
<ellipse cx="961.8" cy="1077.3" rx="4.7" ry="4.7" fill="#4fe92a" opacity="1.00"/>
<ellipse cx="734.3" cy="1071.2" rx="5.8" ry="4.7" fill="#4fe92a" opacity="1.00"/>
<ellipse cx="686.6" cy="1070.6" rx="3.6" ry="3.6" fill="#4fe92a" opacity="0.45"/>
<ellipse cx="793.4" cy="1077.0" rx="5.2" ry="6.9" fill="#4fe92a" opacity="1.00"/>
<ellipse cx="856.0" cy="1085.8" rx="3.6" ry="5.2" fill="#4fe92a" opacity="1.00"/>
<ellipse cx="773.1" cy="1091.9" rx="3.6" ry="2.5" fill="#4fe92a" opacity="1.00"/>
<ellipse cx="977.8" cy="1097.4" rx="3.6" ry="3.0" fill="#4fe92a" opacity="1.00"/>
<ellipse cx="1007.5" cy="1091.9" rx="2.5" ry="2.5" fill="#4fe92a" opacity="1.00"/>
<ellipse cx="1046.8" cy="1100.3" rx="3.0" ry="3.6" fill="#4fe92a" opacity="1.00"/>
<ellipse cx="1068.6" cy="1085.2" rx="4.7" ry="1.9" fill="#4fe92a" opacity="1.00"/>
<ellipse cx="634.7" cy="1102.7" rx="3.0" ry="5.2" fill="#4fe92a" opacity="1.00"/>
<ellipse cx="810.0" cy="1108.5" rx="6.6" ry="4.1" fill="#4fe92a" opacity="1.00" transform="rotate(20 810.0 1108.5)"/>
<ellipse cx="726.5" cy="1116.1" rx="4.1" ry="3.6" fill="#4fe92a" opacity="1.00"/>
<ellipse cx="853.7" cy="1118.7" rx="4.1" ry="5.8" fill="#4fe92a" opacity="1.00" transform="rotate(30 853.7 1118.7)"/>
<ellipse cx="894.5" cy="1123.0" rx="3.6" ry="3.6" fill="#4fe92a" opacity="1.00"/>
<ellipse cx="923.0" cy="1109.1" rx="10.8" ry="5.8" fill="#4fe92a" opacity="1.00" transform="rotate(15 923.0 1109.1)"/>
<ellipse cx="950.7" cy="1106.4" rx="3.0" ry="3.0" fill="#4fe92a" opacity="0.45"/>
<ellipse cx="998.7" cy="1109.9" rx="4.7" ry="4.7" fill="#4fe92a" opacity="1.00"/>
<ellipse cx="1038.0" cy="1117.2" rx="2.5" ry="5.8" fill="#4fe92a" opacity="1.00"/>
<ellipse cx="958.0" cy="1123.0" rx="13.5" ry="10.8" fill="#4fe92a" opacity="1.00" transform="rotate(-30 958.0 1123.0)"/>
<ellipse cx="688.6" cy="1125.4" rx="6.6" ry="8.0" fill="#4fe92a" opacity="1.00" transform="rotate(30 688.6 1125.4)"/>
<ellipse cx="751.2" cy="1134.1" rx="4.7" ry="7.4" fill="#4fe92a" opacity="1.00" transform="rotate(20 751.2 1134.1)"/>
<ellipse cx="704.6" cy="1142.0" rx="5.2" ry="6.6" fill="#4fe92a" opacity="1.00"/>
<ellipse cx="920.1" cy="1146.3" rx="3.6" ry="3.6" fill="#4fe92a" opacity="1.00"/>
<ellipse cx="1059.0" cy="1142.0" rx="1.4" ry="6.6" fill="#4fe92a" opacity="1.00"/>
<ellipse cx="637.1" cy="1147.8" rx="2.5" ry="2.5" fill="#4fe92a" opacity="1.00"/>
<ellipse cx="808.9" cy="1160.3" rx="3.0" ry="3.0" fill="#4fe92a" opacity="1.00"/>
<ellipse cx="647.8" cy="1163.8" rx="6.6" ry="2.5" fill="#4fe92a" opacity="0.45" transform="rotate(30 647.8 1163.8)"/>
<ellipse cx="682.8" cy="1183.6" rx="12.1" ry="4.7" fill="#4fe92a" opacity="1.00" transform="rotate(10 682.8 1183.6)"/>
<ellipse cx="774.5" cy="1189.4" rx="3.0" ry="3.0" fill="#4fe92a" opacity="0.45"/>
<ellipse cx="828.4" cy="1195.3" rx="4.7" ry="4.7" fill="#4fe92a" opacity="1.00"/>
<ellipse cx="854.6" cy="1190.0" rx="11.3" ry="10.2" fill="#4fe92a" opacity="1.00"/>
<ellipse cx="860.4" cy="1209.0" rx="6.6" ry="8.0" fill="#4fe92a" opacity="1.00"/>
<ellipse cx="888.1" cy="1184.2" rx="3.6" ry="2.5" fill="#4fe92a" opacity="1.00"/>
<ellipse cx="902.6" cy="1193.5" rx="6.3" ry="6.3" fill="#4fe92a" opacity="1.00"/>
<ellipse cx="941.1" cy="1179.2" rx="5.8" ry="5.2" fill="#4fe92a" opacity="1.00"/>
<ellipse cx="974.0" cy="1187.1" rx="6.6" ry="6.6" fill="#4fe92a" opacity="1.00"/>
<ellipse cx="971.1" cy="1204.0" rx="3.0" ry="3.6" fill="#4fe92a" opacity="1.00"/>
<ellipse cx="1002.2" cy="1198.2" rx="4.7" ry="4.1" fill="#4fe92a" opacity="1.00"/>
<ellipse cx="1049.7" cy="1190.6" rx="3.0" ry="3.6" fill="#4fe92a" opacity="0.45"/>
<ellipse cx="729.4" cy="1204.6" rx="3.0" ry="4.1" fill="#4fe92a" opacity="1.00"/>
<ellipse cx="777.4" cy="1222.1" rx="11.3" ry="5.2" fill="#4fe92a" opacity="1.00" transform="rotate(-10 777.4 1222.1)"/>
<ellipse cx="644.0" cy="1221.5" rx="5.8" ry="3.6" fill="#4fe92a" opacity="1.00" transform="rotate(30 644.0 1221.5)"/>
<ellipse cx="806.0" cy="1232.2" rx="3.6" ry="3.0" fill="#4fe92a" opacity="1.00"/>
<ellipse cx="704.6" cy="1236.6" rx="5.8" ry="6.6" fill="#4fe92a" opacity="1.00"/>
<ellipse cx="909.9" cy="1228.5" rx="2.5" ry="3.0" fill="#4fe92a" opacity="1.00"/>
<ellipse cx="981.8" cy="1222.1" rx="3.6" ry="3.6" fill="#4fe92a" opacity="1.00"/>
<ellipse cx="996.4" cy="1220.6" rx="3.0" ry="3.0" fill="#4fe92a" opacity="1.00"/>
<ellipse cx="1013.3" cy="1238.1" rx="5.8" ry="4.7" fill="#4fe92a" opacity="1.00"/>
<ellipse cx="911.4" cy="922.7" rx="3.0" ry="1.9" fill="#4fe92a" opacity="1.00"/>
</g>
<line x1="654.5" y1="1229.3" x2="754.5" y2="1229.3" stroke="#d8c86a" stroke-width="1.0" />
<line x1="654.5" y1="1226.3" x2="654.5" y2="1229.3" stroke="#d8c86a" stroke-width="1.0" />
<line x1="754.5" y1="1226.3" x2="754.5" y2="1229.3" stroke="#d8c86a" stroke-width="1.0" />
<line x1="704.5" y1="1227.3" x2="704.5" y2="1229.3" stroke="#d8c86a" stroke-width="1.0" />
<text x="654.5" y="1224.8" font-size="4.5" text-anchor="start" fill="#d8c86a" >0</text>
<text x="704.5" y="1224.8" font-size="4.5" text-anchor="middle" fill="#d8c86a" >µm</text>
<text x="754.5" y="1224.8" font-size="4.5" text-anchor="middle" fill="#d8c86a" >400</text>
<text x="655.5" y="1237.8" font-size="5" text-anchor="start" fill="#d0c060" font-style="italic">1.75 x 1.29 mm, 2.27 mm²</text>
<rect x="1021.5" y="1235.9" width="48.6" height="8.8" fill="#000" />
<text x="1045.6" y="1242.8" font-size="7.2" text-anchor="middle" fill="#e8e8e8" font-weight="bold" textLength="35.5" lengthAdjust="spacingAndGlyphs" >0d 12h 0m</text>
</g>
<clipPath id="clip21"><rect x="1098.6" y="921.3" width="439.3" height="323.8"/></clipPath>
<g clip-path="url(#clip21)">
<rect x="1098.6" y="921.3" width="439.3" height="323.8" fill="#828282" />
<circle cx="1137.3" cy="1031.1" r="41" fill="url(#blob)" opacity="0.17"/>
<circle cx="1262.5" cy="1022.3" r="41" fill="url(#blob)" opacity="0.22"/>
<circle cx="1387.7" cy="1022.3" r="41" fill="url(#blob)" opacity="0.27"/>
<circle cx="1501.3" cy="1019.3" r="41" fill="url(#blob)" opacity="0.33"/>
<circle cx="1140.2" cy="1153.3" r="41" fill="url(#blob)" opacity="0.15"/>
<circle cx="1265.4" cy="1153.3" r="41" fill="url(#blob)" opacity="0.18"/>
<circle cx="1393.6" cy="1148.3" r="41" fill="url(#blob)" opacity="0.28"/>
<circle cx="1507.1" cy="1138.8" r="41" fill="url(#blob)" opacity="0.14"/>
<circle cx="1138.6" cy="936.3" r="50" fill="url(#blob)" opacity="0.05"/>
<circle cx="1326.6" cy="1019.3" r="50" fill="url(#blob)" opacity="0.04"/>
<circle cx="1526.6" cy="1081.3" r="50" fill="url(#blob)" opacity="0.04"/>
<circle cx="1448.6" cy="1116.3" r="50" fill="url(#blob)" opacity="0.03"/>
<circle cx="1270.6" cy="1089.3" r="50" fill="url(#blob)" opacity="0.03"/>
<circle cx="1143.6" cy="1091.3" r="50" fill="url(#blob)" opacity="0.03"/>
<circle cx="1298.6" cy="1213.3" r="50" fill="url(#blob)" opacity="0.04"/>
<circle cx="1388.6" cy="1213.3" r="50" fill="url(#blob)" opacity="0.03"/>
<circle cx="1460.6" cy="966.3" r="50" fill="url(#blob)" opacity="0.04"/>
<circle cx="1370.6" cy="956.3" r="50" fill="url(#blob)" opacity="0.03"/>
<circle cx="1208.6" cy="1211.3" r="50" fill="url(#blob)" opacity="0.02"/>
<rect x="1098.6" y="921.3" width="439.3" height="323.8" filter="url(#grain)" opacity="0.2"/>
<g filter="url(#rough)">
<ellipse cx="1138.7" cy="925.1" rx="12.0" ry="4.8" fill="#a6a8a3" opacity="0.6"/>
<ellipse cx="1138.2" cy="925.6" rx="11.1" ry="3.9" fill="#8a8c88" stroke="#62645f" stroke-width="0.6"/>
<ellipse cx="1192.6" cy="932.7" rx="3.1" ry="3.1" fill="#a6a8a3" opacity="0.6"/>
<ellipse cx="1192.1" cy="933.2" rx="2.2" ry="2.2" fill="#8a8c88" stroke="#62645f" stroke-width="0.6"/>
<ellipse cx="1278.5" cy="931.8" rx="3.7" ry="4.8" fill="#a6a8a3" opacity="0.6"/>
<ellipse cx="1278.0" cy="932.3" rx="2.8" ry="3.9" fill="#8a8c88" stroke="#62645f" stroke-width="0.6"/>
<ellipse cx="1506.5" cy="924.5" rx="3.7" ry="3.7" fill="#a6a8a3" opacity="0.6"/>
<ellipse cx="1506.0" cy="925.0" rx="2.8" ry="2.8" fill="#8a8c88" stroke="#62645f" stroke-width="0.6"/>
<ellipse cx="1520.2" cy="928.9" rx="3.7" ry="4.8" fill="#a6a8a3" opacity="0.6"/>
<ellipse cx="1519.7" cy="929.4" rx="2.8" ry="3.9" fill="#8a8c88" stroke="#62645f" stroke-width="0.6"/>
<ellipse cx="1128.5" cy="944.0" rx="4.8" ry="3.7" fill="#a6a8a3" opacity="0.6"/>
<ellipse cx="1128.0" cy="944.5" rx="3.9" ry="2.8" fill="#8a8c88" stroke="#62645f" stroke-width="0.6"/>
<ellipse cx="1400.8" cy="948.4" rx="3.7" ry="4.8" fill="#a6a8a3" opacity="0.6"/>
<ellipse cx="1400.3" cy="948.9" rx="2.8" ry="3.9" fill="#8a8c88" stroke="#62645f" stroke-width="0.6"/>
<ellipse cx="1300.3" cy="952.8" rx="5.3" ry="5.3" fill="#a6a8a3" opacity="0.6"/>
<ellipse cx="1299.8" cy="953.3" rx="4.4" ry="4.4" fill="#8a8c88" stroke="#62645f" stroke-width="0.6"/>
<ellipse cx="1252.3" cy="963.3" rx="4.2" ry="3.7" fill="#a6a8a3" opacity="0.6"/>
<ellipse cx="1251.8" cy="963.8" rx="3.3" ry="2.8" fill="#8a8c88" stroke="#62645f" stroke-width="0.6"/>
<ellipse cx="1214.4" cy="962.4" rx="7.0" ry="10.6" fill="#a6a8a3" opacity="0.6" transform="rotate(-30 1214.4 962.4)"/>
<ellipse cx="1213.9" cy="962.9" rx="6.1" ry="9.7" fill="#8a8c88" stroke="#62645f" stroke-width="0.6" transform="rotate(-30 1213.9 962.9)"/>
<ellipse cx="1286.6" cy="973.2" rx="3.7" ry="4.8" fill="#a6a8a3" opacity="0.6"/>
<ellipse cx="1286.1" cy="973.7" rx="2.8" ry="3.9" fill="#8a8c88" stroke="#62645f" stroke-width="0.6"/>
<ellipse cx="1439.5" cy="961.8" rx="3.7" ry="4.2" fill="#a6a8a3" opacity="0.6"/>
<ellipse cx="1439.0" cy="962.3" rx="2.8" ry="3.3" fill="#8a8c88" stroke="#62645f" stroke-width="0.6"/>
<ellipse cx="1518.7" cy="956.6" rx="9.2" ry="9.2" fill="#a6a8a3" opacity="0.6" transform="rotate(-20 1518.7 956.6)"/>
<ellipse cx="1518.2" cy="957.1" rx="8.3" ry="8.3" fill="#8a8c88" stroke="#62645f" stroke-width="0.6" transform="rotate(-20 1518.2 957.1)"/>
<ellipse cx="1461.9" cy="967.6" rx="3.1" ry="3.1" fill="#a6a8a3" opacity="0.6"/>
<ellipse cx="1461.4" cy="968.1" rx="2.2" ry="2.2" fill="#8a8c88" stroke="#62645f" stroke-width="0.6"/>
<ellipse cx="1143.9" cy="973.4" rx="7.8" ry="5.3" fill="#a6a8a3" opacity="0.6"/>
<ellipse cx="1143.4" cy="973.9" rx="6.9" ry="4.4" fill="#8a8c88" stroke="#62645f" stroke-width="0.6"/>
<ellipse cx="1367.3" cy="980.4" rx="6.4" ry="9.8" fill="#a6a8a3" opacity="0.6"/>
<ellipse cx="1366.8" cy="980.9" rx="5.5" ry="8.9" fill="#8a8c88" stroke="#62645f" stroke-width="0.6"/>
<ellipse cx="1336.1" cy="992.1" rx="3.7" ry="5.3" fill="#a6a8a3" opacity="0.6"/>
<ellipse cx="1335.6" cy="992.6" rx="2.8" ry="4.4" fill="#8a8c88" stroke="#62645f" stroke-width="0.6"/>
<ellipse cx="1435.7" cy="988.6" rx="12.5" ry="9.2" fill="#a6a8a3" opacity="0.6"/>
<ellipse cx="1435.2" cy="989.1" rx="11.6" ry="8.3" fill="#8a8c88" stroke="#62645f" stroke-width="0.6"/>
<ellipse cx="1434.3" cy="1004.6" rx="5.9" ry="7.0" fill="#a6a8a3" opacity="0.6"/>
<ellipse cx="1433.8" cy="1005.1" rx="5.0" ry="6.1" fill="#8a8c88" stroke="#62645f" stroke-width="0.6"/>
<ellipse cx="1518.1" cy="995.9" rx="4.2" ry="4.2" fill="#a6a8a3" opacity="0.6"/>
<ellipse cx="1517.6" cy="996.4" rx="3.3" ry="3.3" fill="#8a8c88" stroke="#62645f" stroke-width="0.6"/>
<ellipse cx="1194.6" cy="1001.1" rx="4.8" ry="3.7" fill="#a6a8a3" opacity="0.6"/>
<ellipse cx="1194.1" cy="1001.6" rx="3.9" ry="2.8" fill="#8a8c88" stroke="#62645f" stroke-width="0.6"/>
<ellipse cx="1103.8" cy="1009.9" rx="3.7" ry="4.8" fill="#a6a8a3" opacity="0.6"/>
<ellipse cx="1103.3" cy="1010.4" rx="2.8" ry="3.9" fill="#8a8c88" stroke="#62645f" stroke-width="0.6"/>
<ellipse cx="1408.1" cy="1016.3" rx="17.5" ry="9.2" fill="#a6a8a3" opacity="0.6" transform="rotate(25 1408.1 1016.3)"/>
<ellipse cx="1407.6" cy="1016.8" rx="16.6" ry="8.3" fill="#8a8c88" stroke="#62645f" stroke-width="0.6" transform="rotate(25 1407.6 1016.8)"/>
<ellipse cx="1223.2" cy="1026.4" rx="8.6" ry="6.4" fill="#a6a8a3" opacity="0.6" transform="rotate(-20 1223.2 1026.4)"/>
<ellipse cx="1222.7" cy="1026.9" rx="7.7" ry="5.5" fill="#8a8c88" stroke="#62645f" stroke-width="0.6" transform="rotate(-20 1222.7 1026.9)"/>
<ellipse cx="1294.5" cy="1032.3" rx="11.4" ry="12.5" fill="#a6a8a3" opacity="0.6"/>
<ellipse cx="1294.0" cy="1032.8" rx="10.5" ry="11.6" fill="#8a8c88" stroke="#62645f" stroke-width="0.6"/>
<ellipse cx="1320.7" cy="1027.9" rx="5.9" ry="3.1" fill="#a6a8a3" opacity="0.6"/>
<ellipse cx="1320.2" cy="1028.4" rx="5.0" ry="2.2" fill="#8a8c88" stroke="#62645f" stroke-width="0.6"/>
<ellipse cx="1437.2" cy="1040.4" rx="4.2" ry="4.8" fill="#a6a8a3" opacity="0.6"/>
<ellipse cx="1436.7" cy="1040.9" rx="3.3" ry="3.9" fill="#8a8c88" stroke="#62645f" stroke-width="0.6"/>
<ellipse cx="1208.0" cy="1049.2" rx="4.2" ry="5.3" fill="#a6a8a3" opacity="0.6"/>
<ellipse cx="1207.5" cy="1049.7" rx="3.3" ry="4.4" fill="#8a8c88" stroke="#62645f" stroke-width="0.6"/>
<ellipse cx="1146.0" cy="1050.3" rx="3.7" ry="3.1" fill="#a6a8a3" opacity="0.6"/>
<ellipse cx="1145.5" cy="1050.8" rx="2.8" ry="2.2" fill="#8a8c88" stroke="#62645f" stroke-width="0.6"/>
<ellipse cx="1194.0" cy="1060.5" rx="4.8" ry="6.4" fill="#a6a8a3" opacity="0.6"/>
<ellipse cx="1193.5" cy="1061.0" rx="3.9" ry="5.5" fill="#8a8c88" stroke="#62645f" stroke-width="0.6"/>
<ellipse cx="1337.6" cy="1053.2" rx="7.0" ry="12.0" fill="#a6a8a3" opacity="0.6" transform="rotate(-10 1337.6 1053.2)"/>
<ellipse cx="1337.1" cy="1053.7" rx="6.1" ry="11.1" fill="#8a8c88" stroke="#62645f" stroke-width="0.6" transform="rotate(-10 1337.1 1053.7)"/>
<ellipse cx="1371.1" cy="1057.0" rx="5.9" ry="9.8" fill="#a6a8a3" opacity="0.6" transform="rotate(-20 1371.1 1057.0)"/>
<ellipse cx="1370.6" cy="1057.5" rx="5.0" ry="8.9" fill="#8a8c88" stroke="#62645f" stroke-width="0.6" transform="rotate(-20 1370.6 1057.5)"/>
<ellipse cx="1309.1" cy="1066.3" rx="4.8" ry="3.1" fill="#a6a8a3" opacity="0.6"/>
<ellipse cx="1308.6" cy="1066.8" rx="3.9" ry="2.2" fill="#8a8c88" stroke="#62645f" stroke-width="0.6"/>
<ellipse cx="1448.0" cy="1060.5" rx="3.7" ry="5.3" fill="#a6a8a3" opacity="0.6"/>
<ellipse cx="1447.5" cy="1061.0" rx="2.8" ry="4.4" fill="#8a8c88" stroke="#62645f" stroke-width="0.6"/>
<ellipse cx="1444.5" cy="1068.7" rx="3.1" ry="4.2" fill="#a6a8a3" opacity="0.6"/>
<ellipse cx="1444.0" cy="1069.2" rx="2.2" ry="3.3" fill="#8a8c88" stroke="#62645f" stroke-width="0.6"/>
<ellipse cx="1510.0" cy="1069.3" rx="7.0" ry="3.7" fill="#a6a8a3" opacity="0.6"/>
<ellipse cx="1509.5" cy="1069.8" rx="6.1" ry="2.8" fill="#8a8c88" stroke="#62645f" stroke-width="0.6"/>
<ellipse cx="1376.0" cy="1084.7" rx="7.8" ry="13.3" fill="#a6a8a3" opacity="0.6" transform="rotate(-35 1376.0 1084.7)"/>
<ellipse cx="1375.5" cy="1085.2" rx="6.9" ry="12.4" fill="#8a8c88" stroke="#62645f" stroke-width="0.6" transform="rotate(-35 1375.5 1085.2)"/>
<ellipse cx="1419.7" cy="1088.5" rx="4.8" ry="6.4" fill="#a6a8a3" opacity="0.6"/>
<ellipse cx="1419.2" cy="1089.0" rx="3.9" ry="5.5" fill="#8a8c88" stroke="#62645f" stroke-width="0.6"/>
<ellipse cx="1441.6" cy="1087.0" rx="9.2" ry="5.3" fill="#a6a8a3" opacity="0.6"/>
<ellipse cx="1441.1" cy="1087.5" rx="8.3" ry="4.4" fill="#8a8c88" stroke="#62645f" stroke-width="0.6"/>
<ellipse cx="1480.0" cy="1085.3" rx="5.9" ry="3.7" fill="#a6a8a3" opacity="0.6"/>
<ellipse cx="1479.5" cy="1085.8" rx="5.0" ry="2.8" fill="#8a8c88" stroke="#62645f" stroke-width="0.6"/>
<ellipse cx="1265.4" cy="1093.4" rx="7.8" ry="9.2" fill="#a6a8a3" opacity="0.6"/>
<ellipse cx="1264.9" cy="1093.9" rx="6.9" ry="8.3" fill="#8a8c88" stroke="#62645f" stroke-width="0.6"/>
<ellipse cx="1301.8" cy="1092.6" rx="3.1" ry="3.7" fill="#a6a8a3" opacity="0.6"/>
<ellipse cx="1301.3" cy="1093.1" rx="2.2" ry="2.8" fill="#8a8c88" stroke="#62645f" stroke-width="0.6"/>
<ellipse cx="1167.8" cy="1096.3" rx="10.6" ry="12.0" fill="#a6a8a3" opacity="0.6"/>
<ellipse cx="1167.3" cy="1096.8" rx="9.7" ry="11.1" fill="#8a8c88" stroke="#62645f" stroke-width="0.6"/>
<ellipse cx="1281.4" cy="1109.4" rx="4.2" ry="5.3" fill="#a6a8a3" opacity="0.6"/>
<ellipse cx="1280.9" cy="1109.9" rx="3.3" ry="4.4" fill="#8a8c88" stroke="#62645f" stroke-width="0.6"/>
<ellipse cx="1223.2" cy="1114.7" rx="4.2" ry="4.8" fill="#a6a8a3" opacity="0.6"/>
<ellipse cx="1222.7" cy="1115.2" rx="3.3" ry="3.9" fill="#8a8c88" stroke="#62645f" stroke-width="0.6"/>
<ellipse cx="1106.7" cy="1116.7" rx="4.8" ry="7.8" fill="#a6a8a3" opacity="0.6"/>
<ellipse cx="1106.2" cy="1117.2" rx="3.9" ry="6.9" fill="#8a8c88" stroke="#62645f" stroke-width="0.6"/>
<ellipse cx="1472.1" cy="1115.8" rx="7.0" ry="5.9" fill="#a6a8a3" opacity="0.6"/>
<ellipse cx="1471.6" cy="1116.3" rx="6.1" ry="5.0" fill="#8a8c88" stroke="#62645f" stroke-width="0.6"/>
<ellipse cx="1499.8" cy="1113.8" rx="8.6" ry="8.6" fill="#a6a8a3" opacity="0.6"/>
<ellipse cx="1499.3" cy="1114.3" rx="7.7" ry="7.7" fill="#8a8c88" stroke="#62645f" stroke-width="0.6"/>
<ellipse cx="1532.4" cy="1120.5" rx="5.3" ry="2.6" fill="#a6a8a3" opacity="0.6"/>
<ellipse cx="1531.9" cy="1121.0" rx="4.4" ry="1.7" fill="#8a8c88" stroke="#62645f" stroke-width="0.6"/>
<ellipse cx="1146.0" cy="1126.9" rx="16.1" ry="8.6" fill="#a6a8a3" opacity="0.6" transform="rotate(20 1146.0 1126.9)"/>
<ellipse cx="1145.5" cy="1127.4" rx="15.2" ry="7.7" fill="#8a8c88" stroke="#62645f" stroke-width="0.6" transform="rotate(20 1145.5 1127.4)"/>
<ellipse cx="1188.2" cy="1130.7" rx="7.0" ry="4.2" fill="#a6a8a3" opacity="0.6"/>
<ellipse cx="1187.7" cy="1131.2" rx="6.1" ry="3.3" fill="#8a8c88" stroke="#62645f" stroke-width="0.6"/>
<ellipse cx="1331.5" cy="1138.6" rx="8.6" ry="9.8" fill="#a6a8a3" opacity="0.6"/>
<ellipse cx="1331.0" cy="1139.1" rx="7.7" ry="8.9" fill="#8a8c88" stroke="#62645f" stroke-width="0.6"/>
<ellipse cx="1387.7" cy="1134.2" rx="3.7" ry="4.8" fill="#a6a8a3" opacity="0.6"/>
<ellipse cx="1387.2" cy="1134.7" rx="2.8" ry="3.9" fill="#8a8c88" stroke="#62645f" stroke-width="0.6"/>
<ellipse cx="1278.5" cy="1137.7" rx="4.8" ry="4.8" fill="#a6a8a3" opacity="0.6"/>
<ellipse cx="1278.0" cy="1138.2" rx="3.9" ry="3.9" fill="#8a8c88" stroke="#62645f" stroke-width="0.6"/>
<ellipse cx="1252.9" cy="1145.3" rx="5.3" ry="4.8" fill="#a6a8a3" opacity="0.6"/>
<ellipse cx="1252.4" cy="1145.8" rx="4.4" ry="3.9" fill="#8a8c88" stroke="#62645f" stroke-width="0.6"/>
<ellipse cx="1224.6" cy="1150.2" rx="3.7" ry="4.2" fill="#a6a8a3" opacity="0.6"/>
<ellipse cx="1224.1" cy="1150.7" rx="2.8" ry="3.3" fill="#8a8c88" stroke="#62645f" stroke-width="0.6"/>
<ellipse cx="1456.1" cy="1145.8" rx="4.8" ry="8.6" fill="#a6a8a3" opacity="0.6" transform="rotate(30 1456.1 1145.8)"/>
<ellipse cx="1455.6" cy="1146.3" rx="3.9" ry="7.7" fill="#8a8c88" stroke="#62645f" stroke-width="0.6" transform="rotate(30 1455.6 1146.3)"/>
<ellipse cx="1534.7" cy="1156.9" rx="2.6" ry="3.7" fill="#a6a8a3" opacity="0.6"/>
<ellipse cx="1534.2" cy="1157.4" rx="1.7" ry="2.8" fill="#8a8c88" stroke="#62645f" stroke-width="0.6"/>
<ellipse cx="1124.7" cy="1154.6" rx="3.1" ry="3.1" fill="#a6a8a3" opacity="0.6"/>
<ellipse cx="1124.2" cy="1155.1" rx="2.2" ry="2.2" fill="#8a8c88" stroke="#62645f" stroke-width="0.6"/>
<ellipse cx="1160.5" cy="1155.2" rx="2.6" ry="2.6" fill="#a6a8a3" opacity="0.6"/>
<ellipse cx="1160.0" cy="1155.7" rx="1.7" ry="1.7" fill="#8a8c88" stroke="#62645f" stroke-width="0.6"/>
<ellipse cx="1200.4" cy="1163.3" rx="6.4" ry="16.1" fill="#a6a8a3" opacity="0.6" transform="rotate(-10 1200.4 1163.3)"/>
<ellipse cx="1199.9" cy="1163.8" rx="5.5" ry="15.2" fill="#8a8c88" stroke="#62645f" stroke-width="0.6" transform="rotate(-10 1199.9 1163.8)"/>
<ellipse cx="1116.0" cy="1172.1" rx="7.8" ry="4.8" fill="#a6a8a3" opacity="0.6" transform="rotate(-20 1116.0 1172.1)"/>
<ellipse cx="1115.5" cy="1172.6" rx="6.9" ry="3.9" fill="#8a8c88" stroke="#62645f" stroke-width="0.6" transform="rotate(-20 1115.5 1172.6)"/>
<ellipse cx="1266.3" cy="1174.1" rx="4.2" ry="3.1" fill="#a6a8a3" opacity="0.6"/>
<ellipse cx="1265.8" cy="1174.6" rx="3.3" ry="2.2" fill="#8a8c88" stroke="#62645f" stroke-width="0.6"/>
<ellipse cx="1384.8" cy="1172.6" rx="4.2" ry="4.2" fill="#a6a8a3" opacity="0.6"/>
<ellipse cx="1384.3" cy="1173.1" rx="3.3" ry="3.3" fill="#8a8c88" stroke="#62645f" stroke-width="0.6"/>
<ellipse cx="1405.2" cy="1174.1" rx="8.6" ry="5.3" fill="#a6a8a3" opacity="0.6" transform="rotate(-20 1405.2 1174.1)"/>
<ellipse cx="1404.7" cy="1174.6" rx="7.7" ry="4.4" fill="#8a8c88" stroke="#62645f" stroke-width="0.6" transform="rotate(-20 1404.7 1174.6)"/>
<ellipse cx="1466.3" cy="1172.1" rx="9.2" ry="4.2" fill="#a6a8a3" opacity="0.6"/>
<ellipse cx="1465.8" cy="1172.6" rx="8.3" ry="3.3" fill="#8a8c88" stroke="#62645f" stroke-width="0.6"/>
<ellipse cx="1135.2" cy="1183.1" rx="4.2" ry="4.2" fill="#a6a8a3" opacity="0.6"/>
<ellipse cx="1134.7" cy="1183.6" rx="3.3" ry="3.3" fill="#8a8c88" stroke="#62645f" stroke-width="0.6"/>
<ellipse cx="1177.1" cy="1183.7" rx="3.1" ry="2.6" fill="#a6a8a3" opacity="0.6"/>
<ellipse cx="1176.6" cy="1184.2" rx="2.2" ry="1.7" fill="#8a8c88" stroke="#62645f" stroke-width="0.6"/>
<ellipse cx="1235.4" cy="1190.1" rx="5.9" ry="9.8" fill="#a6a8a3" opacity="0.6"/>
<ellipse cx="1234.9" cy="1190.6" rx="5.0" ry="8.9" fill="#8a8c88" stroke="#62645f" stroke-width="0.6"/>
<ellipse cx="1261.0" cy="1190.1" rx="3.7" ry="3.7" fill="#a6a8a3" opacity="0.6"/>
<ellipse cx="1260.5" cy="1190.6" rx="2.8" ry="2.8" fill="#8a8c88" stroke="#62645f" stroke-width="0.6"/>
<ellipse cx="1331.5" cy="1186.6" rx="2.6" ry="5.3" fill="#a6a8a3" opacity="0.6" transform="rotate(30 1331.5 1186.6)"/>
<ellipse cx="1331.0" cy="1187.1" rx="1.7" ry="4.4" fill="#8a8c88" stroke="#62645f" stroke-width="0.6" transform="rotate(30 1331.0 1187.1)"/>
<ellipse cx="1534.7" cy="1192.4" rx="3.1" ry="3.7" fill="#a6a8a3" opacity="0.6"/>
<ellipse cx="1534.2" cy="1192.9" rx="2.2" ry="2.8" fill="#8a8c88" stroke="#62645f" stroke-width="0.6"/>
<ellipse cx="1138.1" cy="1204.1" rx="10.6" ry="7.8" fill="#a6a8a3" opacity="0.6"/>
<ellipse cx="1137.6" cy="1204.6" rx="9.7" ry="6.9" fill="#8a8c88" stroke="#62645f" stroke-width="0.6"/>
<ellipse cx="1197.5" cy="1205.5" rx="2.6" ry="2.6" fill="#a6a8a3" opacity="0.6"/>
<ellipse cx="1197.0" cy="1206.0" rx="1.7" ry="1.7" fill="#8a8c88" stroke="#62645f" stroke-width="0.6"/>
<ellipse cx="1362.3" cy="1209.9" rx="8.6" ry="10.6" fill="#a6a8a3" opacity="0.6"/>
<ellipse cx="1361.8" cy="1210.4" rx="7.7" ry="9.7" fill="#8a8c88" stroke="#62645f" stroke-width="0.6"/>
<ellipse cx="1523.1" cy="1207.0" rx="4.8" ry="3.7" fill="#a6a8a3" opacity="0.6"/>
<ellipse cx="1522.6" cy="1207.5" rx="3.9" ry="2.8" fill="#8a8c88" stroke="#62645f" stroke-width="0.6"/>
<ellipse cx="1502.7" cy="1211.4" rx="7.0" ry="4.2" fill="#a6a8a3" opacity="0.6"/>
<ellipse cx="1502.2" cy="1211.9" rx="6.1" ry="3.3" fill="#8a8c88" stroke="#62645f" stroke-width="0.6"/>
<ellipse cx="1450.9" cy="1220.1" rx="5.3" ry="7.0" fill="#a6a8a3" opacity="0.6" transform="rotate(20 1450.9 1220.1)"/>
<ellipse cx="1450.4" cy="1220.6" rx="4.4" ry="6.1" fill="#8a8c88" stroke="#62645f" stroke-width="0.6" transform="rotate(20 1450.4 1220.6)"/>
<ellipse cx="1338.2" cy="1222.1" rx="4.2" ry="4.8" fill="#a6a8a3" opacity="0.6"/>
<ellipse cx="1337.7" cy="1222.6" rx="3.3" ry="3.9" fill="#8a8c88" stroke="#62645f" stroke-width="0.6"/>
<ellipse cx="1386.8" cy="1223.0" rx="5.9" ry="6.4" fill="#a6a8a3" opacity="0.6"/>
<ellipse cx="1386.3" cy="1223.5" rx="5.0" ry="5.5" fill="#8a8c88" stroke="#62645f" stroke-width="0.6"/>
<ellipse cx="1519.6" cy="1223.0" rx="3.7" ry="3.7" fill="#a6a8a3" opacity="0.6"/>
<ellipse cx="1519.1" cy="1223.5" rx="2.8" ry="2.8" fill="#8a8c88" stroke="#62645f" stroke-width="0.6"/>
<ellipse cx="1483.8" cy="1231.7" rx="8.6" ry="11.4" fill="#a6a8a3" opacity="0.6" transform="rotate(20 1483.8 1231.7)"/>
<ellipse cx="1483.3" cy="1232.2" rx="7.7" ry="10.5" fill="#8a8c88" stroke="#62645f" stroke-width="0.6" transform="rotate(20 1483.3 1232.2)"/>
<ellipse cx="1105.2" cy="1218.6" rx="5.3" ry="3.7" fill="#a6a8a3" opacity="0.6"/>
<ellipse cx="1104.7" cy="1219.1" rx="4.4" ry="2.8" fill="#8a8c88" stroke="#62645f" stroke-width="0.6"/>
<ellipse cx="1218.8" cy="1218.6" rx="3.7" ry="2.6" fill="#a6a8a3" opacity="0.6"/>
<ellipse cx="1218.3" cy="1219.1" rx="2.8" ry="1.7" fill="#8a8c88" stroke="#62645f" stroke-width="0.6"/>
<ellipse cx="1265.4" cy="1237.6" rx="4.8" ry="5.3" fill="#a6a8a3" opacity="0.6"/>
<ellipse cx="1264.9" cy="1238.1" rx="3.9" ry="4.4" fill="#8a8c88" stroke="#62645f" stroke-width="0.6"/>
<ellipse cx="1138.7" cy="1241.9" rx="6.4" ry="3.7" fill="#a6a8a3" opacity="0.6"/>
<ellipse cx="1138.2" cy="1242.4" rx="5.5" ry="2.8" fill="#8a8c88" stroke="#62645f" stroke-width="0.6"/>
</g>
<g filter="url(#roughtex2)">
<ellipse cx="1138.2" cy="925.6" rx="10.8" ry="3.6" fill="#4fe92a" opacity="1.00"/>
<ellipse cx="1192.1" cy="933.2" rx="1.9" ry="1.9" fill="#4fe92a" opacity="0.45"/>
<ellipse cx="1278.0" cy="932.3" rx="2.5" ry="3.6" fill="#4fe92a" opacity="1.00"/>
<ellipse cx="1506.0" cy="925.0" rx="2.5" ry="2.5" fill="#4fe92a" opacity="1.00"/>
<ellipse cx="1519.7" cy="929.4" rx="2.5" ry="3.6" fill="#4fe92a" opacity="1.00"/>
<ellipse cx="1128.0" cy="944.5" rx="3.6" ry="2.5" fill="#4fe92a" opacity="1.00"/>
<ellipse cx="1400.3" cy="948.9" rx="2.5" ry="3.6" fill="#4fe92a" opacity="1.00"/>
<ellipse cx="1299.8" cy="953.3" rx="4.1" ry="4.1" fill="#4fe92a" opacity="1.00"/>
<ellipse cx="1251.8" cy="963.8" rx="3.0" ry="2.5" fill="#4fe92a" opacity="1.00"/>
<ellipse cx="1213.9" cy="962.9" rx="5.8" ry="9.4" fill="#4fe92a" opacity="1.00" transform="rotate(-30 1213.9 962.9)"/>
<ellipse cx="1286.1" cy="973.7" rx="2.5" ry="3.6" fill="#4fe92a" opacity="1.00"/>
<ellipse cx="1439.0" cy="962.3" rx="2.5" ry="3.0" fill="#4fe92a" opacity="1.00"/>
<ellipse cx="1518.2" cy="957.1" rx="8.0" ry="8.0" fill="#4fe92a" opacity="1.00" transform="rotate(-20 1518.2 957.1)"/>
<ellipse cx="1143.4" cy="973.9" rx="6.6" ry="4.1" fill="#4fe92a" opacity="1.00"/>
<ellipse cx="1366.8" cy="980.9" rx="5.2" ry="8.6" fill="#4fe92a" opacity="1.00"/>
<ellipse cx="1335.6" cy="992.6" rx="2.5" ry="4.1" fill="#4fe92a" opacity="1.00"/>
<ellipse cx="1435.2" cy="989.1" rx="11.3" ry="8.0" fill="#4fe92a" opacity="1.00"/>
<ellipse cx="1433.8" cy="1005.1" rx="4.7" ry="5.8" fill="#4fe92a" opacity="1.00"/>
<ellipse cx="1194.1" cy="1001.6" rx="3.6" ry="2.5" fill="#4fe92a" opacity="1.00"/>
<ellipse cx="1103.3" cy="1010.4" rx="2.5" ry="3.6" fill="#4fe92a" opacity="1.00"/>
<ellipse cx="1407.6" cy="1016.8" rx="16.3" ry="8.0" fill="#4fe92a" opacity="1.00" transform="rotate(25 1407.6 1016.8)"/>
<ellipse cx="1222.7" cy="1026.9" rx="7.4" ry="5.2" fill="#4fe92a" opacity="1.00" transform="rotate(-20 1222.7 1026.9)"/>
<ellipse cx="1294.0" cy="1032.8" rx="10.2" ry="11.3" fill="#4fe92a" opacity="1.00"/>
<ellipse cx="1320.2" cy="1028.4" rx="4.7" ry="1.9" fill="#4fe92a" opacity="1.00"/>
<ellipse cx="1436.7" cy="1040.9" rx="3.0" ry="3.6" fill="#4fe92a" opacity="1.00"/>
<ellipse cx="1207.5" cy="1049.7" rx="3.0" ry="4.1" fill="#4fe92a" opacity="1.00"/>
<ellipse cx="1193.5" cy="1061.0" rx="3.6" ry="5.2" fill="#4fe92a" opacity="1.00"/>
<ellipse cx="1337.1" cy="1053.7" rx="5.8" ry="10.8" fill="#4fe92a" opacity="1.00" transform="rotate(-10 1337.1 1053.7)"/>
<ellipse cx="1370.6" cy="1057.5" rx="4.7" ry="8.6" fill="#4fe92a" opacity="1.00" transform="rotate(-20 1370.6 1057.5)"/>
<ellipse cx="1308.6" cy="1066.8" rx="3.6" ry="1.9" fill="#4fe92a" opacity="1.00"/>
<ellipse cx="1447.5" cy="1061.0" rx="2.5" ry="4.1" fill="#4fe92a" opacity="1.00"/>
<ellipse cx="1444.0" cy="1069.2" rx="1.9" ry="3.0" fill="#4fe92a" opacity="1.00"/>
<ellipse cx="1509.5" cy="1069.8" rx="5.8" ry="2.5" fill="#4fe92a" opacity="1.00"/>
<ellipse cx="1375.5" cy="1085.2" rx="6.6" ry="12.1" fill="#4fe92a" opacity="1.00" transform="rotate(-35 1375.5 1085.2)"/>
<ellipse cx="1419.2" cy="1089.0" rx="3.6" ry="5.2" fill="#4fe92a" opacity="1.00"/>
<ellipse cx="1441.1" cy="1087.5" rx="8.0" ry="4.1" fill="#4fe92a" opacity="1.00"/>
<ellipse cx="1479.5" cy="1085.8" rx="4.7" ry="2.5" fill="#4fe92a" opacity="1.00"/>
<ellipse cx="1264.9" cy="1093.9" rx="6.6" ry="8.0" fill="#4fe92a" opacity="1.00"/>
<ellipse cx="1301.3" cy="1093.1" rx="1.9" ry="2.5" fill="#4fe92a" opacity="1.00"/>
<ellipse cx="1167.3" cy="1096.8" rx="9.4" ry="10.8" fill="#4fe92a" opacity="1.00"/>
<ellipse cx="1280.9" cy="1109.9" rx="3.0" ry="4.1" fill="#4fe92a" opacity="1.00"/>
<ellipse cx="1222.7" cy="1115.2" rx="3.0" ry="3.6" fill="#4fe92a" opacity="1.00"/>
<ellipse cx="1106.2" cy="1117.2" rx="3.6" ry="6.6" fill="#4fe92a" opacity="1.00"/>
<ellipse cx="1471.6" cy="1116.3" rx="5.8" ry="4.7" fill="#4fe92a" opacity="1.00"/>
<ellipse cx="1499.3" cy="1114.3" rx="7.4" ry="7.4" fill="#4fe92a" opacity="1.00"/>
<ellipse cx="1531.9" cy="1121.0" rx="4.1" ry="1.4" fill="#4fe92a" opacity="1.00"/>
<ellipse cx="1145.5" cy="1127.4" rx="14.9" ry="7.4" fill="#4fe92a" opacity="1.00" transform="rotate(20 1145.5 1127.4)"/>
<ellipse cx="1187.7" cy="1131.2" rx="5.8" ry="3.0" fill="#4fe92a" opacity="1.00"/>
<ellipse cx="1331.0" cy="1139.1" rx="7.4" ry="8.6" fill="#4fe92a" opacity="1.00"/>
<ellipse cx="1387.2" cy="1134.7" rx="2.5" ry="3.6" fill="#4fe92a" opacity="1.00"/>
<ellipse cx="1278.0" cy="1138.2" rx="3.6" ry="3.6" fill="#4fe92a" opacity="1.00"/>
<ellipse cx="1252.4" cy="1145.8" rx="4.1" ry="3.6" fill="#4fe92a" opacity="1.00"/>
<ellipse cx="1224.1" cy="1150.7" rx="2.5" ry="3.0" fill="#4fe92a" opacity="1.00"/>
<ellipse cx="1455.6" cy="1146.3" rx="3.6" ry="7.4" fill="#4fe92a" opacity="1.00" transform="rotate(30 1455.6 1146.3)"/>
<ellipse cx="1534.2" cy="1157.4" rx="1.4" ry="2.5" fill="#4fe92a" opacity="1.00"/>
<ellipse cx="1199.9" cy="1163.8" rx="5.2" ry="14.9" fill="#4fe92a" opacity="1.00" transform="rotate(-10 1199.9 1163.8)"/>
<ellipse cx="1115.5" cy="1172.6" rx="6.6" ry="3.6" fill="#4fe92a" opacity="1.00" transform="rotate(-20 1115.5 1172.6)"/>
<ellipse cx="1265.8" cy="1174.6" rx="3.0" ry="1.9" fill="#4fe92a" opacity="1.00"/>
<ellipse cx="1384.3" cy="1173.1" rx="3.0" ry="3.0" fill="#4fe92a" opacity="1.00"/>
<ellipse cx="1404.7" cy="1174.6" rx="7.4" ry="4.1" fill="#4fe92a" opacity="1.00" transform="rotate(-20 1404.7 1174.6)"/>
<ellipse cx="1465.8" cy="1172.6" rx="8.0" ry="3.0" fill="#4fe92a" opacity="1.00"/>
<ellipse cx="1134.7" cy="1183.6" rx="3.0" ry="3.0" fill="#4fe92a" opacity="1.00"/>
<ellipse cx="1176.6" cy="1184.2" rx="1.9" ry="1.4" fill="#4fe92a" opacity="1.00"/>
<ellipse cx="1234.9" cy="1190.6" rx="4.7" ry="8.6" fill="#4fe92a" opacity="1.00"/>
<ellipse cx="1331.0" cy="1187.1" rx="1.4" ry="4.1" fill="#4fe92a" opacity="1.00" transform="rotate(30 1331.0 1187.1)"/>
<ellipse cx="1534.2" cy="1192.9" rx="1.9" ry="2.5" fill="#4fe92a" opacity="1.00"/>
<ellipse cx="1137.6" cy="1204.6" rx="9.4" ry="6.6" fill="#4fe92a" opacity="1.00"/>
<ellipse cx="1197.0" cy="1206.0" rx="1.4" ry="1.4" fill="#4fe92a" opacity="1.00"/>
<ellipse cx="1361.8" cy="1210.4" rx="7.4" ry="9.4" fill="#4fe92a" opacity="1.00"/>
<ellipse cx="1522.6" cy="1207.5" rx="3.6" ry="2.5" fill="#4fe92a" opacity="1.00"/>
<ellipse cx="1502.2" cy="1211.9" rx="5.8" ry="3.0" fill="#4fe92a" opacity="1.00"/>
<ellipse cx="1450.4" cy="1220.6" rx="4.1" ry="5.8" fill="#4fe92a" opacity="1.00" transform="rotate(20 1450.4 1220.6)"/>
<ellipse cx="1337.7" cy="1222.6" rx="3.0" ry="3.6" fill="#4fe92a" opacity="1.00"/>
<ellipse cx="1386.3" cy="1223.5" rx="4.7" ry="5.2" fill="#4fe92a" opacity="1.00"/>
<ellipse cx="1519.1" cy="1223.5" rx="2.5" ry="2.5" fill="#4fe92a" opacity="1.00"/>
<ellipse cx="1483.3" cy="1232.2" rx="7.4" ry="10.2" fill="#4fe92a" opacity="1.00" transform="rotate(20 1483.3 1232.2)"/>
<ellipse cx="1104.7" cy="1219.1" rx="4.1" ry="2.5" fill="#4fe92a" opacity="1.00"/>
<ellipse cx="1218.3" cy="1219.1" rx="2.5" ry="1.4" fill="#4fe92a" opacity="1.00"/>
<ellipse cx="1264.9" cy="1238.1" rx="3.6" ry="4.1" fill="#4fe92a" opacity="1.00"/>
<ellipse cx="1138.2" cy="1242.4" rx="5.2" ry="2.5" fill="#4fe92a" opacity="1.00"/>
</g>
<circle cx="1287.3" cy="964.3" r="1.0" fill="#50524e" opacity="0.8"/>
<circle cx="1166.7" cy="1000.2" r="0.8" fill="#50524e" opacity="0.8"/>
<circle cx="1294.9" cy="1100.3" r="1.0" fill="#50524e" opacity="0.8"/>
<circle cx="1280.3" cy="1082.3" r="0.8" fill="#50524e" opacity="0.8"/>
<circle cx="1318.2" cy="1212.7" r="0.8" fill="#50524e" opacity="0.8"/>
<circle cx="1406.1" cy="1222.1" r="0.8" fill="#50524e" opacity="0.8"/>
<circle cx="1411.4" cy="1234.3" r="0.8" fill="#50524e" opacity="0.8"/>
<line x1="1119.1" y1="1229.3" x2="1219.1" y2="1229.3" stroke="#d8c86a" stroke-width="1.0" />
<line x1="1119.1" y1="1226.3" x2="1119.1" y2="1229.3" stroke="#d8c86a" stroke-width="1.0" />
<line x1="1219.1" y1="1226.3" x2="1219.1" y2="1229.3" stroke="#d8c86a" stroke-width="1.0" />
<line x1="1169.1" y1="1227.3" x2="1169.1" y2="1229.3" stroke="#d8c86a" stroke-width="1.0" />
<text x="1119.1" y="1224.8" font-size="4.5" text-anchor="start" fill="#d8c86a" >0</text>
<text x="1169.1" y="1224.8" font-size="4.5" text-anchor="middle" fill="#d8c86a" >µm</text>
<text x="1219.1" y="1224.8" font-size="4.5" text-anchor="middle" fill="#d8c86a" >400</text>
<text x="1120.1" y="1237.8" font-size="5" text-anchor="start" fill="#d0c060" font-style="italic">1.75 x 1.29 mm, 2.27 mm²</text>
<rect x="1486.4" y="1235.9" width="48.6" height="8.8" fill="#000" />
<text x="1510.5" y="1242.8" font-size="7.2" text-anchor="middle" fill="#e8e8e8" font-weight="bold" textLength="35.5" lengthAdjust="spacingAndGlyphs" >0d 12h 0m</text>
</g>
</svg>
</body></html>
